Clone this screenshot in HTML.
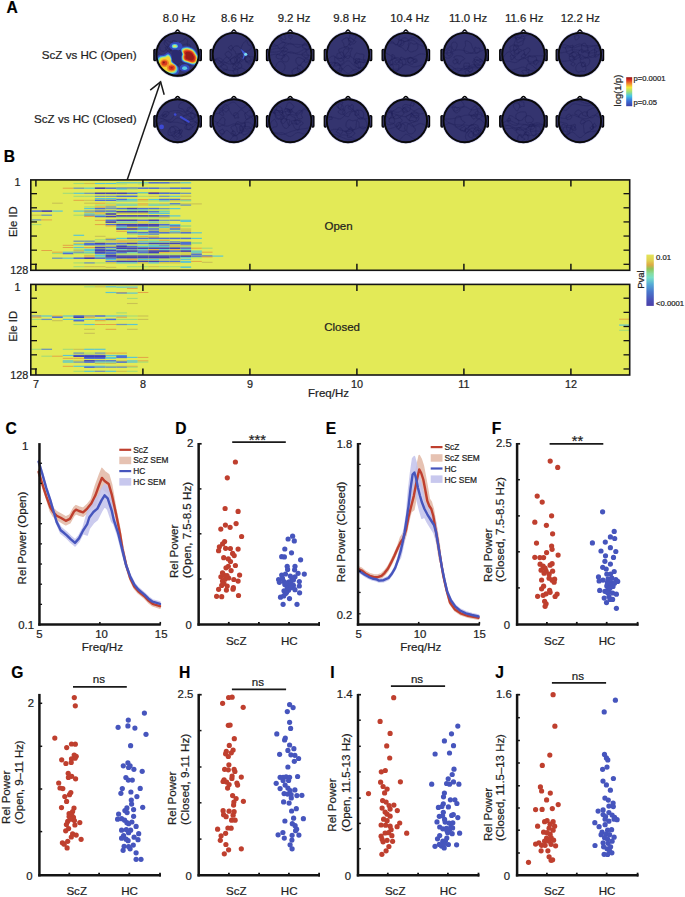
<!DOCTYPE html>
<html><head><meta charset="utf-8"><style>
html,body{margin:0;padding:0;background:#fff;}
svg{display:block;}
text{font-family:"Liberation Sans", sans-serif; stroke:#1e1e1e; stroke-width:0.22px; paint-order:stroke;}
</style></head><body>
<svg width="685" height="897" viewBox="0 0 685 897">
<rect width="685" height="897" fill="#fff"/>
<text x="6.40" y="12.70" font-size="15.6" text-anchor="start" font-weight="bold" fill="#000">A</text>
<text x="3.70" y="161.70" font-size="15.6" text-anchor="start" font-weight="bold" fill="#000">B</text>
<text x="5.60" y="434.20" font-size="15.6" text-anchor="start" font-weight="bold" fill="#000">C</text>
<text x="175.20" y="434.20" font-size="15.6" text-anchor="start" font-weight="bold" fill="#000">D</text>
<text x="325.80" y="434.10" font-size="15.6" text-anchor="start" font-weight="bold" fill="#000">E</text>
<text x="491.80" y="434.10" font-size="15.6" text-anchor="start" font-weight="bold" fill="#000">F</text>
<text x="11.30" y="677.70" font-size="15.6" text-anchor="start" font-weight="bold" fill="#000">G</text>
<text x="179.00" y="677.70" font-size="15.6" text-anchor="start" font-weight="bold" fill="#000">H</text>
<text x="330.30" y="678.00" font-size="15.6" text-anchor="start" font-weight="bold" fill="#000">I</text>
<text x="495.20" y="677.80" font-size="15.6" text-anchor="start" font-weight="bold" fill="#000">J</text>
<text x="179.10" y="22.10" font-size="11.4" text-anchor="middle" fill="#1e1e1e">8.0 Hz</text>
<text x="237.40" y="22.10" font-size="11.4" text-anchor="middle" fill="#1e1e1e">8.6 Hz</text>
<text x="294.10" y="22.10" font-size="11.4" text-anchor="middle" fill="#1e1e1e">9.2 Hz</text>
<text x="349.70" y="22.10" font-size="11.4" text-anchor="middle" fill="#1e1e1e">9.8 Hz</text>
<text x="409.90" y="22.10" font-size="11.4" text-anchor="middle" fill="#1e1e1e">10.4 Hz</text>
<text x="468.10" y="22.10" font-size="11.4" text-anchor="middle" fill="#1e1e1e">11.0 Hz</text>
<text x="524.20" y="22.10" font-size="11.4" text-anchor="middle" fill="#1e1e1e">11.6 Hz</text>
<text x="580.30" y="22.10" font-size="11.4" text-anchor="middle" fill="#1e1e1e">12.2 Hz</text>
<text x="136.50" y="58.60" font-size="11.6" text-anchor="end" fill="#1e1e1e">ScZ vs HC (Open)</text>
<text x="136.50" y="123.00" font-size="11.6" text-anchor="end" fill="#1e1e1e">ScZ vs HC (Closed)</text>
<defs><linearGradient id="jet" x1="0" y1="1" x2="0" y2="0"><stop offset="0" stop-color="#3a3fa8"/><stop offset="0.18" stop-color="#3b6fd8"/><stop offset="0.35" stop-color="#46c6e6"/><stop offset="0.5" stop-color="#9ee07a"/><stop offset="0.65" stop-color="#f3e83a"/><stop offset="0.8" stop-color="#f0782a"/><stop offset="0.92" stop-color="#d2241e"/><stop offset="1" stop-color="#8e1a16"/></linearGradient><linearGradient id="parula" x1="0" y1="1" x2="0" y2="0"><stop offset="0" stop-color="#4a3ea8"/><stop offset="0.12" stop-color="#4a52b8"/><stop offset="0.28" stop-color="#4a78cc"/><stop offset="0.42" stop-color="#56aad6"/><stop offset="0.55" stop-color="#78e0c8"/><stop offset="0.63" stop-color="#86dca0"/><stop offset="0.72" stop-color="#8cc65a"/><stop offset="0.80" stop-color="#dcaa44"/><stop offset="0.88" stop-color="#e0d050"/><stop offset="1" stop-color="#e3e45a"/></linearGradient></defs>
<rect x="626.2" y="77.2" width="6" height="29" fill="url(#jet)"/>
<text x="633.50" y="81.40" font-size="7.6" text-anchor="start" fill="#1e1e1e">p=0.0001</text>
<text x="633.50" y="105.10" font-size="7.6" text-anchor="start" fill="#1e1e1e">p=0.05</text>
<text x="620.80" y="90.50" font-size="9.4" text-anchor="middle" fill="#1e1e1e" transform="rotate(-90 620.8 90.5)">log(1/p)</text>
<line x1="126.30" y1="182.40" x2="160.60" y2="81.80" stroke="#1a1a1a" stroke-width="1.5"/>
<path d="M150.2,90.1 L160.6,81.8 L164.2,94.8" fill="none" stroke="#1a1a1a" stroke-width="1.5"/>
<defs><filter id="tblur" x="-20%" y="-20%" width="140%" height="140%"><feGaussianBlur stdDeviation="0.45"/></filter></defs>
<defs><clipPath id="tc00"><circle cx="177.60" cy="54.35" r="21.35"/></clipPath></defs>
<defs><clipPath id="tc01"><circle cx="233.90" cy="54.35" r="21.35"/></clipPath></defs>
<defs><clipPath id="tc02"><circle cx="290.20" cy="54.35" r="21.35"/></clipPath></defs>
<defs><clipPath id="tc03"><circle cx="348.00" cy="54.35" r="21.35"/></clipPath></defs>
<defs><clipPath id="tc04"><circle cx="405.85" cy="54.35" r="21.35"/></clipPath></defs>
<defs><clipPath id="tc05"><circle cx="464.70" cy="54.35" r="21.35"/></clipPath></defs>
<defs><clipPath id="tc06"><circle cx="523.45" cy="54.35" r="21.35"/></clipPath></defs>
<defs><clipPath id="tc07"><circle cx="579.90" cy="54.35" r="21.35"/></clipPath></defs>
<defs><clipPath id="tc10"><circle cx="177.60" cy="120.75" r="21.35"/></clipPath></defs>
<defs><clipPath id="tc11"><circle cx="233.90" cy="120.75" r="21.35"/></clipPath></defs>
<defs><clipPath id="tc12"><circle cx="290.20" cy="120.75" r="21.35"/></clipPath></defs>
<defs><clipPath id="tc13"><circle cx="348.00" cy="120.75" r="21.35"/></clipPath></defs>
<defs><clipPath id="tc14"><circle cx="405.85" cy="120.75" r="21.35"/></clipPath></defs>
<defs><clipPath id="tc15"><circle cx="464.70" cy="120.75" r="21.35"/></clipPath></defs>
<defs><clipPath id="tc16"><circle cx="523.45" cy="120.75" r="21.35"/></clipPath></defs>
<defs><clipPath id="tc17"><circle cx="579.90" cy="120.75" r="21.35"/></clipPath></defs>
<g transform="translate(177.60 54.35) scale(1 1.013) translate(-177.60 -54.35)">
<rect x="153.85" y="49.35" width="2.3" height="11.2" rx="0.9" fill="#1e1e44" stroke="#000" stroke-width="1.2"/>
<rect x="199.05" y="49.35" width="2.3" height="11.2" rx="0.9" fill="#1e1e44" stroke="#000" stroke-width="1.2"/>
<path d="M174.20,33.90 Q175.20,32.50 176.50,31.00 Q177.60,29.80 178.70,31.00 Q180.00,32.50 181.00,33.90" fill="#fff" stroke="#000" stroke-width="1.5" stroke-linejoin="round"/>
<circle cx="177.60" cy="54.35" r="22.75" fill="#8080c8" opacity="0.45"/>
<circle cx="177.60" cy="54.35" r="21.85" fill="#34346f"/>
<g clip-path="url(#tc00)"><path d="M182.06,67.89 C182.11,68.59 181.81,69.79 181.30,70.13 C180.79,70.47 179.59,70.02 178.98,69.92 C178.38,69.83 178.35,69.67 177.66,69.56 C176.97,69.45 175.08,69.69 174.84,69.26 C174.60,68.84 175.80,67.60 176.22,67.01 C176.64,66.42 176.85,66.31 177.38,65.73 C177.91,65.15 178.79,63.50 179.39,63.53 C180.00,63.56 180.55,65.17 181.00,65.90 C181.44,66.62 182.01,67.18 182.06,67.89Z" fill="none" stroke="#1f1f55" stroke-width="0.55" opacity="0.6"/><path d="M187.17,43.48 C187.18,44.45 188.04,45.56 187.70,46.44 C187.36,47.33 186.04,48.67 185.10,48.79 C184.16,48.90 182.98,47.75 182.04,47.15 C181.11,46.55 179.89,46.06 179.50,45.18 C179.11,44.29 179.16,42.53 179.72,41.86 C180.27,41.18 181.92,41.68 182.81,41.13 C183.70,40.57 184.24,38.62 185.04,38.53 C185.83,38.44 187.23,39.78 187.59,40.61 C187.94,41.43 187.15,42.50 187.17,43.48Z" fill="none" stroke="#1f1f55" stroke-width="0.55" opacity="0.6"/><path d="M181.47,57.42 C181.36,58.78 181.70,60.13 181.08,61.20 C180.45,62.27 178.94,63.63 177.71,63.84 C176.47,64.06 174.88,63.19 173.64,62.50 C172.41,61.81 170.52,60.82 170.29,59.71 C170.06,58.60 171.74,57.13 172.27,55.86 C172.80,54.58 172.61,52.57 173.47,52.05 C174.33,51.53 176.03,52.54 177.40,52.72 C178.78,52.89 181.06,52.30 181.74,53.09 C182.42,53.87 181.58,56.07 181.47,57.42Z" fill="none" stroke="#1f1f55" stroke-width="0.55" opacity="0.6"/><path d="M183.54,50.39 C183.63,50.99 184.41,52.06 184.18,52.42 C183.95,52.78 182.75,52.51 182.14,52.54 C181.52,52.57 180.86,52.83 180.49,52.58 C180.12,52.34 180.09,51.55 179.94,51.05 C179.79,50.55 179.45,50.01 179.58,49.60 C179.71,49.18 180.29,48.78 180.71,48.58 C181.13,48.37 181.62,48.35 182.11,48.39 C182.60,48.43 183.41,48.47 183.64,48.81 C183.88,49.14 183.45,49.79 183.54,50.39Z" fill="none" stroke="#1f1f55" stroke-width="0.55" opacity="0.6"/><path d="M168.30,45.51 C168.43,46.60 167.55,48.10 166.75,49.08 C165.96,50.07 164.66,51.33 163.54,51.44 C162.42,51.56 160.71,50.58 160.04,49.77 C159.37,48.96 159.99,47.62 159.53,46.59 C159.07,45.57 157.26,44.64 157.26,43.61 C157.26,42.57 158.49,41.00 159.53,40.38 C160.57,39.76 162.41,39.51 163.49,39.88 C164.57,40.24 165.19,41.64 165.99,42.58 C166.79,43.52 168.18,44.43 168.30,45.51Z" fill="none" stroke="#1f1f55" stroke-width="0.55" opacity="0.6"/><path d="M180.86,46.11 C180.92,46.92 179.56,48.19 178.79,48.71 C178.02,49.23 177.28,48.77 176.25,49.24 C175.21,49.71 173.72,51.67 172.57,51.53 C171.41,51.40 169.31,49.52 169.32,48.43 C169.32,47.34 172.06,46.25 172.62,44.99 C173.18,43.73 172.03,41.43 172.67,40.87 C173.31,40.32 175.53,41.16 176.48,41.65 C177.43,42.15 177.66,43.11 178.39,43.85 C179.12,44.60 180.79,45.30 180.86,46.11Z" fill="none" stroke="#1f1f55" stroke-width="0.55" opacity="0.6"/><path d="M176.40,69.88 C176.20,71.22 177.85,72.88 177.41,73.40 C176.97,73.93 174.96,72.76 173.76,73.03 C172.57,73.29 171.03,75.27 170.25,74.99 C169.48,74.72 169.65,72.59 169.12,71.36 C168.58,70.14 166.94,68.88 167.04,67.63 C167.14,66.38 168.55,64.30 169.72,63.85 C170.90,63.39 172.61,64.65 174.08,64.90 C175.56,65.15 178.21,64.52 178.60,65.35 C178.98,66.18 176.60,68.53 176.40,69.88Z" fill="none" stroke="#1f1f55" stroke-width="0.55" opacity="0.6"/><path d="M178.24,59.10 C177.93,60.02 178.37,60.45 178.06,61.06 C177.75,61.67 177.13,62.46 176.38,62.77 C175.62,63.07 174.11,63.33 173.54,62.89 C172.98,62.44 173.03,60.87 172.99,60.10 C172.96,59.32 173.31,59.15 173.34,58.23 C173.36,57.31 172.63,55.01 173.13,54.60 C173.63,54.18 175.19,55.57 176.32,55.73 C177.46,55.89 179.62,55.01 179.94,55.57 C180.26,56.13 178.56,58.19 178.24,59.10Z" fill="none" stroke="#1f1f55" stroke-width="0.55" opacity="0.6"/><path d="M190.17,47.51 C190.14,48.37 190.09,49.40 189.60,50.02 C189.12,50.64 188.07,51.11 187.26,51.23 C186.46,51.34 185.49,51.09 184.77,50.69 C184.06,50.29 183.44,49.62 183.00,48.82 C182.56,48.02 181.85,46.62 182.16,45.89 C182.46,45.16 184.01,44.73 184.85,44.46 C185.69,44.19 186.36,44.18 187.18,44.25 C188.00,44.32 189.27,44.32 189.77,44.86 C190.26,45.41 190.20,46.65 190.17,47.51Z" fill="none" stroke="#1f1f55" stroke-width="0.55" opacity="0.6"/><path d="M183.89,64.42 C184.16,65.40 183.52,67.49 182.69,68.03 C181.87,68.58 180.10,67.54 178.96,67.67 C177.82,67.79 176.86,69.00 175.86,68.79 C174.86,68.58 173.07,67.31 172.97,66.39 C172.87,65.47 174.84,64.46 175.25,63.28 C175.66,62.09 174.73,60.08 175.42,59.29 C176.12,58.50 178.48,58.04 179.42,58.52 C180.37,59.00 180.33,61.18 181.07,62.16 C181.82,63.14 183.62,63.44 183.89,64.42Z" fill="none" stroke="#1f1f55" stroke-width="0.55" opacity="0.6"/><path d="M172.65,45.33 C172.76,46.32 173.18,47.72 172.70,48.57 C172.21,49.41 170.60,50.55 169.74,50.39 C168.87,50.24 168.10,48.33 167.51,47.64 C166.93,46.96 166.77,46.96 166.22,46.29 C165.67,45.63 164.28,44.66 164.22,43.65 C164.17,42.64 165.02,40.50 165.89,40.21 C166.76,39.93 168.42,41.53 169.45,41.93 C170.47,42.34 171.50,42.09 172.04,42.66 C172.57,43.23 172.54,44.35 172.65,45.33Z" fill="none" stroke="#1f1f55" stroke-width="0.55" opacity="0.6"/><path d="M171.58,48.63 C171.46,49.33 171.41,49.88 171.06,50.44 C170.72,50.99 170.07,51.88 169.49,51.96 C168.91,52.04 168.13,51.31 167.58,50.91 C167.04,50.52 166.62,50.20 166.24,49.60 C165.86,49.00 165.02,47.76 165.30,47.31 C165.59,46.87 167.23,47.26 167.93,46.93 C168.62,46.60 168.84,45.47 169.48,45.35 C170.12,45.24 171.42,45.68 171.77,46.22 C172.12,46.77 171.70,47.92 171.58,48.63Z" fill="none" stroke="#1f1f55" stroke-width="0.55" opacity="0.6"/><path d="M178.18,62.42 C178.06,63.29 177.64,63.98 177.15,64.72 C176.65,65.47 176.11,66.46 175.19,66.88 C174.27,67.29 172.28,67.77 171.64,67.21 C171.00,66.65 171.53,64.57 171.35,63.53 C171.17,62.50 170.39,61.80 170.56,61.02 C170.72,60.24 171.52,59.60 172.33,58.84 C173.15,58.08 174.53,56.35 175.45,56.47 C176.38,56.58 177.43,58.51 177.88,59.50 C178.33,60.50 178.30,61.55 178.18,62.42Z" fill="none" stroke="#1f1f55" stroke-width="0.55" opacity="0.6"/><path d="M155.95,64.02 C157.15,64.24 160.76,64.72 163.17,65.36 C165.57,66.00 167.98,67.14 170.38,67.87 C172.79,68.60 175.19,70.01 177.60,69.74 C180.01,69.48 182.41,67.15 184.82,66.27 C187.22,65.39 189.63,64.91 192.03,64.47 C194.44,64.03 198.05,63.77 199.25,63.63" fill="none" stroke="#1f1f55" stroke-width="0.55" opacity="0.55"/><path d="M155.95,52.90 C157.15,53.72 160.76,56.97 163.17,57.83 C165.57,58.69 167.98,58.92 170.38,58.08 C172.79,57.25 175.19,53.59 177.60,52.84 C180.01,52.10 182.41,52.77 184.82,53.61 C187.22,54.44 189.63,57.35 192.03,57.83 C194.44,58.32 198.05,56.73 199.25,56.51" fill="none" stroke="#1f1f55" stroke-width="0.55" opacity="0.55"/><path d="M155.95,63.72 C157.15,63.43 160.76,62.07 163.17,62.00 C165.57,61.93 167.98,62.41 170.38,63.29 C172.79,64.18 175.19,67.34 177.60,67.31 C180.01,67.28 182.41,63.72 184.82,63.13 C187.22,62.53 189.63,63.54 192.03,63.73 C194.44,63.92 198.05,64.20 199.25,64.29" fill="none" stroke="#1f1f55" stroke-width="0.55" opacity="0.55"/><path d="M155.95,50.85 C157.15,51.53 160.76,55.27 163.17,54.94 C165.57,54.60 167.98,50.04 170.38,48.82 C172.79,47.60 175.19,46.56 177.60,47.61 C180.01,48.66 182.41,53.95 184.82,55.12 C187.22,56.28 189.63,54.55 192.03,54.61 C194.44,54.67 198.05,55.32 199.25,55.47" fill="none" stroke="#1f1f55" stroke-width="0.55" opacity="0.55"/><g filter="url(#tblur)"><path d="M155.93,58.33 C156.42,57.05 156.99,56.15 158.36,55.51 C159.72,54.87 162.58,54.98 164.12,54.49 C165.65,54.00 166.53,52.66 167.57,52.57 C168.62,52.48 169.66,53.17 170.39,53.98 C171.12,54.79 171.58,56.22 171.93,57.43 C172.27,58.65 171.80,60.14 172.44,61.27 C173.08,62.40 174.72,63.24 175.77,64.22 C176.81,65.20 178.13,66.03 178.71,67.16 C179.29,68.29 179.54,69.79 179.22,71.00 C178.90,72.22 178.01,73.73 176.79,74.46 C175.57,75.18 173.72,75.44 171.93,75.35 C170.13,75.27 167.83,74.59 166.04,73.95 C164.25,73.31 162.62,72.50 161.17,71.51 C159.72,70.53 158.29,69.44 157.33,68.06 C156.37,66.67 155.65,64.82 155.41,63.19 C155.18,61.57 155.44,59.61 155.93,58.33Z" fill="#3448bc"/><path d="M180.39,49.14 C180.55,47.98 181.55,47.29 182.71,46.82 C183.87,46.35 185.80,46.17 187.35,46.33 C188.89,46.49 190.68,47.16 191.98,47.79 C193.28,48.43 194.24,49.12 195.15,50.11 C196.07,51.11 196.76,52.53 197.47,53.77 C198.18,55.01 199.14,56.31 199.42,57.55 C199.71,58.80 199.50,60.08 199.18,61.21 C198.85,62.35 198.37,63.70 197.47,64.39 C196.58,65.08 195.03,65.36 193.81,65.36 C192.59,65.36 191.39,64.77 190.15,64.39 C188.91,64.00 187.47,63.41 186.37,63.04 C185.27,62.68 184.40,62.66 183.56,62.19 C182.73,61.72 181.81,61.17 181.37,60.24 C180.92,59.30 180.82,57.66 180.88,56.58 C180.94,55.50 181.81,55.01 181.73,53.77 C181.65,52.53 180.23,50.30 180.39,49.14Z" fill="#3448bc"/><ellipse cx="176.00" cy="46.45" rx="6.5" ry="4.2" fill="#3448bc"/><ellipse cx="184.60" cy="67.75" rx="5" ry="3.6" fill="#3448bc"/><path d="M172.00,50.95 C172.75,49.70 175.50,49.62 177.00,49.95 C178.50,50.28 180.25,51.53 181.00,52.95 C181.75,54.37 181.83,56.70 181.50,58.45 C181.17,60.20 180.17,62.78 179.00,63.45 C177.83,64.12 175.58,63.45 174.50,62.45 C173.42,61.45 172.92,59.37 172.50,57.45 C172.08,55.53 171.25,52.20 172.00,50.95Z" fill="#2c2c70"/><path d="M157.58,59.11 C158.00,58.01 158.50,57.24 159.67,56.69 C160.84,56.14 163.30,56.24 164.62,55.81 C165.94,55.39 166.69,54.24 167.59,54.16 C168.49,54.09 169.39,54.68 170.01,55.37 C170.63,56.07 171.04,57.30 171.33,58.34 C171.62,59.39 171.22,60.67 171.77,61.64 C172.32,62.62 173.73,63.33 174.63,64.17 C175.53,65.02 176.67,65.73 177.16,66.70 C177.66,67.68 177.88,68.96 177.60,70.00 C177.33,71.05 176.56,72.35 175.51,72.97 C174.47,73.60 172.87,73.82 171.33,73.74 C169.79,73.67 167.81,73.08 166.27,72.53 C164.73,71.98 163.34,71.29 162.09,70.44 C160.84,69.60 159.62,68.67 158.79,67.47 C157.97,66.28 157.34,64.69 157.14,63.29 C156.94,61.90 157.16,60.21 157.58,59.11Z" fill="#46b4e4"/><path d="M158.50,59.55 C158.88,58.55 159.33,57.85 160.40,57.35 C161.47,56.85 163.70,56.93 164.90,56.55 C166.10,56.17 166.78,55.12 167.60,55.05 C168.42,54.98 169.23,55.52 169.80,56.15 C170.37,56.78 170.73,57.90 171.00,58.85 C171.27,59.80 170.90,60.97 171.40,61.85 C171.90,62.73 173.18,63.38 174.00,64.15 C174.82,64.92 175.85,65.57 176.30,66.45 C176.75,67.33 176.95,68.50 176.70,69.45 C176.45,70.40 175.75,71.58 174.80,72.15 C173.85,72.72 172.40,72.92 171.00,72.85 C169.60,72.78 167.80,72.25 166.40,71.75 C165.00,71.25 163.73,70.62 162.60,69.85 C161.47,69.08 160.35,68.23 159.60,67.15 C158.85,66.07 158.28,64.62 158.10,63.35 C157.92,62.08 158.12,60.55 158.50,59.55Z" fill="#8ee0a0"/><path d="M159.42,59.99 C159.76,59.09 160.17,58.46 161.13,58.01 C162.09,57.56 164.10,57.63 165.18,57.29 C166.26,56.94 166.87,56.00 167.61,55.94 C168.34,55.88 169.08,56.36 169.59,56.93 C170.10,57.50 170.43,58.50 170.67,59.36 C170.91,60.21 170.58,61.26 171.03,62.06 C171.48,62.85 172.63,63.44 173.37,64.13 C174.10,64.82 175.03,65.40 175.44,66.20 C175.84,66.99 176.02,68.04 175.80,68.90 C175.57,69.75 174.94,70.82 174.09,71.33 C173.23,71.84 171.93,72.02 170.67,71.96 C169.41,71.90 167.79,71.42 166.53,70.97 C165.27,70.52 164.13,69.95 163.11,69.26 C162.09,68.57 161.08,67.80 160.41,66.83 C159.73,65.85 159.22,64.55 159.06,63.41 C158.89,62.27 159.07,60.89 159.42,59.99Z" fill="#e6e43a"/><path d="M160.34,60.42 C160.65,59.62 161.01,59.06 161.86,58.66 C162.71,58.26 164.50,58.33 165.46,58.02 C166.42,57.71 166.97,56.87 167.62,56.82 C168.27,56.77 168.93,57.19 169.38,57.70 C169.83,58.21 170.13,59.10 170.34,59.86 C170.55,60.62 170.26,61.55 170.66,62.26 C171.06,62.97 172.09,63.49 172.74,64.10 C173.39,64.71 174.22,65.23 174.58,65.94 C174.94,66.65 175.10,67.58 174.90,68.34 C174.70,69.10 174.14,70.05 173.38,70.50 C172.62,70.95 171.46,71.11 170.34,71.06 C169.22,71.01 167.78,70.58 166.66,70.18 C165.54,69.78 164.53,69.27 163.62,68.66 C162.71,68.05 161.82,67.37 161.22,66.50 C160.62,65.63 160.17,64.47 160.02,63.46 C159.87,62.45 160.03,61.22 160.34,60.42Z" fill="#f4d030"/><path d="M181.27,49.85 C181.42,48.81 182.31,48.18 183.36,47.76 C184.40,47.34 186.15,47.18 187.54,47.32 C188.93,47.47 190.55,48.07 191.72,48.64 C192.89,49.21 193.75,49.83 194.58,50.73 C195.40,51.63 196.03,52.91 196.67,54.03 C197.31,55.15 198.17,56.32 198.43,57.44 C198.69,58.56 198.50,59.72 198.21,60.74 C197.92,61.77 197.48,62.98 196.67,63.60 C195.86,64.23 194.47,64.48 193.37,64.48 C192.27,64.48 191.19,63.95 190.07,63.60 C188.95,63.25 187.65,62.72 186.66,62.39 C185.67,62.06 184.88,62.04 184.13,61.62 C183.38,61.20 182.55,60.71 182.15,59.86 C181.75,59.02 181.65,57.53 181.71,56.56 C181.76,55.59 182.55,55.15 182.48,54.03 C182.41,52.91 181.12,50.90 181.27,49.85Z" fill="#46b4e4"/><path d="M182.00,50.45 C182.13,49.50 182.95,48.93 183.90,48.55 C184.85,48.17 186.43,48.02 187.70,48.15 C188.97,48.28 190.43,48.83 191.50,49.35 C192.57,49.87 193.35,50.43 194.10,51.25 C194.85,52.07 195.42,53.23 196.00,54.25 C196.58,55.27 197.37,56.33 197.60,57.35 C197.83,58.37 197.67,59.42 197.40,60.35 C197.13,61.28 196.73,62.38 196.00,62.95 C195.27,63.52 194.00,63.75 193.00,63.75 C192.00,63.75 191.02,63.27 190.00,62.95 C188.98,62.63 187.80,62.15 186.90,61.85 C186.00,61.55 185.28,61.53 184.60,61.15 C183.92,60.77 183.17,60.32 182.80,59.55 C182.43,58.78 182.35,57.43 182.40,56.55 C182.45,55.67 183.17,55.27 183.10,54.25 C183.03,53.23 181.87,51.40 182.00,50.45Z" fill="#9ee090"/><path d="M182.59,50.93 C182.71,50.05 183.46,49.53 184.33,49.18 C185.21,48.83 186.66,48.69 187.83,48.81 C188.99,48.93 190.34,49.44 191.32,49.92 C192.31,50.39 193.03,50.91 193.72,51.66 C194.41,52.41 194.93,53.49 195.47,54.42 C196.00,55.36 196.72,56.34 196.94,57.28 C197.15,58.21 197.00,59.18 196.75,60.04 C196.51,60.89 196.14,61.91 195.47,62.43 C194.79,62.95 193.62,63.16 192.71,63.16 C191.79,63.16 190.88,62.72 189.94,62.43 C189.01,62.14 187.92,61.69 187.09,61.42 C186.27,61.14 185.61,61.12 184.98,60.77 C184.35,60.42 183.66,60.00 183.32,59.30 C182.98,58.59 182.91,57.35 182.95,56.54 C183.00,55.73 183.66,55.36 183.60,54.42 C183.54,53.49 182.46,51.80 182.59,50.93Z" fill="#f0d838"/><path d="M183.17,51.41 C183.28,50.61 183.97,50.13 184.77,49.81 C185.56,49.49 186.89,49.36 187.96,49.47 C189.02,49.59 190.25,50.05 191.15,50.48 C192.05,50.91 192.70,51.39 193.33,52.08 C193.96,52.76 194.44,53.74 194.93,54.60 C195.42,55.45 196.08,56.35 196.27,57.20 C196.47,58.05 196.33,58.94 196.11,59.72 C195.88,60.51 195.55,61.43 194.93,61.91 C194.31,62.38 193.25,62.58 192.41,62.58 C191.57,62.58 190.74,62.17 189.89,61.91 C189.04,61.64 188.04,61.23 187.29,60.98 C186.53,60.73 185.93,60.72 185.35,60.39 C184.78,60.07 184.15,59.69 183.84,59.05 C183.53,58.41 183.46,57.27 183.51,56.53 C183.55,55.79 184.15,55.45 184.09,54.60 C184.04,53.74 183.06,52.20 183.17,51.41Z" fill="#ee7a24"/><path d="M184.05,52.12 C184.14,51.44 184.73,51.03 185.42,50.75 C186.10,50.48 187.24,50.37 188.15,50.47 C189.06,50.56 190.12,50.96 190.89,51.33 C191.66,51.70 192.22,52.11 192.76,52.70 C193.30,53.29 193.71,54.13 194.13,54.86 C194.55,55.59 195.11,56.36 195.28,57.09 C195.45,57.82 195.33,58.58 195.14,59.25 C194.94,59.92 194.66,60.71 194.13,61.12 C193.60,61.53 192.69,61.70 191.97,61.70 C191.25,61.70 190.54,61.35 189.81,61.12 C189.08,60.89 188.22,60.55 187.58,60.33 C186.93,60.11 186.41,60.10 185.92,59.83 C185.43,59.55 184.89,59.23 184.62,58.67 C184.36,58.12 184.30,57.15 184.34,56.51 C184.37,55.88 184.89,55.59 184.84,54.86 C184.79,54.13 183.95,52.81 184.05,52.12Z" fill="#d22a1e"/><path d="M185.29,53.14 C185.36,52.61 185.81,52.30 186.34,52.09 C186.86,51.88 187.73,51.80 188.43,51.87 C189.12,51.94 189.93,52.25 190.52,52.53 C191.10,52.82 191.53,53.13 191.95,53.58 C192.36,54.03 192.67,54.67 192.99,55.23 C193.31,55.79 193.74,56.37 193.87,56.93 C194.00,57.49 193.91,58.07 193.76,58.58 C193.61,59.09 193.39,59.70 192.99,60.01 C192.59,60.32 191.89,60.45 191.34,60.45 C190.79,60.45 190.25,60.19 189.69,60.01 C189.13,59.84 188.48,59.57 187.99,59.41 C187.49,59.24 187.10,59.23 186.72,59.02 C186.34,58.81 185.93,58.56 185.73,58.14 C185.53,57.72 185.48,56.98 185.51,56.49 C185.54,56.01 185.93,55.79 185.90,55.23 C185.86,54.67 185.22,53.66 185.29,53.14Z" fill="#9a1a14"/><ellipse cx="164.60" cy="63.05" rx="4.4" ry="3.8" fill="#f08a28"/><ellipse cx="171.40" cy="67.65" rx="4.4" ry="3.6" fill="#f08a28"/><ellipse cx="164.40" cy="62.85" rx="2.9" ry="2.5" fill="#d83a1e"/><ellipse cx="171.60" cy="67.65" rx="3.0" ry="2.4" fill="#d83a1e"/><ellipse cx="163.80" cy="62.45" rx="1.1" ry="1.0" fill="#8a1a14"/><ellipse cx="171.60" cy="67.65" rx="2.6" ry="2.0" fill="#de3a1e"/><ellipse cx="171.60" cy="67.65" rx="1.3" ry="1.0" fill="#b01e16"/><ellipse cx="174.80" cy="46.25" rx="3.0" ry="2.0" fill="#58d0e0"/><ellipse cx="174.80" cy="46.25" rx="1.8" ry="1.2" fill="#d8e860"/><ellipse cx="184.60" cy="67.95" rx="2.6" ry="1.8" fill="#5cc8e0"/><ellipse cx="198.20" cy="57.95" rx="1.2" ry="3.0" fill="#58c8e0"/></g></g>
<circle cx="177.60" cy="54.35" r="21.20" fill="none" stroke="#0a0a0a" stroke-width="1.9"/>
</g>
<g transform="translate(233.90 54.35) scale(1 1.013) translate(-233.90 -54.35)">
<rect x="210.15" y="49.35" width="2.3" height="11.2" rx="0.9" fill="#1e1e44" stroke="#000" stroke-width="1.2"/>
<rect x="255.35" y="49.35" width="2.3" height="11.2" rx="0.9" fill="#1e1e44" stroke="#000" stroke-width="1.2"/>
<path d="M230.50,33.90 Q231.50,32.50 232.80,31.00 Q233.90,29.80 235.00,31.00 Q236.30,32.50 237.30,33.90" fill="#fff" stroke="#000" stroke-width="1.5" stroke-linejoin="round"/>
<circle cx="233.90" cy="54.35" r="22.75" fill="#8080c8" opacity="0.45"/>
<circle cx="233.90" cy="54.35" r="21.85" fill="#34346f"/>
<g clip-path="url(#tc01)"><path d="M236.78,60.24 C236.71,60.75 236.36,61.12 236.05,61.61 C235.74,62.10 235.58,62.80 234.94,63.20 C234.30,63.60 232.96,64.27 232.24,64.01 C231.52,63.75 230.87,62.48 230.61,61.62 C230.35,60.77 230.28,59.48 230.70,58.88 C231.12,58.29 232.43,58.37 233.15,58.04 C233.87,57.71 234.45,56.85 235.00,56.93 C235.56,57.01 236.18,57.96 236.47,58.51 C236.77,59.07 236.85,59.72 236.78,60.24Z" fill="none" stroke="#1f1f55" stroke-width="0.55" opacity="0.6"/><path d="M240.18,59.65 C240.17,60.36 239.70,61.23 239.21,61.76 C238.72,62.29 237.95,62.72 237.26,62.83 C236.58,62.95 235.49,62.86 235.09,62.44 C234.69,62.02 234.94,60.91 234.86,60.32 C234.78,59.73 234.57,59.42 234.63,58.90 C234.70,58.38 234.84,57.56 235.27,57.18 C235.71,56.80 236.57,56.57 237.23,56.62 C237.90,56.68 238.76,57.01 239.25,57.51 C239.74,58.02 240.19,58.94 240.18,59.65Z" fill="none" stroke="#1f1f55" stroke-width="0.55" opacity="0.6"/><path d="M242.45,50.64 C242.53,51.44 241.64,52.76 240.96,53.25 C240.28,53.74 239.22,53.46 238.37,53.60 C237.52,53.73 236.39,54.41 235.87,54.07 C235.36,53.73 235.82,52.45 235.30,51.57 C234.78,50.69 232.74,49.69 232.73,48.78 C232.72,47.87 234.27,46.50 235.24,46.12 C236.21,45.74 237.71,46.12 238.58,46.51 C239.45,46.90 239.81,47.77 240.45,48.46 C241.10,49.15 242.36,49.84 242.45,50.64Z" fill="none" stroke="#1f1f55" stroke-width="0.55" opacity="0.6"/><path d="M252.08,46.81 C252.32,47.70 250.45,49.31 249.51,50.08 C248.56,50.86 247.53,51.21 246.42,51.45 C245.31,51.69 243.76,52.04 242.87,51.54 C241.98,51.04 241.23,49.44 241.11,48.44 C240.98,47.44 241.74,46.43 242.13,45.54 C242.53,44.65 242.70,43.93 243.46,43.10 C244.23,42.28 245.93,40.30 246.70,40.57 C247.47,40.84 247.17,43.70 248.06,44.74 C248.96,45.78 251.84,45.92 252.08,46.81Z" fill="none" stroke="#1f1f55" stroke-width="0.55" opacity="0.6"/><path d="M250.77,58.53 C250.82,59.08 250.39,59.90 249.98,60.31 C249.56,60.72 248.97,60.70 248.28,60.97 C247.60,61.25 246.28,62.25 245.87,61.96 C245.46,61.68 245.92,59.99 245.83,59.26 C245.75,58.54 245.22,58.06 245.37,57.63 C245.53,57.19 246.27,57.02 246.77,56.66 C247.27,56.29 247.92,55.38 248.40,55.44 C248.87,55.50 249.24,56.52 249.64,57.03 C250.03,57.55 250.71,57.98 250.77,58.53Z" fill="none" stroke="#1f1f55" stroke-width="0.55" opacity="0.6"/><path d="M227.21,66.87 C227.39,67.57 227.58,69.07 227.11,69.41 C226.65,69.74 225.11,69.01 224.44,68.87 C223.77,68.72 223.54,68.75 223.12,68.55 C222.69,68.34 222.29,68.15 221.89,67.67 C221.48,67.18 220.59,66.23 220.68,65.63 C220.78,65.02 221.82,64.22 222.46,64.04 C223.09,63.86 223.89,64.35 224.50,64.54 C225.10,64.74 225.61,64.82 226.07,65.21 C226.52,65.59 227.04,66.17 227.21,66.87Z" fill="none" stroke="#1f1f55" stroke-width="0.55" opacity="0.6"/><path d="M241.65,65.55 C241.67,66.08 241.66,66.77 241.36,67.21 C241.06,67.64 240.37,68.12 239.85,68.18 C239.32,68.24 238.72,67.85 238.22,67.56 C237.72,67.28 236.86,66.87 236.86,66.46 C236.87,66.06 237.97,65.52 238.25,65.14 C238.54,64.75 238.30,64.51 238.57,64.14 C238.83,63.77 239.41,62.92 239.85,62.90 C240.29,62.88 240.91,63.57 241.21,64.01 C241.51,64.45 241.63,65.02 241.65,65.55Z" fill="none" stroke="#1f1f55" stroke-width="0.55" opacity="0.6"/><path d="M223.92,63.89 C224.04,64.52 222.17,65.58 221.40,66.08 C220.64,66.59 220.08,66.73 219.32,66.92 C218.56,67.12 217.37,67.62 216.83,67.28 C216.28,66.93 216.31,65.66 216.05,64.88 C215.80,64.10 215.31,63.59 215.30,62.62 C215.29,61.64 215.30,59.40 215.98,59.03 C216.66,58.66 218.61,59.85 219.40,60.40 C220.18,60.94 219.94,61.71 220.69,62.29 C221.44,62.87 223.80,63.25 223.92,63.89Z" fill="none" stroke="#1f1f55" stroke-width="0.55" opacity="0.6"/><path d="M245.36,56.45 C245.42,57.24 244.78,58.45 244.18,58.97 C243.57,59.49 242.77,59.07 241.73,59.59 C240.69,60.11 238.71,62.36 237.92,62.09 C237.14,61.82 237.05,59.11 237.03,57.96 C237.01,56.82 237.36,55.91 237.80,55.22 C238.23,54.53 239.01,54.11 239.66,53.82 C240.31,53.53 241.01,53.40 241.71,53.47 C242.40,53.54 243.22,53.74 243.83,54.23 C244.44,54.73 245.30,55.67 245.36,56.45Z" fill="none" stroke="#1f1f55" stroke-width="0.55" opacity="0.6"/><path d="M232.68,47.97 C232.63,48.34 232.18,48.53 231.94,48.97 C231.69,49.42 231.53,50.63 231.21,50.66 C230.90,50.69 230.45,49.48 230.06,49.15 C229.67,48.82 229.12,48.99 228.86,48.65 C228.61,48.32 228.34,47.53 228.51,47.16 C228.67,46.78 229.39,46.71 229.84,46.40 C230.29,46.09 230.82,45.24 231.21,45.30 C231.61,45.36 231.97,46.29 232.21,46.74 C232.45,47.18 232.72,47.60 232.68,47.97Z" fill="none" stroke="#1f1f55" stroke-width="0.55" opacity="0.6"/><path d="M236.32,66.13 C236.33,66.45 235.92,66.70 235.69,67.12 C235.46,67.54 235.35,68.44 234.94,68.63 C234.54,68.82 233.65,68.55 233.28,68.25 C232.90,67.94 232.67,67.21 232.69,66.79 C232.70,66.37 233.19,66.05 233.36,65.71 C233.54,65.38 233.49,64.96 233.72,64.78 C233.96,64.60 234.45,64.55 234.77,64.61 C235.09,64.68 235.38,64.92 235.64,65.17 C235.90,65.43 236.31,65.80 236.32,66.13Z" fill="none" stroke="#1f1f55" stroke-width="0.55" opacity="0.6"/><path d="M237.38,71.40 C237.43,72.03 238.46,73.00 238.28,73.40 C238.11,73.80 236.99,73.67 236.32,73.80 C235.65,73.94 234.68,74.48 234.28,74.20 C233.87,73.92 234.09,72.77 233.88,72.13 C233.67,71.49 232.89,70.84 233.01,70.35 C233.13,69.85 234.02,69.43 234.59,69.13 C235.15,68.84 235.82,68.49 236.39,68.57 C236.96,68.65 237.86,69.14 238.02,69.61 C238.19,70.08 237.34,70.76 237.38,71.40Z" fill="none" stroke="#1f1f55" stroke-width="0.55" opacity="0.6"/><path d="M231.65,54.55 C231.74,55.20 231.36,56.17 230.90,56.74 C230.44,57.31 229.52,58.00 228.89,57.96 C228.27,57.91 227.73,56.90 227.17,56.49 C226.62,56.09 225.88,56.05 225.57,55.54 C225.25,55.04 225.07,54.04 225.29,53.46 C225.50,52.88 226.26,52.41 226.86,52.06 C227.45,51.71 228.28,51.24 228.86,51.37 C229.43,51.50 229.85,52.33 230.32,52.86 C230.78,53.39 231.55,53.90 231.65,54.55Z" fill="none" stroke="#1f1f55" stroke-width="0.55" opacity="0.6"/><path d="M212.25,61.20 C213.45,60.64 217.06,57.54 219.47,57.86 C221.87,58.17 224.28,62.18 226.68,63.09 C229.09,64.01 231.49,64.49 233.90,63.36 C236.31,62.23 238.71,56.29 241.12,56.30 C243.52,56.32 245.93,62.30 248.33,63.48 C250.74,64.66 254.35,63.42 255.55,63.40" fill="none" stroke="#1f1f55" stroke-width="0.55" opacity="0.55"/><path d="M212.25,56.54 C213.45,57.68 217.06,63.26 219.47,63.37 C221.87,63.48 224.28,57.11 226.68,57.20 C229.09,57.30 231.49,63.21 233.90,63.93 C236.31,64.65 238.71,62.73 241.12,61.52 C243.52,60.31 245.93,57.33 248.33,56.67 C250.74,56.00 254.35,57.38 255.55,57.52" fill="none" stroke="#1f1f55" stroke-width="0.55" opacity="0.55"/><path d="M212.25,59.59 C213.45,59.82 217.06,60.53 219.47,61.00 C221.87,61.48 224.28,63.16 226.68,62.45 C229.09,61.75 231.49,58.01 233.90,56.78 C236.31,55.55 238.71,54.12 241.12,55.06 C243.52,56.00 245.93,62.40 248.33,62.41 C250.74,62.42 254.35,56.35 255.55,55.14" fill="none" stroke="#1f1f55" stroke-width="0.55" opacity="0.55"/><path d="M212.25,64.32 C213.45,65.24 217.06,68.98 219.47,69.87 C221.87,70.76 224.28,69.56 226.68,69.65 C229.09,69.74 231.49,70.72 233.90,70.41 C236.31,70.10 238.71,67.79 241.12,67.79 C243.52,67.80 245.93,70.88 248.33,70.42 C250.74,69.95 254.35,65.91 255.55,65.00" fill="none" stroke="#1f1f55" stroke-width="0.55" opacity="0.55"/><g filter="url(#tblur)"><path d="M240.30,48.65 L248.20,54.75 L244.40,56.35 L243.20,59.35 L242.50,58.95 L243.70,54.85 Z" fill="#3e5ad8"/><circle cx="245.60" cy="54.35" r="1.5" fill="#7fe0f0"/></g></g>
<circle cx="233.90" cy="54.35" r="21.20" fill="none" stroke="#0a0a0a" stroke-width="1.9"/>
</g>
<g transform="translate(290.20 54.35) scale(1 1.013) translate(-290.20 -54.35)">
<rect x="266.45" y="49.35" width="2.3" height="11.2" rx="0.9" fill="#1e1e44" stroke="#000" stroke-width="1.2"/>
<rect x="311.65" y="49.35" width="2.3" height="11.2" rx="0.9" fill="#1e1e44" stroke="#000" stroke-width="1.2"/>
<path d="M286.80,33.90 Q287.80,32.50 289.10,31.00 Q290.20,29.80 291.30,31.00 Q292.60,32.50 293.60,33.90" fill="#fff" stroke="#000" stroke-width="1.5" stroke-linejoin="round"/>
<circle cx="290.20" cy="54.35" r="22.75" fill="#8080c8" opacity="0.45"/>
<circle cx="290.20" cy="54.35" r="21.85" fill="#34346f"/>
<g clip-path="url(#tc02)"><path d="M285.27,43.29 C285.57,44.25 284.06,45.88 283.18,46.92 C282.29,47.97 280.92,49.72 279.95,49.54 C278.98,49.36 278.27,46.63 277.37,45.85 C276.46,45.07 275.27,45.66 274.51,44.87 C273.75,44.08 272.53,42.12 272.81,41.09 C273.09,40.07 275.00,39.36 276.19,38.70 C277.38,38.03 279.07,36.71 279.93,37.12 C280.79,37.54 280.47,40.16 281.35,41.19 C282.24,42.21 284.96,42.34 285.27,43.29Z" fill="none" stroke="#1f1f55" stroke-width="0.55" opacity="0.6"/><path d="M285.27,56.11 C285.22,56.65 283.60,57.13 283.02,57.61 C282.43,58.09 282.30,58.81 281.75,59.02 C281.19,59.22 280.55,59.03 279.66,58.83 C278.78,58.64 276.92,58.57 276.46,57.85 C276.00,57.14 276.33,55.22 276.89,54.53 C277.46,53.84 278.99,54.22 279.85,53.71 C280.71,53.20 281.48,51.36 282.05,51.47 C282.63,51.58 282.77,53.60 283.31,54.37 C283.85,55.15 285.32,55.58 285.27,56.11Z" fill="none" stroke="#1f1f55" stroke-width="0.55" opacity="0.6"/><path d="M287.70,49.94 C287.61,50.31 286.77,50.61 286.42,50.83 C286.07,51.06 285.98,51.10 285.60,51.32 C285.21,51.53 284.51,52.21 284.10,52.11 C283.69,52.02 283.18,51.19 283.15,50.74 C283.12,50.30 283.78,49.92 283.94,49.43 C284.10,48.94 283.83,48.02 284.12,47.80 C284.41,47.58 285.21,47.97 285.68,48.11 C286.15,48.24 286.60,48.31 286.93,48.62 C287.27,48.92 287.78,49.57 287.70,49.94Z" fill="none" stroke="#1f1f55" stroke-width="0.55" opacity="0.6"/><path d="M301.19,71.49 C301.31,72.60 300.48,74.57 299.59,75.17 C298.70,75.77 296.89,75.14 295.84,75.08 C294.78,75.03 293.87,75.26 293.27,74.84 C292.66,74.42 292.37,73.31 292.21,72.58 C292.04,71.84 292.01,71.01 292.27,70.42 C292.53,69.83 293.19,69.45 293.78,69.03 C294.38,68.60 295.00,67.97 295.84,67.88 C296.68,67.78 297.92,67.85 298.82,68.45 C299.71,69.06 301.06,70.37 301.19,71.49Z" fill="none" stroke="#1f1f55" stroke-width="0.55" opacity="0.6"/><path d="M307.94,54.67 C308.18,55.28 308.62,56.64 308.28,57.13 C307.94,57.63 306.58,57.66 305.87,57.63 C305.16,57.60 304.61,57.25 304.05,56.92 C303.49,56.60 302.86,56.28 302.53,55.70 C302.19,55.12 301.71,53.91 302.01,53.46 C302.32,53.00 303.69,53.46 304.36,52.97 C305.04,52.48 305.67,50.44 306.08,50.53 C306.48,50.61 306.48,52.77 306.79,53.46 C307.10,54.15 307.69,54.06 307.94,54.67Z" fill="none" stroke="#1f1f55" stroke-width="0.55" opacity="0.6"/><path d="M292.47,37.43 C292.40,37.85 291.78,38.18 291.46,38.51 C291.13,38.83 290.83,39.40 290.52,39.39 C290.22,39.37 289.86,38.67 289.61,38.42 C289.37,38.16 289.18,38.08 289.06,37.84 C288.94,37.60 288.90,37.39 288.87,36.96 C288.85,36.52 288.65,35.38 288.90,35.23 C289.16,35.08 289.92,35.92 290.42,36.04 C290.92,36.17 291.56,35.76 291.90,35.99 C292.24,36.22 292.55,37.02 292.47,37.43Z" fill="none" stroke="#1f1f55" stroke-width="0.55" opacity="0.6"/><path d="M309.06,46.71 C308.93,47.49 309.09,48.11 308.75,48.73 C308.40,49.34 307.57,50.44 307.00,50.41 C306.42,50.37 305.98,48.94 305.29,48.54 C304.60,48.13 303.30,48.49 302.88,47.97 C302.46,47.45 302.52,46.19 302.77,45.41 C303.02,44.63 303.71,43.38 304.37,43.28 C305.02,43.18 305.82,44.68 306.68,44.80 C307.54,44.93 309.14,43.71 309.54,44.03 C309.94,44.35 309.19,45.93 309.06,46.71Z" fill="none" stroke="#1f1f55" stroke-width="0.55" opacity="0.6"/><path d="M304.64,60.17 C304.72,60.87 302.68,61.56 301.94,62.45 C301.19,63.34 300.97,65.30 300.17,65.53 C299.37,65.76 297.82,64.51 297.12,63.82 C296.43,63.12 296.18,62.16 295.98,61.35 C295.79,60.55 295.68,59.62 295.97,58.99 C296.26,58.36 297.10,57.81 297.72,57.56 C298.34,57.32 299.07,57.40 299.69,57.52 C300.32,57.65 300.64,57.85 301.46,58.30 C302.29,58.74 304.57,59.48 304.64,60.17Z" fill="none" stroke="#1f1f55" stroke-width="0.55" opacity="0.6"/><path d="M284.88,37.30 C285.02,37.90 286.08,39.04 285.90,39.44 C285.72,39.85 284.39,39.76 283.78,39.73 C283.17,39.69 282.61,39.52 282.24,39.22 C281.87,38.93 281.79,38.42 281.57,37.95 C281.35,37.48 280.88,36.97 280.93,36.42 C280.97,35.88 281.37,34.92 281.84,34.68 C282.31,34.45 283.21,34.83 283.75,35.03 C284.29,35.22 284.88,35.48 285.07,35.86 C285.26,36.24 284.74,36.71 284.88,37.30Z" fill="none" stroke="#1f1f55" stroke-width="0.55" opacity="0.6"/><path d="M308.66,60.39 C308.74,60.85 308.89,61.74 308.62,61.96 C308.34,62.18 307.48,61.66 306.98,61.72 C306.48,61.79 306.06,62.44 305.61,62.36 C305.16,62.29 304.43,61.73 304.29,61.28 C304.15,60.83 304.54,60.15 304.75,59.66 C304.96,59.17 305.19,58.44 305.56,58.34 C305.93,58.25 306.54,58.95 306.97,59.09 C307.40,59.24 307.86,59.00 308.14,59.22 C308.42,59.44 308.58,59.93 308.66,60.39Z" fill="none" stroke="#1f1f55" stroke-width="0.55" opacity="0.6"/><path d="M302.99,67.99 C303.20,68.68 303.66,69.98 303.31,70.59 C302.95,71.19 301.70,71.49 300.85,71.64 C300.00,71.78 298.75,71.89 298.21,71.44 C297.67,70.99 297.71,69.68 297.59,68.94 C297.48,68.20 297.36,67.66 297.52,67.01 C297.67,66.35 297.96,65.33 298.50,65.02 C299.03,64.72 300.11,64.95 300.70,65.19 C301.29,65.42 301.67,65.97 302.05,66.44 C302.43,66.91 302.78,67.29 302.99,67.99Z" fill="none" stroke="#1f1f55" stroke-width="0.55" opacity="0.6"/><path d="M288.85,58.35 C288.88,59.26 288.39,60.58 287.75,61.16 C287.11,61.74 285.84,61.83 285.02,61.82 C284.19,61.81 283.35,61.54 282.81,61.12 C282.27,60.70 281.86,59.89 281.79,59.30 C281.72,58.72 282.17,58.16 282.39,57.62 C282.61,57.08 282.65,56.61 283.10,56.09 C283.55,55.57 284.34,54.56 285.08,54.50 C285.83,54.43 286.94,55.05 287.57,55.70 C288.20,56.34 288.82,57.44 288.85,58.35Z" fill="none" stroke="#1f1f55" stroke-width="0.55" opacity="0.6"/><path d="M285.09,66.83 C285.08,67.98 284.48,69.30 283.74,70.23 C283.00,71.15 281.70,72.35 280.67,72.38 C279.65,72.42 278.63,71.05 277.62,70.43 C276.60,69.82 274.85,69.51 274.59,68.69 C274.34,67.87 275.61,66.49 276.08,65.52 C276.55,64.54 276.62,63.55 277.39,62.84 C278.16,62.13 279.61,61.16 280.68,61.25 C281.75,61.34 283.08,62.44 283.82,63.38 C284.55,64.31 285.10,65.69 285.09,66.83Z" fill="none" stroke="#1f1f55" stroke-width="0.55" opacity="0.6"/><path d="M268.55,50.77 C269.75,50.38 273.36,48.89 275.77,48.41 C278.17,47.92 280.58,48.71 282.98,47.85 C285.39,47.00 287.79,43.35 290.20,43.30 C292.61,43.26 295.01,47.27 297.42,47.58 C299.82,47.90 302.23,45.05 304.63,45.21 C307.04,45.38 310.65,48.02 311.85,48.58" fill="none" stroke="#1f1f55" stroke-width="0.55" opacity="0.55"/><path d="M268.55,55.60 C269.75,55.37 273.36,54.27 275.77,54.25 C278.17,54.22 280.58,55.85 282.98,55.45 C285.39,55.05 287.79,52.05 290.20,51.85 C292.61,51.64 295.01,53.70 297.42,54.22 C299.82,54.74 302.23,54.72 304.63,54.97 C307.04,55.21 310.65,55.57 311.85,55.69" fill="none" stroke="#1f1f55" stroke-width="0.55" opacity="0.55"/><path d="M268.55,51.90 C269.75,51.93 273.36,52.32 275.77,52.11 C278.17,51.91 280.58,50.52 282.98,50.66 C285.39,50.80 287.79,52.61 290.20,52.96 C292.61,53.32 295.01,53.42 297.42,52.81 C299.82,52.20 302.23,49.87 304.63,49.30 C307.04,48.73 310.65,49.38 311.85,49.39" fill="none" stroke="#1f1f55" stroke-width="0.55" opacity="0.55"/><path d="M268.55,45.48 C269.75,45.61 273.36,46.76 275.77,46.29 C278.17,45.81 280.58,42.93 282.98,42.60 C285.39,42.28 287.79,43.99 290.20,44.32 C292.61,44.64 295.01,44.49 297.42,44.54 C299.82,44.60 302.23,45.36 304.63,44.63 C307.04,43.90 310.65,40.91 311.85,40.16" fill="none" stroke="#1f1f55" stroke-width="0.55" opacity="0.55"/></g>
<circle cx="290.20" cy="54.35" r="21.20" fill="none" stroke="#0a0a0a" stroke-width="1.9"/>
</g>
<g transform="translate(348.00 54.35) scale(1 1.013) translate(-348.00 -54.35)">
<rect x="324.25" y="49.35" width="2.3" height="11.2" rx="0.9" fill="#1e1e44" stroke="#000" stroke-width="1.2"/>
<rect x="369.45" y="49.35" width="2.3" height="11.2" rx="0.9" fill="#1e1e44" stroke="#000" stroke-width="1.2"/>
<path d="M344.60,33.90 Q345.60,32.50 346.90,31.00 Q348.00,29.80 349.10,31.00 Q350.40,32.50 351.40,33.90" fill="#fff" stroke="#000" stroke-width="1.5" stroke-linejoin="round"/>
<circle cx="348.00" cy="54.35" r="22.75" fill="#8080c8" opacity="0.45"/>
<circle cx="348.00" cy="54.35" r="21.85" fill="#34346f"/>
<g clip-path="url(#tc03)"><path d="M355.40,38.28 C355.10,38.99 354.51,39.00 354.14,39.67 C353.77,40.33 353.76,42.01 353.19,42.28 C352.62,42.56 351.53,41.74 350.73,41.32 C349.94,40.90 348.62,40.46 348.41,39.77 C348.19,39.08 349.14,38.05 349.45,37.18 C349.77,36.30 349.71,34.79 350.30,34.49 C350.89,34.20 352.06,35.23 353.00,35.38 C353.93,35.54 355.51,34.93 355.91,35.41 C356.31,35.89 355.69,37.57 355.40,38.28Z" fill="none" stroke="#1f1f55" stroke-width="0.55" opacity="0.6"/><path d="M350.85,42.60 C350.79,43.26 349.30,43.79 348.69,44.44 C348.08,45.09 347.95,46.12 347.19,46.50 C346.43,46.87 344.74,47.16 344.14,46.69 C343.55,46.22 343.95,44.61 343.61,43.66 C343.26,42.71 341.96,41.80 342.08,40.99 C342.19,40.19 343.45,39.36 344.33,38.83 C345.20,38.31 346.56,37.57 347.34,37.84 C348.13,38.12 348.44,39.69 349.03,40.49 C349.61,41.28 350.90,41.95 350.85,42.60Z" fill="none" stroke="#1f1f55" stroke-width="0.55" opacity="0.6"/><path d="M366.29,63.44 C366.02,64.36 364.85,64.92 364.19,65.52 C363.54,66.11 363.20,66.59 362.35,67.01 C361.50,67.43 359.80,68.39 359.08,68.03 C358.35,67.66 358.56,65.94 357.98,64.80 C357.41,63.67 355.42,62.18 355.61,61.22 C355.81,60.25 358.04,59.24 359.17,59.01 C360.29,58.79 361.24,59.70 362.35,59.86 C363.47,60.03 365.18,59.39 365.84,59.99 C366.49,60.59 366.57,62.52 366.29,63.44Z" fill="none" stroke="#1f1f55" stroke-width="0.55" opacity="0.6"/><path d="M341.86,68.02 C342.04,69.10 341.75,70.74 341.05,71.72 C340.36,72.70 338.95,73.60 337.68,73.91 C336.41,74.22 334.72,74.16 333.42,73.58 C332.13,73.01 329.90,71.57 329.94,70.46 C329.97,69.35 332.88,67.99 333.62,66.92 C334.35,65.85 333.68,64.77 334.34,64.04 C335.01,63.31 336.67,62.32 337.61,62.52 C338.55,62.71 339.27,64.30 339.98,65.22 C340.69,66.13 341.68,66.93 341.86,68.02Z" fill="none" stroke="#1f1f55" stroke-width="0.55" opacity="0.6"/><path d="M348.49,51.42 C348.10,52.50 346.71,52.74 346.02,53.68 C345.32,54.61 345.13,56.80 344.32,57.05 C343.52,57.29 341.95,55.86 341.18,55.14 C340.42,54.42 340.16,53.64 339.73,52.73 C339.31,51.83 338.34,50.45 338.64,49.71 C338.94,48.98 340.64,48.66 341.53,48.31 C342.43,47.96 342.87,47.78 344.01,47.60 C345.14,47.42 347.59,46.58 348.34,47.22 C349.08,47.86 348.88,50.35 348.49,51.42Z" fill="none" stroke="#1f1f55" stroke-width="0.55" opacity="0.6"/><path d="M350.21,52.40 C349.89,53.53 350.75,53.99 350.45,55.00 C350.15,56.02 349.36,58.19 348.42,58.50 C347.47,58.80 345.58,57.63 344.78,56.84 C343.98,56.05 343.86,54.73 343.63,53.75 C343.39,52.77 343.11,51.80 343.38,50.96 C343.64,50.11 344.45,49.00 345.21,48.71 C345.97,48.41 346.72,49.25 347.91,49.17 C349.10,49.08 351.98,47.65 352.36,48.19 C352.74,48.73 350.53,51.26 350.21,52.40Z" fill="none" stroke="#1f1f55" stroke-width="0.55" opacity="0.6"/><path d="M363.48,58.32 C363.55,59.62 364.72,61.78 364.13,62.38 C363.54,62.98 361.25,61.66 359.92,61.90 C358.59,62.13 357.18,64.04 356.13,63.79 C355.09,63.53 353.94,61.58 353.66,60.37 C353.37,59.16 353.98,57.75 354.42,56.55 C354.86,55.34 355.36,53.56 356.30,53.14 C357.24,52.72 358.81,53.77 360.05,54.02 C361.28,54.26 363.14,53.89 363.71,54.61 C364.28,55.33 363.41,57.03 363.48,58.32Z" fill="none" stroke="#1f1f55" stroke-width="0.55" opacity="0.6"/><path d="M355.90,41.67 C356.04,42.26 354.91,43.40 354.29,43.78 C353.68,44.17 352.96,43.75 352.19,44.01 C351.42,44.27 350.18,45.57 349.66,45.35 C349.14,45.12 349.27,43.47 349.07,42.66 C348.88,41.85 348.39,41.27 348.48,40.47 C348.57,39.68 348.98,38.14 349.60,37.91 C350.23,37.68 351.59,38.71 352.23,39.10 C352.87,39.49 352.84,39.84 353.45,40.27 C354.07,40.70 355.76,41.09 355.90,41.67Z" fill="none" stroke="#1f1f55" stroke-width="0.55" opacity="0.6"/><path d="M360.61,64.25 C360.60,64.90 360.69,65.49 360.39,66.18 C360.09,66.87 359.41,68.35 358.81,68.39 C358.22,68.43 357.40,66.95 356.82,66.43 C356.25,65.90 355.78,65.84 355.35,65.24 C354.92,64.64 354.07,63.51 354.24,62.85 C354.41,62.19 355.66,61.47 356.38,61.29 C357.09,61.10 357.85,61.57 358.53,61.73 C359.20,61.89 360.09,61.85 360.44,62.27 C360.78,62.69 360.62,63.59 360.61,64.25Z" fill="none" stroke="#1f1f55" stroke-width="0.55" opacity="0.6"/><path d="M343.82,55.28 C343.98,56.00 344.54,57.39 344.17,57.84 C343.80,58.29 342.41,57.89 341.60,57.99 C340.79,58.08 340.09,58.60 339.32,58.40 C338.55,58.20 337.36,57.55 336.99,56.79 C336.62,56.02 336.65,54.49 337.10,53.82 C337.55,53.15 338.91,53.11 339.68,52.79 C340.45,52.46 341.14,51.75 341.72,51.88 C342.31,52.00 342.87,52.96 343.22,53.52 C343.57,54.09 343.67,54.56 343.82,55.28Z" fill="none" stroke="#1f1f55" stroke-width="0.55" opacity="0.6"/><path d="M344.07,62.02 C343.86,63.04 341.68,64.08 340.70,64.55 C339.72,65.02 339.06,64.61 338.18,64.84 C337.30,65.07 335.97,66.25 335.41,65.95 C334.85,65.66 334.89,63.89 334.81,63.06 C334.72,62.24 334.91,62.01 334.90,61.01 C334.90,60.00 334.24,57.39 334.80,57.02 C335.35,56.65 337.06,58.56 338.25,58.80 C339.44,59.04 340.97,57.91 341.94,58.44 C342.91,58.98 344.28,61.00 344.07,62.02Z" fill="none" stroke="#1f1f55" stroke-width="0.55" opacity="0.6"/><path d="M339.69,67.94 C339.55,68.86 339.67,69.24 339.33,70.34 C338.99,71.45 338.56,74.19 337.63,74.57 C336.70,74.95 334.68,73.46 333.76,72.62 C332.84,71.78 332.60,70.66 332.10,69.53 C331.59,68.40 330.54,67.02 330.75,65.86 C330.96,64.70 332.27,63.03 333.36,62.57 C334.46,62.11 336.19,62.71 337.32,63.09 C338.45,63.47 339.77,64.03 340.17,64.83 C340.56,65.64 339.83,67.02 339.69,67.94Z" fill="none" stroke="#1f1f55" stroke-width="0.55" opacity="0.6"/><path d="M359.52,60.87 C359.45,61.47 359.27,62.22 358.89,62.50 C358.51,62.77 357.78,62.41 357.24,62.51 C356.70,62.61 355.96,63.28 355.66,63.10 C355.37,62.91 355.50,61.87 355.46,61.41 C355.43,60.95 355.42,60.79 355.45,60.32 C355.48,59.85 355.33,58.89 355.65,58.61 C355.96,58.33 356.73,58.59 357.34,58.63 C357.96,58.68 358.95,58.51 359.31,58.88 C359.68,59.26 359.59,60.26 359.52,60.87Z" fill="none" stroke="#1f1f55" stroke-width="0.55" opacity="0.6"/><path d="M326.35,60.44 C327.55,59.67 331.16,55.67 333.57,55.84 C335.97,56.02 338.38,61.54 340.78,61.49 C343.19,61.43 345.59,55.78 348.00,55.49 C350.41,55.21 352.81,58.67 355.22,59.77 C357.62,60.87 360.03,61.73 362.43,62.12 C364.84,62.50 368.45,62.09 369.65,62.09" fill="none" stroke="#1f1f55" stroke-width="0.55" opacity="0.55"/><path d="M326.35,67.59 C327.55,67.91 331.16,69.07 333.57,69.52 C335.97,69.98 338.38,71.05 340.78,70.30 C343.19,69.56 345.59,64.87 348.00,65.07 C350.41,65.27 352.81,70.49 355.22,71.52 C357.62,72.55 360.03,71.91 362.43,71.24 C364.84,70.57 368.45,68.12 369.65,67.50" fill="none" stroke="#1f1f55" stroke-width="0.55" opacity="0.55"/><path d="M326.35,63.57 C327.55,63.35 331.16,61.85 333.57,62.21 C335.97,62.56 338.38,65.98 340.78,65.70 C343.19,65.41 345.59,60.39 348.00,60.51 C350.41,60.62 352.81,65.18 355.22,66.40 C357.62,67.62 360.03,68.51 362.43,67.82 C364.84,67.14 368.45,63.21 369.65,62.29" fill="none" stroke="#1f1f55" stroke-width="0.55" opacity="0.55"/><path d="M326.35,66.25 C327.55,67.28 331.16,72.18 333.57,72.44 C335.97,72.71 338.38,67.67 340.78,67.82 C343.19,67.96 345.59,73.11 348.00,73.31 C350.41,73.51 352.81,69.08 355.22,69.03 C357.62,68.97 360.03,73.49 362.43,72.96 C364.84,72.43 368.45,67.02 369.65,65.84" fill="none" stroke="#1f1f55" stroke-width="0.55" opacity="0.55"/></g>
<circle cx="348.00" cy="54.35" r="21.20" fill="none" stroke="#0a0a0a" stroke-width="1.9"/>
</g>
<g transform="translate(405.85 54.35) scale(1 1.013) translate(-405.85 -54.35)">
<rect x="382.10" y="49.35" width="2.3" height="11.2" rx="0.9" fill="#1e1e44" stroke="#000" stroke-width="1.2"/>
<rect x="427.30" y="49.35" width="2.3" height="11.2" rx="0.9" fill="#1e1e44" stroke="#000" stroke-width="1.2"/>
<path d="M402.45,33.90 Q403.45,32.50 404.75,31.00 Q405.85,29.80 406.95,31.00 Q408.25,32.50 409.25,33.90" fill="#fff" stroke="#000" stroke-width="1.5" stroke-linejoin="round"/>
<circle cx="405.85" cy="54.35" r="22.75" fill="#8080c8" opacity="0.45"/>
<circle cx="405.85" cy="54.35" r="21.85" fill="#34346f"/>
<g clip-path="url(#tc04)"><path d="M405.42,60.74 C405.61,61.51 406.32,62.91 405.97,63.52 C405.62,64.14 404.08,64.51 403.30,64.44 C402.52,64.37 402.06,63.47 401.29,63.10 C400.52,62.72 398.86,62.73 398.67,62.19 C398.49,61.65 399.83,60.65 400.16,59.84 C400.49,59.02 400.16,57.59 400.66,57.29 C401.15,56.99 402.44,57.75 403.13,58.02 C403.82,58.30 404.44,58.47 404.82,58.92 C405.20,59.38 405.23,59.97 405.42,60.74Z" fill="none" stroke="#1f1f55" stroke-width="0.55" opacity="0.6"/><path d="M392.72,61.99 C392.80,62.46 393.07,63.09 392.87,63.59 C392.67,64.09 392.01,64.93 391.50,65.01 C390.98,65.09 390.18,64.45 389.76,64.07 C389.35,63.68 389.31,63.22 389.02,62.70 C388.73,62.18 387.83,61.25 388.03,60.93 C388.24,60.60 389.67,61.04 390.24,60.75 C390.82,60.45 391.11,59.12 391.47,59.13 C391.83,59.14 392.19,60.31 392.40,60.78 C392.61,61.26 392.64,61.52 392.72,61.99Z" fill="none" stroke="#1f1f55" stroke-width="0.55" opacity="0.6"/><path d="M413.43,59.32 C413.42,59.80 411.95,60.22 411.42,60.73 C410.90,61.24 410.84,62.17 410.29,62.41 C409.74,62.65 408.61,62.52 408.11,62.15 C407.61,61.79 407.47,60.87 407.26,60.23 C407.06,59.58 406.62,58.70 406.87,58.28 C407.13,57.85 408.25,57.80 408.79,57.67 C409.32,57.53 409.63,57.41 410.08,57.45 C410.52,57.48 410.91,57.56 411.47,57.88 C412.03,58.19 413.44,58.85 413.43,59.32Z" fill="none" stroke="#1f1f55" stroke-width="0.55" opacity="0.6"/><path d="M403.92,43.45 C403.79,44.17 403.39,44.87 402.94,45.28 C402.48,45.69 401.85,45.68 401.19,45.90 C400.52,46.12 399.53,46.83 398.92,46.62 C398.31,46.41 397.59,45.29 397.53,44.62 C397.46,43.96 398.26,43.29 398.54,42.64 C398.82,41.99 398.73,41.09 399.18,40.73 C399.64,40.37 400.53,40.43 401.28,40.47 C402.03,40.51 403.26,40.48 403.70,40.97 C404.14,41.47 404.05,42.73 403.92,43.45Z" fill="none" stroke="#1f1f55" stroke-width="0.55" opacity="0.6"/><path d="M408.35,44.56 C408.26,45.72 408.90,46.74 408.46,47.82 C408.02,48.89 406.69,50.98 405.71,51.00 C404.74,51.02 403.65,48.72 402.62,47.95 C401.59,47.18 399.73,47.16 399.52,46.40 C399.31,45.64 401.03,44.58 401.36,43.39 C401.69,42.19 400.77,40.11 401.50,39.23 C402.23,38.34 404.47,37.81 405.72,38.08 C406.97,38.36 408.54,39.79 408.98,40.87 C409.42,41.94 408.43,43.40 408.35,44.56Z" fill="none" stroke="#1f1f55" stroke-width="0.55" opacity="0.6"/><path d="M417.86,47.08 C417.81,48.13 417.39,49.38 416.72,50.07 C416.06,50.77 414.95,50.93 413.89,51.24 C412.84,51.54 411.43,52.25 410.38,51.90 C409.33,51.55 407.80,50.16 407.59,49.11 C407.38,48.06 408.62,46.67 409.14,45.62 C409.65,44.57 409.93,43.02 410.69,42.80 C411.44,42.58 412.59,44.12 413.65,44.29 C414.71,44.46 416.35,43.35 417.05,43.82 C417.75,44.28 417.92,46.04 417.86,47.08Z" fill="none" stroke="#1f1f55" stroke-width="0.55" opacity="0.6"/><path d="M398.81,39.71 C398.62,40.81 398.68,41.64 398.17,42.54 C397.67,43.44 396.57,45.16 395.76,45.12 C394.95,45.08 394.20,42.94 393.31,42.30 C392.41,41.67 390.70,41.95 390.40,41.32 C390.09,40.68 391.01,39.25 391.46,38.49 C391.92,37.74 392.48,37.11 393.13,36.80 C393.77,36.49 394.32,36.77 395.35,36.63 C396.38,36.48 398.73,35.42 399.31,35.93 C399.89,36.45 399.00,38.61 398.81,39.71Z" fill="none" stroke="#1f1f55" stroke-width="0.55" opacity="0.6"/><path d="M416.36,61.00 C416.25,61.55 414.41,61.87 413.80,62.39 C413.19,62.90 413.24,63.81 412.69,64.07 C412.13,64.32 411.21,64.19 410.46,63.92 C409.70,63.65 408.52,63.17 408.16,62.45 C407.80,61.73 408.00,60.45 408.32,59.61 C408.63,58.76 409.33,57.58 410.05,57.37 C410.77,57.16 411.87,58.09 412.61,58.37 C413.35,58.65 413.84,58.62 414.46,59.05 C415.09,59.49 416.47,60.44 416.36,61.00Z" fill="none" stroke="#1f1f55" stroke-width="0.55" opacity="0.6"/><path d="M398.77,67.77 C398.64,68.73 398.48,69.62 397.96,70.31 C397.44,71.00 396.51,71.72 395.65,71.90 C394.80,72.08 393.77,71.80 392.82,71.41 C391.87,71.02 390.51,70.51 389.96,69.57 C389.42,68.64 389.08,66.74 389.54,65.81 C390.01,64.88 391.77,64.22 392.76,64.02 C393.75,63.82 394.48,64.50 395.48,64.59 C396.48,64.68 398.20,64.03 398.75,64.56 C399.30,65.08 398.91,66.81 398.77,67.77Z" fill="none" stroke="#1f1f55" stroke-width="0.55" opacity="0.6"/><path d="M402.56,64.49 C402.40,65.77 401.40,67.00 400.55,67.96 C399.69,68.91 398.62,69.93 397.43,70.23 C396.23,70.53 394.08,70.51 393.38,69.75 C392.67,68.99 393.79,66.94 393.20,65.66 C392.60,64.38 389.82,63.22 389.81,62.09 C389.81,60.95 391.86,59.58 393.16,58.84 C394.46,58.11 396.23,57.44 397.62,57.67 C399.00,57.91 400.65,59.11 401.47,60.25 C402.29,61.39 402.71,63.21 402.56,64.49Z" fill="none" stroke="#1f1f55" stroke-width="0.55" opacity="0.6"/><path d="M399.20,61.62 C399.18,61.95 398.23,62.30 397.87,62.54 C397.51,62.77 397.35,62.94 397.03,63.03 C396.71,63.12 396.24,63.22 395.95,63.07 C395.66,62.93 395.45,62.52 395.29,62.17 C395.13,61.82 394.86,61.27 394.99,60.97 C395.13,60.68 395.75,60.52 396.08,60.41 C396.42,60.30 396.69,60.30 397.01,60.33 C397.33,60.37 397.62,60.40 397.99,60.61 C398.35,60.83 399.22,61.30 399.20,61.62Z" fill="none" stroke="#1f1f55" stroke-width="0.55" opacity="0.6"/><path d="M417.23,60.95 C417.16,61.46 416.72,62.06 416.35,62.28 C415.98,62.51 415.39,62.30 415.00,62.30 C414.61,62.29 414.31,62.40 414.01,62.27 C413.71,62.14 413.34,61.84 413.20,61.52 C413.07,61.21 413.03,60.66 413.18,60.38 C413.33,60.09 413.77,60.11 414.11,59.81 C414.44,59.51 414.74,58.66 415.19,58.57 C415.64,58.48 416.45,58.86 416.79,59.26 C417.13,59.65 417.30,60.45 417.23,60.95Z" fill="none" stroke="#1f1f55" stroke-width="0.55" opacity="0.6"/><path d="M394.78,57.06 C394.83,57.43 394.95,57.97 394.76,58.25 C394.57,58.54 394.10,58.57 393.64,58.76 C393.18,58.95 392.29,59.58 392.00,59.38 C391.71,59.19 391.87,58.05 391.89,57.59 C391.91,57.13 392.11,57.12 392.11,56.62 C392.11,56.11 391.63,54.85 391.90,54.57 C392.17,54.29 393.28,54.68 393.72,54.93 C394.15,55.19 394.33,55.73 394.50,56.09 C394.68,56.44 394.74,56.70 394.78,57.06Z" fill="none" stroke="#1f1f55" stroke-width="0.55" opacity="0.6"/><path d="M384.20,52.06 C385.40,52.73 389.01,54.80 391.42,56.07 C393.82,57.34 396.23,59.23 398.63,59.67 C401.04,60.12 403.44,59.13 405.85,58.75 C408.26,58.38 410.66,58.22 413.07,57.42 C415.47,56.61 417.88,54.37 420.28,53.93 C422.69,53.50 426.30,54.64 427.50,54.78" fill="none" stroke="#1f1f55" stroke-width="0.55" opacity="0.55"/><path d="M384.20,44.99 C385.40,44.67 389.01,43.07 391.42,43.08 C393.82,43.09 396.23,45.32 398.63,45.05 C401.04,44.78 403.44,42.20 405.85,41.45 C408.26,40.71 410.66,39.96 413.07,40.60 C415.47,41.24 417.88,44.29 420.28,45.31 C422.69,46.32 426.30,46.46 427.50,46.70" fill="none" stroke="#1f1f55" stroke-width="0.55" opacity="0.55"/><path d="M384.20,69.01 C385.40,69.03 389.01,69.20 391.42,69.11 C393.82,69.02 396.23,69.27 398.63,68.48 C401.04,67.70 403.44,64.68 405.85,64.38 C408.26,64.08 410.66,66.53 413.07,66.71 C415.47,66.88 417.88,66.06 420.28,65.41 C422.69,64.76 426.30,63.23 427.50,62.80" fill="none" stroke="#1f1f55" stroke-width="0.55" opacity="0.55"/><path d="M384.20,36.23 C385.40,36.21 389.01,35.52 391.42,36.07 C393.82,36.62 396.23,38.61 398.63,39.54 C401.04,40.47 403.44,41.98 405.85,41.65 C408.26,41.32 410.66,37.60 413.07,37.58 C415.47,37.55 417.88,40.77 420.28,41.49 C422.69,42.21 426.30,41.83 427.50,41.90" fill="none" stroke="#1f1f55" stroke-width="0.55" opacity="0.55"/></g>
<circle cx="405.85" cy="54.35" r="21.20" fill="none" stroke="#0a0a0a" stroke-width="1.9"/>
</g>
<g transform="translate(464.70 54.35) scale(1 1.013) translate(-464.70 -54.35)">
<rect x="440.95" y="49.35" width="2.3" height="11.2" rx="0.9" fill="#1e1e44" stroke="#000" stroke-width="1.2"/>
<rect x="486.15" y="49.35" width="2.3" height="11.2" rx="0.9" fill="#1e1e44" stroke="#000" stroke-width="1.2"/>
<path d="M461.30,33.90 Q462.30,32.50 463.60,31.00 Q464.70,29.80 465.80,31.00 Q467.10,32.50 468.10,33.90" fill="#fff" stroke="#000" stroke-width="1.5" stroke-linejoin="round"/>
<circle cx="464.70" cy="54.35" r="22.75" fill="#8080c8" opacity="0.45"/>
<circle cx="464.70" cy="54.35" r="21.85" fill="#34346f"/>
<g clip-path="url(#tc05)"><path d="M469.97,72.21 C469.88,72.61 468.88,72.89 468.49,73.18 C468.11,73.48 468.10,73.70 467.65,73.99 C467.19,74.29 466.07,75.15 465.75,74.96 C465.42,74.76 465.83,73.41 465.70,72.80 C465.57,72.20 464.87,71.76 464.96,71.35 C465.05,70.93 465.78,70.52 466.24,70.31 C466.69,70.10 467.24,69.99 467.71,70.06 C468.18,70.13 468.69,70.40 469.06,70.76 C469.44,71.12 470.07,71.80 469.97,72.21Z" fill="none" stroke="#1f1f55" stroke-width="0.55" opacity="0.6"/><path d="M472.33,70.03 C472.12,70.49 471.89,70.59 471.66,70.87 C471.43,71.16 471.29,71.59 470.96,71.74 C470.62,71.88 470.16,71.86 469.67,71.74 C469.18,71.61 468.14,71.39 468.01,70.99 C467.87,70.60 468.53,69.74 468.85,69.37 C469.16,69.00 469.57,68.93 469.92,68.75 C470.27,68.58 470.45,68.44 470.95,68.33 C471.45,68.23 472.70,67.84 472.93,68.12 C473.16,68.40 472.54,69.57 472.33,70.03Z" fill="none" stroke="#1f1f55" stroke-width="0.55" opacity="0.6"/><path d="M481.68,59.95 C481.76,60.47 480.69,61.13 480.20,61.73 C479.71,62.34 479.33,63.41 478.71,63.57 C478.09,63.74 477.14,63.11 476.47,62.71 C475.81,62.31 475.10,61.87 474.71,61.17 C474.31,60.47 473.82,59.20 474.10,58.50 C474.38,57.81 475.64,57.13 476.37,57.00 C477.09,56.86 477.91,57.43 478.46,57.70 C479.01,57.97 479.13,58.23 479.66,58.61 C480.20,58.98 481.59,59.42 481.68,59.95Z" fill="none" stroke="#1f1f55" stroke-width="0.55" opacity="0.6"/><path d="M480.25,50.07 C480.20,50.69 479.37,51.30 478.88,51.79 C478.40,52.28 477.96,52.82 477.35,53.01 C476.73,53.19 475.60,53.29 475.19,52.92 C474.78,52.55 474.95,51.39 474.87,50.79 C474.80,50.18 474.68,49.90 474.74,49.31 C474.79,48.72 474.79,47.40 475.19,47.23 C475.59,47.07 476.48,48.17 477.14,48.32 C477.80,48.46 478.65,47.82 479.17,48.11 C479.69,48.40 480.30,49.46 480.25,50.07Z" fill="none" stroke="#1f1f55" stroke-width="0.55" opacity="0.6"/><path d="M483.18,63.15 C483.16,64.37 482.37,66.03 481.50,66.75 C480.63,67.48 478.96,67.61 477.97,67.49 C476.97,67.37 476.16,66.58 475.53,66.04 C474.91,65.49 474.65,64.97 474.23,64.23 C473.80,63.50 472.85,62.43 472.97,61.61 C473.10,60.79 474.20,59.53 474.99,59.31 C475.77,59.09 476.59,60.29 477.70,60.30 C478.82,60.32 480.74,58.94 481.66,59.41 C482.57,59.89 483.21,61.93 483.18,63.15Z" fill="none" stroke="#1f1f55" stroke-width="0.55" opacity="0.6"/><path d="M451.38,53.63 C451.34,54.01 450.81,54.28 450.53,54.66 C450.25,55.03 450.08,55.75 449.70,55.88 C449.32,56.02 448.69,55.71 448.24,55.47 C447.79,55.24 447.19,54.91 447.00,54.47 C446.81,54.03 446.98,53.44 447.09,52.83 C447.20,52.21 447.18,51.19 447.65,50.76 C448.12,50.33 449.38,49.98 449.90,50.25 C450.42,50.52 450.54,51.83 450.79,52.39 C451.04,52.95 451.43,53.25 451.38,53.63Z" fill="none" stroke="#1f1f55" stroke-width="0.55" opacity="0.6"/><path d="M464.61,58.90 C464.50,59.68 462.05,60.14 461.22,60.98 C460.39,61.83 460.34,63.81 459.63,63.98 C458.92,64.15 457.51,62.69 456.95,62.00 C456.39,61.30 456.80,60.60 456.30,59.79 C455.79,58.98 453.80,57.82 453.89,57.14 C453.99,56.45 455.98,55.90 456.88,55.68 C457.78,55.46 458.46,55.71 459.28,55.82 C460.10,55.92 460.94,55.79 461.83,56.31 C462.71,56.82 464.71,58.12 464.61,58.90Z" fill="none" stroke="#1f1f55" stroke-width="0.55" opacity="0.6"/><path d="M469.27,66.06 C469.20,66.91 469.34,67.96 468.88,68.43 C468.43,68.90 467.21,68.94 466.55,68.88 C465.88,68.82 465.33,68.42 464.88,68.08 C464.44,67.74 464.06,67.32 463.88,66.85 C463.71,66.37 463.76,65.89 463.83,65.25 C463.90,64.61 463.84,63.39 464.30,63.02 C464.76,62.65 465.74,62.99 466.58,63.04 C467.42,63.09 468.90,62.79 469.34,63.29 C469.79,63.80 469.35,65.20 469.27,66.06Z" fill="none" stroke="#1f1f55" stroke-width="0.55" opacity="0.6"/><path d="M452.75,53.87 C452.76,54.58 452.25,55.38 451.77,56.01 C451.30,56.65 450.73,57.32 449.89,57.68 C449.06,58.03 447.77,58.45 446.75,58.14 C445.74,57.84 444.43,56.92 443.82,55.84 C443.22,54.75 442.63,52.67 443.13,51.65 C443.63,50.64 445.60,50.58 446.83,49.73 C448.06,48.88 449.70,46.20 450.51,46.54 C451.33,46.88 451.35,50.55 451.72,51.77 C452.10,52.99 452.74,53.16 452.75,53.87Z" fill="none" stroke="#1f1f55" stroke-width="0.55" opacity="0.6"/><path d="M472.18,47.11 C472.63,48.21 474.67,50.55 474.32,51.55 C473.97,52.55 471.55,52.83 470.08,53.10 C468.61,53.37 466.53,53.88 465.52,53.18 C464.50,52.49 463.99,50.17 463.99,48.94 C463.99,47.72 465.25,47.14 465.51,45.83 C465.77,44.52 464.83,41.68 465.56,41.10 C466.28,40.53 468.85,41.74 469.86,42.38 C470.86,43.02 471.21,44.16 471.60,44.95 C471.98,45.74 471.73,46.01 472.18,47.11Z" fill="none" stroke="#1f1f55" stroke-width="0.55" opacity="0.6"/><path d="M457.04,46.37 C456.91,47.01 456.68,47.34 456.36,47.96 C456.05,48.58 455.72,49.87 455.12,50.09 C454.52,50.32 453.26,49.81 452.76,49.33 C452.26,48.85 452.37,47.91 452.13,47.22 C451.88,46.54 451.25,45.96 451.29,45.22 C451.33,44.47 451.72,43.23 452.37,42.74 C453.02,42.25 454.40,42.04 455.19,42.27 C455.98,42.50 456.82,43.46 457.12,44.14 C457.43,44.82 457.16,45.73 457.04,46.37Z" fill="none" stroke="#1f1f55" stroke-width="0.55" opacity="0.6"/><path d="M458.02,61.19 C458.02,61.73 458.23,62.52 457.95,62.81 C457.67,63.11 456.91,62.80 456.33,62.97 C455.75,63.15 455.00,64.01 454.46,63.89 C453.93,63.76 453.32,62.86 453.13,62.24 C452.94,61.63 452.98,60.62 453.32,60.21 C453.67,59.80 454.69,60.00 455.20,59.78 C455.72,59.56 455.97,58.91 456.43,58.88 C456.88,58.85 457.66,59.21 457.93,59.59 C458.19,59.98 458.01,60.66 458.02,61.19Z" fill="none" stroke="#1f1f55" stroke-width="0.55" opacity="0.6"/><path d="M484.38,64.37 C484.43,65.48 484.54,67.23 483.88,67.81 C483.21,68.38 481.37,67.86 480.39,67.81 C479.40,67.76 478.81,67.79 477.98,67.49 C477.14,67.18 475.93,66.81 475.37,65.97 C474.81,65.14 474.31,63.50 474.62,62.49 C474.92,61.48 476.27,60.06 477.21,59.92 C478.15,59.78 479.19,61.42 480.26,61.63 C481.33,61.83 482.93,60.69 483.62,61.15 C484.31,61.60 484.34,63.26 484.38,64.37Z" fill="none" stroke="#1f1f55" stroke-width="0.55" opacity="0.6"/><path d="M443.05,70.46 C444.25,70.70 447.86,71.62 450.27,71.93 C452.67,72.25 455.08,73.31 457.48,72.37 C459.89,71.43 462.29,67.22 464.70,66.30 C467.11,65.39 469.51,66.45 471.92,66.88 C474.32,67.32 476.73,67.98 479.13,68.89 C481.54,69.80 485.15,71.75 486.35,72.33" fill="none" stroke="#1f1f55" stroke-width="0.55" opacity="0.55"/><path d="M443.05,53.35 C444.25,53.23 447.86,53.19 450.27,52.62 C452.67,52.06 455.08,50.25 457.48,49.95 C459.89,49.65 462.29,50.23 464.70,50.82 C467.11,51.41 469.51,53.27 471.92,53.48 C474.32,53.69 476.73,52.97 479.13,52.09 C481.54,51.21 485.15,48.84 486.35,48.19" fill="none" stroke="#1f1f55" stroke-width="0.55" opacity="0.55"/><path d="M443.05,63.89 C444.25,64.12 447.86,64.27 450.27,65.29 C452.67,66.30 455.08,69.36 457.48,69.99 C459.89,70.63 462.29,69.96 464.70,69.10 C467.11,68.24 469.51,65.56 471.92,64.82 C474.32,64.08 476.73,64.25 479.13,64.65 C481.54,65.05 485.15,66.80 486.35,67.23" fill="none" stroke="#1f1f55" stroke-width="0.55" opacity="0.55"/><path d="M443.05,67.69 C444.25,68.03 447.86,69.65 450.27,69.71 C452.67,69.77 455.08,68.20 457.48,68.04 C459.89,67.89 462.29,68.95 464.70,68.79 C467.11,68.62 469.51,67.67 471.92,67.06 C474.32,66.45 476.73,65.35 479.13,65.12 C481.54,64.88 485.15,65.55 486.35,65.64" fill="none" stroke="#1f1f55" stroke-width="0.55" opacity="0.55"/></g>
<circle cx="464.70" cy="54.35" r="21.20" fill="none" stroke="#0a0a0a" stroke-width="1.9"/>
</g>
<g transform="translate(523.45 54.35) scale(1 1.013) translate(-523.45 -54.35)">
<rect x="499.70" y="49.35" width="2.3" height="11.2" rx="0.9" fill="#1e1e44" stroke="#000" stroke-width="1.2"/>
<rect x="544.90" y="49.35" width="2.3" height="11.2" rx="0.9" fill="#1e1e44" stroke="#000" stroke-width="1.2"/>
<path d="M520.05,33.90 Q521.05,32.50 522.35,31.00 Q523.45,29.80 524.55,31.00 Q525.85,32.50 526.85,33.90" fill="#fff" stroke="#000" stroke-width="1.5" stroke-linejoin="round"/>
<circle cx="523.45" cy="54.35" r="22.75" fill="#8080c8" opacity="0.45"/>
<circle cx="523.45" cy="54.35" r="21.85" fill="#34346f"/>
<g clip-path="url(#tc06)"><path d="M515.50,56.94 C515.41,57.31 514.01,57.46 513.58,57.84 C513.15,58.22 513.34,58.93 512.91,59.22 C512.48,59.51 511.29,59.87 510.98,59.58 C510.68,59.29 511.19,58.04 511.06,57.47 C510.94,56.89 510.21,56.57 510.24,56.11 C510.27,55.66 510.82,54.85 511.24,54.75 C511.66,54.65 512.29,55.36 512.76,55.50 C513.24,55.64 513.65,55.36 514.11,55.60 C514.56,55.84 515.59,56.57 515.50,56.94Z" fill="none" stroke="#1f1f55" stroke-width="0.55" opacity="0.6"/><path d="M523.14,42.50 C522.91,43.46 523.05,44.27 522.60,44.78 C522.15,45.29 521.25,45.27 520.42,45.54 C519.59,45.81 518.66,46.57 517.63,46.40 C516.60,46.24 514.62,45.48 514.24,44.56 C513.87,43.63 514.88,41.99 515.37,40.86 C515.85,39.73 516.28,38.16 517.15,37.77 C518.02,37.38 519.45,38.28 520.59,38.50 C521.73,38.71 523.57,38.39 523.99,39.05 C524.42,39.72 523.37,41.55 523.14,42.50Z" fill="none" stroke="#1f1f55" stroke-width="0.55" opacity="0.6"/><path d="M536.49,60.27 C536.29,61.30 535.27,62.39 534.51,62.86 C533.74,63.33 532.73,63.03 531.92,63.11 C531.12,63.18 530.28,63.58 529.68,63.30 C529.08,63.01 528.59,62.10 528.32,61.40 C528.06,60.69 528.02,60.02 528.09,59.06 C528.16,58.10 528.09,55.96 528.74,55.63 C529.39,55.30 530.82,56.89 531.99,57.06 C533.15,57.23 534.98,56.12 535.73,56.66 C536.48,57.19 536.70,59.24 536.49,60.27Z" fill="none" stroke="#1f1f55" stroke-width="0.55" opacity="0.6"/><path d="M529.76,51.39 C529.47,52.05 528.54,52.17 528.10,52.66 C527.65,53.16 527.71,53.95 527.10,54.35 C526.49,54.75 524.89,55.43 524.46,55.06 C524.02,54.70 524.69,52.95 524.50,52.14 C524.32,51.34 523.18,50.66 523.34,50.21 C523.50,49.76 524.82,49.82 525.46,49.46 C526.10,49.09 526.45,48.17 527.17,48.04 C527.89,47.91 529.38,48.12 529.81,48.68 C530.24,49.24 530.04,50.73 529.76,51.39Z" fill="none" stroke="#1f1f55" stroke-width="0.55" opacity="0.6"/><path d="M526.11,55.95 C526.10,56.24 525.25,56.55 524.93,56.78 C524.61,57.01 524.52,57.17 524.18,57.34 C523.84,57.50 523.37,57.84 522.88,57.77 C522.40,57.70 521.42,57.33 521.29,56.91 C521.15,56.50 521.80,55.71 522.08,55.27 C522.36,54.83 522.59,54.54 522.97,54.27 C523.34,54.00 524.00,53.51 524.34,53.64 C524.69,53.77 524.73,54.65 525.03,55.03 C525.32,55.42 526.13,55.66 526.11,55.95Z" fill="none" stroke="#1f1f55" stroke-width="0.55" opacity="0.6"/><path d="M522.29,50.68 C522.26,51.26 519.54,51.66 518.74,52.35 C517.94,53.05 518.18,54.49 517.48,54.84 C516.78,55.20 515.13,55.01 514.55,54.48 C513.97,53.96 514.16,52.50 514.01,51.67 C513.86,50.85 513.66,50.53 513.64,49.55 C513.63,48.56 513.24,46.52 513.92,45.78 C514.60,45.03 516.90,44.58 517.73,45.09 C518.56,45.61 518.15,47.93 518.91,48.86 C519.67,49.79 522.31,50.09 522.29,50.68Z" fill="none" stroke="#1f1f55" stroke-width="0.55" opacity="0.6"/><path d="M521.41,37.10 C521.18,37.65 520.21,37.80 519.79,38.19 C519.38,38.59 519.38,39.20 518.91,39.46 C518.44,39.71 517.49,39.97 516.97,39.74 C516.45,39.51 516.05,38.71 515.80,38.08 C515.54,37.46 515.13,36.41 515.43,35.99 C515.73,35.56 517.02,35.75 517.60,35.55 C518.18,35.35 518.31,34.90 518.90,34.79 C519.49,34.68 520.72,34.50 521.14,34.88 C521.56,35.27 521.63,36.55 521.41,37.10Z" fill="none" stroke="#1f1f55" stroke-width="0.55" opacity="0.6"/><path d="M517.34,48.11 C517.43,48.79 516.15,50.02 515.44,50.35 C514.74,50.69 513.91,49.89 513.13,50.10 C512.34,50.32 511.24,51.81 510.74,51.64 C510.23,51.47 510.26,49.85 510.11,49.09 C509.96,48.32 509.62,47.58 509.85,47.05 C510.08,46.52 510.93,46.26 511.51,45.92 C512.09,45.58 512.75,44.96 513.32,45.02 C513.89,45.08 514.27,45.78 514.94,46.30 C515.61,46.81 517.26,47.44 517.34,48.11Z" fill="none" stroke="#1f1f55" stroke-width="0.55" opacity="0.6"/><path d="M538.51,62.08 C538.42,62.45 537.24,62.51 536.87,62.95 C536.50,63.39 536.70,64.46 536.30,64.71 C535.90,64.96 534.89,64.75 534.48,64.44 C534.06,64.12 533.96,63.36 533.79,62.83 C533.62,62.29 533.25,61.59 533.44,61.21 C533.64,60.84 534.49,60.85 534.96,60.57 C535.44,60.29 535.88,59.49 536.29,59.53 C536.69,59.56 537.04,60.34 537.41,60.76 C537.78,61.19 538.60,61.72 538.51,62.08Z" fill="none" stroke="#1f1f55" stroke-width="0.55" opacity="0.6"/><path d="M528.56,72.29 C528.52,73.23 529.25,74.53 528.85,75.01 C528.44,75.49 526.97,75.10 526.12,75.19 C525.27,75.27 524.21,75.86 523.75,75.51 C523.28,75.17 523.68,73.89 523.33,73.12 C522.99,72.34 521.52,71.38 521.67,70.86 C521.83,70.34 523.57,70.10 524.28,69.99 C525.00,69.89 525.17,70.32 525.97,70.22 C526.77,70.12 528.65,69.03 529.08,69.38 C529.51,69.72 528.60,71.35 528.56,72.29Z" fill="none" stroke="#1f1f55" stroke-width="0.55" opacity="0.6"/><path d="M537.72,70.19 C537.64,70.96 535.23,71.74 534.35,72.32 C533.46,72.90 533.19,73.42 532.42,73.67 C531.64,73.91 530.59,74.10 529.71,73.80 C528.83,73.51 527.72,72.83 527.14,71.88 C526.56,70.94 526.07,69.52 526.23,68.16 C526.38,66.79 526.99,64.16 528.06,63.71 C529.13,63.25 531.52,64.78 532.64,65.44 C533.76,66.11 533.93,66.90 534.78,67.69 C535.62,68.48 537.79,69.41 537.72,70.19Z" fill="none" stroke="#1f1f55" stroke-width="0.55" opacity="0.6"/><path d="M519.36,51.76 C519.47,52.19 519.35,53.11 519.02,53.34 C518.69,53.57 517.86,53.09 517.38,53.13 C516.90,53.16 516.55,53.61 516.12,53.53 C515.70,53.44 515.06,53.05 514.82,52.61 C514.59,52.17 514.50,51.30 514.73,50.88 C514.95,50.47 515.70,50.41 516.18,50.10 C516.66,49.79 517.26,48.92 517.62,49.03 C517.98,49.14 518.05,50.31 518.34,50.76 C518.62,51.22 519.24,51.33 519.36,51.76Z" fill="none" stroke="#1f1f55" stroke-width="0.55" opacity="0.6"/><path d="M525.00,38.56 C524.94,39.35 523.35,40.24 522.60,40.77 C521.86,41.30 521.40,41.37 520.53,41.74 C519.66,42.12 518.06,43.36 517.38,43.04 C516.70,42.73 516.90,40.91 516.46,39.84 C516.02,38.78 514.42,37.35 514.72,36.65 C515.03,35.95 517.23,36.34 518.28,35.64 C519.34,34.94 520.26,32.40 521.04,32.47 C521.83,32.53 522.32,35.02 522.98,36.03 C523.64,37.05 525.07,37.77 525.00,38.56Z" fill="none" stroke="#1f1f55" stroke-width="0.55" opacity="0.6"/><path d="M501.80,34.89 C503.00,35.26 506.61,36.62 509.02,37.13 C511.42,37.65 513.83,38.05 516.23,37.95 C518.64,37.86 521.04,37.10 523.45,36.59 C525.86,36.07 528.26,34.74 530.67,34.87 C533.07,34.99 535.48,36.31 537.88,37.34 C540.29,38.37 543.90,40.43 545.10,41.05" fill="none" stroke="#1f1f55" stroke-width="0.55" opacity="0.55"/><path d="M501.80,59.11 C503.00,57.89 506.61,51.74 509.02,51.81 C511.42,51.88 513.83,58.38 516.23,59.52 C518.64,60.67 521.04,59.29 523.45,58.69 C525.86,58.09 528.26,56.42 530.67,55.93 C533.07,55.44 535.48,55.77 537.88,55.77 C540.29,55.76 543.90,55.86 545.10,55.87" fill="none" stroke="#1f1f55" stroke-width="0.55" opacity="0.55"/><path d="M501.80,65.06 C503.00,65.83 506.61,69.04 509.02,69.68 C511.42,70.31 513.83,69.33 516.23,68.87 C518.64,68.42 521.04,66.70 523.45,66.94 C525.86,67.18 528.26,69.78 530.67,70.34 C533.07,70.90 535.48,71.13 537.88,70.30 C540.29,69.47 543.90,66.19 545.10,65.36" fill="none" stroke="#1f1f55" stroke-width="0.55" opacity="0.55"/><path d="M501.80,60.89 C503.00,60.94 506.61,60.94 509.02,61.18 C511.42,61.43 513.83,62.94 516.23,62.36 C518.64,61.77 521.04,57.73 523.45,57.68 C525.86,57.64 528.26,61.66 530.67,62.08 C533.07,62.51 535.48,59.88 537.88,60.25 C540.29,60.61 543.90,63.62 545.10,64.29" fill="none" stroke="#1f1f55" stroke-width="0.55" opacity="0.55"/></g>
<circle cx="523.45" cy="54.35" r="21.20" fill="none" stroke="#0a0a0a" stroke-width="1.9"/>
</g>
<g transform="translate(579.90 54.35) scale(1 1.013) translate(-579.90 -54.35)">
<rect x="556.15" y="49.35" width="2.3" height="11.2" rx="0.9" fill="#1e1e44" stroke="#000" stroke-width="1.2"/>
<rect x="601.35" y="49.35" width="2.3" height="11.2" rx="0.9" fill="#1e1e44" stroke="#000" stroke-width="1.2"/>
<path d="M576.50,33.90 Q577.50,32.50 578.80,31.00 Q579.90,29.80 581.00,31.00 Q582.30,32.50 583.30,33.90" fill="#fff" stroke="#000" stroke-width="1.5" stroke-linejoin="round"/>
<circle cx="579.90" cy="54.35" r="22.75" fill="#8080c8" opacity="0.45"/>
<circle cx="579.90" cy="54.35" r="21.85" fill="#34346f"/>
<g clip-path="url(#tc07)"><path d="M572.05,49.12 C572.00,50.23 573.17,51.48 572.81,52.29 C572.46,53.10 570.90,53.90 569.90,54.01 C568.90,54.12 567.42,53.60 566.83,52.95 C566.24,52.30 566.60,50.97 566.35,50.10 C566.09,49.24 565.11,48.41 565.28,47.75 C565.44,47.10 566.62,46.47 567.34,46.18 C568.06,45.89 568.62,46.10 569.59,46.02 C570.56,45.93 572.74,45.16 573.15,45.67 C573.56,46.19 572.11,48.02 572.05,49.12Z" fill="none" stroke="#1f1f55" stroke-width="0.55" opacity="0.6"/><path d="M589.18,54.27 C588.98,55.40 588.02,56.49 587.24,57.17 C586.46,57.84 585.55,57.99 584.50,58.32 C583.45,58.66 581.82,59.59 580.94,59.19 C580.07,58.78 579.69,57.06 579.26,55.91 C578.84,54.77 578.12,53.39 578.41,52.31 C578.69,51.22 579.97,49.64 580.97,49.39 C581.97,49.14 583.15,50.64 584.39,50.80 C585.64,50.96 587.62,49.80 588.42,50.38 C589.22,50.95 589.37,53.13 589.18,54.27Z" fill="none" stroke="#1f1f55" stroke-width="0.55" opacity="0.6"/><path d="M600.49,52.35 C600.27,53.07 600.14,53.46 599.79,53.93 C599.44,54.40 599.18,54.65 598.41,55.19 C597.64,55.72 595.78,57.40 595.16,57.12 C594.54,56.84 594.80,54.53 594.69,53.52 C594.58,52.52 594.40,52.08 594.49,51.11 C594.58,50.14 594.56,48.07 595.23,47.71 C595.89,47.34 597.52,48.62 598.51,48.94 C599.50,49.26 600.82,49.07 601.15,49.63 C601.48,50.20 600.72,51.64 600.49,52.35Z" fill="none" stroke="#1f1f55" stroke-width="0.55" opacity="0.6"/><path d="M580.64,56.19 C580.48,56.93 578.54,57.53 577.78,58.03 C577.03,58.54 576.79,59.00 576.12,59.23 C575.44,59.45 574.22,59.74 573.74,59.38 C573.26,59.01 573.55,57.80 573.24,57.04 C572.93,56.28 571.89,55.69 571.87,54.83 C571.85,53.97 572.35,52.39 573.10,51.88 C573.85,51.37 575.42,51.51 576.36,51.79 C577.29,52.07 577.99,52.84 578.70,53.57 C579.41,54.30 580.79,55.44 580.64,56.19Z" fill="none" stroke="#1f1f55" stroke-width="0.55" opacity="0.6"/><path d="M587.77,48.73 C587.84,49.57 588.00,51.00 587.50,51.44 C586.99,51.88 585.67,51.14 584.74,51.38 C583.80,51.61 582.38,53.14 581.89,52.85 C581.40,52.56 581.84,50.48 581.79,49.63 C581.74,48.78 581.57,48.60 581.58,47.75 C581.59,46.90 581.24,45.23 581.84,44.52 C582.44,43.81 584.31,43.21 585.19,43.51 C586.06,43.82 586.66,45.49 587.10,46.36 C587.53,47.22 587.71,47.88 587.77,48.73Z" fill="none" stroke="#1f1f55" stroke-width="0.55" opacity="0.6"/><path d="M575.16,59.04 C575.07,59.56 574.14,60.06 573.68,60.38 C573.22,60.70 572.91,60.80 572.42,60.97 C571.93,61.13 571.10,61.59 570.72,61.39 C570.34,61.19 570.41,60.31 570.14,59.74 C569.87,59.17 569.09,58.59 569.12,57.96 C569.15,57.33 569.72,56.36 570.31,55.97 C570.90,55.59 572.03,55.43 572.68,55.65 C573.33,55.86 573.79,56.69 574.20,57.25 C574.62,57.82 575.25,58.52 575.16,59.04Z" fill="none" stroke="#1f1f55" stroke-width="0.55" opacity="0.6"/><path d="M575.05,64.27 C574.98,64.66 574.43,65.03 574.12,65.29 C573.81,65.54 573.49,65.80 573.19,65.81 C572.89,65.81 572.63,65.48 572.32,65.32 C572.00,65.16 571.48,65.15 571.28,64.87 C571.08,64.59 570.96,63.95 571.10,63.61 C571.23,63.27 571.72,63.11 572.09,62.84 C572.46,62.56 572.93,61.94 573.33,61.95 C573.73,61.97 574.22,62.56 574.51,62.94 C574.79,63.33 575.11,63.88 575.05,64.27Z" fill="none" stroke="#1f1f55" stroke-width="0.55" opacity="0.6"/><path d="M585.87,67.67 C585.91,68.84 585.68,70.71 584.90,71.26 C584.12,71.81 582.34,70.84 581.20,70.98 C580.06,71.12 578.94,72.37 578.06,72.11 C577.18,71.84 576.23,70.39 575.91,69.38 C575.59,68.37 575.77,67.03 576.15,66.04 C576.53,65.06 577.29,64.11 578.20,63.48 C579.10,62.84 580.49,62.10 581.58,62.23 C582.66,62.36 583.99,63.34 584.70,64.24 C585.42,65.15 585.84,66.50 585.87,67.67Z" fill="none" stroke="#1f1f55" stroke-width="0.55" opacity="0.6"/><path d="M577.14,54.83 C577.13,55.52 575.60,56.53 574.87,56.88 C574.15,57.24 573.38,56.99 572.80,56.95 C572.22,56.91 572.00,56.77 571.39,56.62 C570.77,56.46 569.28,56.46 569.10,56.03 C568.93,55.61 570.00,54.61 570.36,54.07 C570.72,53.54 570.85,53.08 571.26,52.82 C571.68,52.56 572.22,52.52 572.83,52.50 C573.45,52.48 574.24,52.31 574.96,52.70 C575.67,53.09 577.16,54.13 577.14,54.83Z" fill="none" stroke="#1f1f55" stroke-width="0.55" opacity="0.6"/><path d="M596.02,53.76 C595.88,54.63 595.84,55.46 595.38,56.01 C594.93,56.56 594.08,56.84 593.28,57.06 C592.49,57.28 591.46,57.62 590.64,57.34 C589.82,57.05 588.66,56.17 588.37,55.34 C588.08,54.51 588.45,53.11 588.90,52.38 C589.35,51.64 590.31,51.33 591.06,50.92 C591.81,50.51 592.52,49.93 593.38,49.91 C594.25,49.88 595.82,50.13 596.26,50.78 C596.70,51.42 596.17,52.89 596.02,53.76Z" fill="none" stroke="#1f1f55" stroke-width="0.55" opacity="0.6"/><path d="M589.71,61.72 C589.62,62.77 589.15,63.93 588.49,64.65 C587.84,65.37 586.78,65.78 585.76,66.04 C584.75,66.29 583.18,66.69 582.42,66.20 C581.66,65.71 581.59,64.13 581.22,63.10 C580.86,62.06 580.05,61.02 580.21,59.98 C580.38,58.94 581.29,57.21 582.20,56.87 C583.11,56.52 584.54,57.66 585.68,57.90 C586.82,58.15 588.36,57.70 589.04,58.34 C589.71,58.97 589.80,60.67 589.71,61.72Z" fill="none" stroke="#1f1f55" stroke-width="0.55" opacity="0.6"/><path d="M579.08,37.35 C579.05,37.88 578.65,38.44 578.29,38.88 C577.93,39.33 577.46,39.87 576.93,40.01 C576.40,40.14 575.43,40.06 575.10,39.71 C574.76,39.36 575.05,38.43 574.93,37.90 C574.80,37.38 574.22,36.88 574.36,36.58 C574.50,36.28 575.35,36.35 575.76,36.13 C576.17,35.91 576.38,35.34 576.83,35.26 C577.28,35.18 578.10,35.31 578.48,35.65 C578.85,36.00 579.11,36.81 579.08,37.35Z" fill="none" stroke="#1f1f55" stroke-width="0.55" opacity="0.6"/><path d="M585.36,64.52 C585.30,64.92 585.23,65.32 585.01,65.55 C584.79,65.78 584.48,65.66 584.03,65.92 C583.58,66.17 582.79,67.14 582.31,67.06 C581.84,66.98 581.28,66.00 581.20,65.46 C581.13,64.92 581.65,64.34 581.87,63.82 C582.09,63.31 582.14,62.63 582.53,62.35 C582.92,62.07 583.72,62.00 584.20,62.13 C584.68,62.27 585.22,62.75 585.41,63.15 C585.61,63.55 585.43,64.12 585.36,64.52Z" fill="none" stroke="#1f1f55" stroke-width="0.55" opacity="0.6"/><path d="M558.25,53.01 C559.45,52.87 563.06,52.67 565.47,52.14 C567.87,51.61 570.28,50.08 572.68,49.83 C575.09,49.57 577.49,50.13 579.90,50.61 C582.31,51.10 584.71,52.37 587.12,52.72 C589.52,53.07 591.93,53.27 594.33,52.72 C596.74,52.16 600.35,49.93 601.55,49.38" fill="none" stroke="#1f1f55" stroke-width="0.55" opacity="0.55"/><path d="M558.25,61.15 C559.45,61.15 563.06,61.42 565.47,61.12 C567.87,60.83 570.28,60.44 572.68,59.37 C575.09,58.30 577.49,55.02 579.90,54.71 C582.31,54.41 584.71,57.52 587.12,57.54 C589.52,57.57 591.93,55.36 594.33,54.86 C596.74,54.37 600.35,54.64 601.55,54.59" fill="none" stroke="#1f1f55" stroke-width="0.55" opacity="0.55"/><path d="M558.25,45.51 C559.45,45.91 563.06,47.70 565.47,47.93 C567.87,48.16 570.28,47.52 572.68,46.88 C575.09,46.25 577.49,44.02 579.90,44.11 C582.31,44.20 584.71,47.11 587.12,47.41 C589.52,47.71 591.93,46.15 594.33,45.90 C596.74,45.65 600.35,45.91 601.55,45.91" fill="none" stroke="#1f1f55" stroke-width="0.55" opacity="0.55"/><path d="M558.25,45.70 C559.45,45.56 563.06,44.51 565.47,44.89 C567.87,45.27 570.28,47.79 572.68,47.97 C575.09,48.16 577.49,46.40 579.90,46.02 C582.31,45.65 584.71,45.74 587.12,45.74 C589.52,45.73 591.93,45.93 594.33,45.98 C596.74,46.02 600.35,46.00 601.55,46.00" fill="none" stroke="#1f1f55" stroke-width="0.55" opacity="0.55"/></g>
<circle cx="579.90" cy="54.35" r="21.20" fill="none" stroke="#0a0a0a" stroke-width="1.9"/>
</g>
<g transform="translate(177.60 120.75) scale(1 1.013) translate(-177.60 -120.75)">
<rect x="153.85" y="115.75" width="2.3" height="11.2" rx="0.9" fill="#1e1e44" stroke="#000" stroke-width="1.2"/>
<rect x="199.05" y="115.75" width="2.3" height="11.2" rx="0.9" fill="#1e1e44" stroke="#000" stroke-width="1.2"/>
<path d="M174.20,100.30 Q175.20,98.90 176.50,97.40 Q177.60,96.20 178.70,97.40 Q180.00,98.90 181.00,100.30" fill="#fff" stroke="#000" stroke-width="1.5" stroke-linejoin="round"/>
<circle cx="177.60" cy="120.75" r="22.75" fill="#8080c8" opacity="0.45"/>
<circle cx="177.60" cy="120.75" r="21.85" fill="#34346f"/>
<g clip-path="url(#tc10)"><path d="M182.28,135.96 C182.27,136.66 180.05,137.49 179.22,138.04 C178.40,138.60 178.00,139.20 177.33,139.31 C176.66,139.41 175.81,139.02 175.18,138.65 C174.56,138.29 174.11,137.86 173.56,137.11 C173.02,136.37 171.63,134.83 171.91,134.20 C172.18,133.57 174.28,133.75 175.21,133.32 C176.15,132.88 176.83,131.50 177.51,131.59 C178.19,131.67 178.50,133.08 179.30,133.81 C180.09,134.54 182.29,135.25 182.28,135.96Z" fill="none" stroke="#1f1f55" stroke-width="0.55" opacity="0.6"/><path d="M179.58,132.37 C179.21,133.32 177.32,133.63 176.55,134.29 C175.78,134.95 175.63,136.14 174.95,136.33 C174.27,136.51 173.61,135.71 172.49,135.41 C171.38,135.11 168.95,135.40 168.28,134.54 C167.62,133.68 168.02,131.52 168.51,130.28 C168.99,129.03 170.07,127.75 171.20,127.08 C172.34,126.42 174.07,126.03 175.33,126.28 C176.58,126.53 178.03,127.59 178.74,128.60 C179.45,129.61 179.94,131.42 179.58,132.37Z" fill="none" stroke="#1f1f55" stroke-width="0.55" opacity="0.6"/><path d="M196.69,115.62 C196.79,116.11 195.75,116.82 195.26,117.37 C194.76,117.91 194.33,118.75 193.75,118.88 C193.16,119.00 192.23,118.52 191.73,118.12 C191.22,117.73 190.88,117.06 190.73,116.50 C190.59,115.95 190.68,115.30 190.87,114.78 C191.06,114.26 191.42,113.61 191.87,113.37 C192.33,113.13 193.12,113.14 193.58,113.31 C194.04,113.48 194.11,114.01 194.63,114.39 C195.15,114.77 196.59,115.12 196.69,115.62Z" fill="none" stroke="#1f1f55" stroke-width="0.55" opacity="0.6"/><path d="M190.85,105.86 C190.86,107.06 189.78,108.44 188.92,109.51 C188.06,110.58 186.75,112.34 185.70,112.29 C184.65,112.24 183.80,109.91 182.64,109.20 C181.48,108.48 179.22,108.84 178.72,107.98 C178.23,107.13 179.04,105.02 179.68,104.08 C180.32,103.14 181.61,102.75 182.55,102.36 C183.48,101.98 184.24,101.78 185.29,101.77 C186.33,101.76 187.89,101.61 188.82,102.29 C189.74,102.97 190.83,104.65 190.85,105.86Z" fill="none" stroke="#1f1f55" stroke-width="0.55" opacity="0.6"/><path d="M181.04,133.22 C180.83,134.01 180.02,134.39 179.52,135.05 C179.02,135.71 178.67,137.02 178.04,137.17 C177.41,137.33 176.36,136.46 175.75,135.98 C175.13,135.50 174.56,134.94 174.35,134.31 C174.13,133.68 174.27,132.88 174.47,132.18 C174.67,131.47 174.98,130.36 175.54,130.10 C176.09,129.83 176.92,130.56 177.80,130.60 C178.68,130.64 180.27,129.87 180.81,130.31 C181.35,130.75 181.26,132.43 181.04,133.22Z" fill="none" stroke="#1f1f55" stroke-width="0.55" opacity="0.6"/><path d="M194.61,117.45 C194.23,118.37 191.68,118.75 190.77,119.27 C189.86,119.79 189.98,120.09 189.16,120.59 C188.33,121.08 186.81,122.46 185.83,122.26 C184.85,122.06 183.59,120.47 183.28,119.39 C182.97,118.31 183.33,116.55 183.95,115.76 C184.56,114.97 186.09,115.04 186.98,114.64 C187.88,114.24 188.32,113.51 189.33,113.36 C190.33,113.21 192.15,113.06 193.03,113.74 C193.91,114.42 194.98,116.53 194.61,117.45Z" fill="none" stroke="#1f1f55" stroke-width="0.55" opacity="0.6"/><path d="M193.33,109.94 C193.26,110.48 192.27,110.92 191.81,111.41 C191.35,111.90 191.02,112.87 190.57,112.88 C190.13,112.90 189.78,111.80 189.15,111.50 C188.51,111.21 187.03,111.56 186.75,111.14 C186.47,110.72 187.16,109.63 187.46,108.99 C187.76,108.36 188.06,107.50 188.55,107.33 C189.04,107.17 189.79,107.87 190.39,108.00 C191.00,108.14 191.70,107.82 192.19,108.14 C192.68,108.46 193.39,109.39 193.33,109.94Z" fill="none" stroke="#1f1f55" stroke-width="0.55" opacity="0.6"/><path d="M168.94,113.87 C168.84,114.53 167.87,115.19 167.33,115.62 C166.79,116.05 166.23,116.40 165.69,116.44 C165.15,116.48 164.73,116.07 164.09,115.85 C163.46,115.62 162.01,115.55 161.86,115.09 C161.72,114.64 162.85,113.68 163.21,113.13 C163.57,112.57 163.62,111.96 164.02,111.75 C164.41,111.54 164.95,111.87 165.59,111.85 C166.24,111.82 167.35,111.29 167.91,111.62 C168.47,111.96 169.03,113.20 168.94,113.87Z" fill="none" stroke="#1f1f55" stroke-width="0.55" opacity="0.6"/><path d="M166.72,116.06 C166.67,116.47 166.44,116.94 166.17,117.16 C165.90,117.37 165.41,117.37 165.10,117.35 C164.78,117.34 164.75,117.14 164.29,117.08 C163.82,117.02 162.43,117.24 162.32,116.99 C162.20,116.75 163.31,115.99 163.60,115.60 C163.89,115.21 163.80,114.83 164.05,114.65 C164.31,114.46 164.74,114.49 165.15,114.50 C165.55,114.51 166.21,114.46 166.48,114.72 C166.74,114.98 166.77,115.66 166.72,116.06Z" fill="none" stroke="#1f1f55" stroke-width="0.55" opacity="0.6"/><path d="M192.75,126.65 C192.66,127.14 190.80,127.42 190.21,127.87 C189.63,128.32 189.73,129.10 189.23,129.35 C188.72,129.60 187.94,129.58 187.18,129.37 C186.42,129.17 184.91,128.77 184.67,128.13 C184.43,127.50 185.32,126.25 185.75,125.55 C186.17,124.86 186.60,124.38 187.21,123.97 C187.81,123.56 188.78,122.95 189.37,123.12 C189.97,123.28 190.21,124.36 190.78,124.95 C191.34,125.54 192.85,126.16 192.75,126.65Z" fill="none" stroke="#1f1f55" stroke-width="0.55" opacity="0.6"/><path d="M196.53,123.33 C196.51,124.24 194.42,125.04 193.57,126.01 C192.71,126.98 192.49,128.66 191.40,129.17 C190.32,129.68 187.89,129.79 187.07,129.06 C186.24,128.32 186.77,126.03 186.45,124.76 C186.14,123.49 184.90,122.34 185.17,121.44 C185.45,120.54 187.10,119.73 188.09,119.37 C189.07,119.01 190.16,119.08 191.09,119.28 C192.01,119.48 192.75,119.90 193.66,120.57 C194.56,121.25 196.54,122.43 196.53,123.33Z" fill="none" stroke="#1f1f55" stroke-width="0.55" opacity="0.6"/><path d="M182.50,131.19 C182.41,131.55 181.94,131.65 181.71,132.03 C181.48,132.41 181.46,133.34 181.12,133.50 C180.78,133.66 179.92,133.33 179.67,133.01 C179.42,132.69 179.81,132.03 179.62,131.60 C179.42,131.16 178.43,130.66 178.49,130.39 C178.55,130.11 179.56,130.11 179.99,129.93 C180.41,129.75 180.67,129.32 181.05,129.31 C181.43,129.31 182.03,129.58 182.27,129.89 C182.51,130.21 182.59,130.84 182.50,131.19Z" fill="none" stroke="#1f1f55" stroke-width="0.55" opacity="0.6"/><path d="M175.09,129.34 C175.35,130.07 176.38,131.78 176.05,132.17 C175.71,132.55 174.00,131.51 173.08,131.65 C172.16,131.80 171.01,133.29 170.53,133.06 C170.05,132.82 170.29,131.02 170.19,130.24 C170.10,129.46 169.82,128.95 169.98,128.36 C170.13,127.76 170.61,126.84 171.12,126.65 C171.63,126.46 172.48,127.04 173.05,127.23 C173.61,127.43 174.17,127.45 174.51,127.80 C174.85,128.15 174.84,128.61 175.09,129.34Z" fill="none" stroke="#1f1f55" stroke-width="0.55" opacity="0.6"/><path d="M155.95,115.47 C157.15,116.05 160.76,118.22 163.17,118.95 C165.57,119.68 167.98,120.97 170.38,119.85 C172.79,118.74 175.19,112.89 177.60,112.28 C180.01,111.68 182.41,116.10 184.82,116.22 C187.22,116.33 189.63,112.61 192.03,112.97 C194.44,113.33 198.05,117.47 199.25,118.37" fill="none" stroke="#1f1f55" stroke-width="0.55" opacity="0.55"/><path d="M155.95,117.75 C157.15,117.29 160.76,116.00 163.17,114.97 C165.57,113.95 167.98,112.33 170.38,111.61 C172.79,110.89 175.19,110.49 177.60,110.65 C180.01,110.81 182.41,111.44 184.82,112.59 C187.22,113.74 189.63,117.68 192.03,117.55 C194.44,117.42 198.05,112.76 199.25,111.81" fill="none" stroke="#1f1f55" stroke-width="0.55" opacity="0.55"/><path d="M155.95,118.99 C157.15,118.96 160.76,118.21 163.17,118.78 C165.57,119.35 167.98,122.61 170.38,122.43 C172.79,122.26 175.19,117.84 177.60,117.73 C180.01,117.62 182.41,121.16 184.82,121.77 C187.22,122.37 189.63,121.06 192.03,121.35 C194.44,121.64 198.05,123.14 199.25,123.50" fill="none" stroke="#1f1f55" stroke-width="0.55" opacity="0.55"/><path d="M155.95,124.80 C157.15,124.16 160.76,121.43 163.17,120.96 C165.57,120.50 167.98,121.79 170.38,122.03 C172.79,122.27 175.19,122.05 177.60,122.40 C180.01,122.76 182.41,123.79 184.82,124.16 C187.22,124.53 189.63,125.59 192.03,124.62 C194.44,123.65 198.05,119.41 199.25,118.36" fill="none" stroke="#1f1f55" stroke-width="0.55" opacity="0.55"/><g filter="url(#tblur)"><circle cx="161.60" cy="126.85" r="2.4" fill="#3c4ad4"/><path d="M180.60,116.95 L188.90,121.85" stroke="#3c4ad4" stroke-width="1.8" stroke-linecap="round"/><circle cx="175.20" cy="114.65" r="1.3" fill="#3c4ad4"/></g></g>
<circle cx="177.60" cy="120.75" r="21.20" fill="none" stroke="#0a0a0a" stroke-width="1.9"/>
</g>
<g transform="translate(233.90 120.75) scale(1 1.013) translate(-233.90 -120.75)">
<rect x="210.15" y="115.75" width="2.3" height="11.2" rx="0.9" fill="#1e1e44" stroke="#000" stroke-width="1.2"/>
<rect x="255.35" y="115.75" width="2.3" height="11.2" rx="0.9" fill="#1e1e44" stroke="#000" stroke-width="1.2"/>
<path d="M230.50,100.30 Q231.50,98.90 232.80,97.40 Q233.90,96.20 235.00,97.40 Q236.30,98.90 237.30,100.30" fill="#fff" stroke="#000" stroke-width="1.5" stroke-linejoin="round"/>
<circle cx="233.90" cy="120.75" r="22.75" fill="#8080c8" opacity="0.45"/>
<circle cx="233.90" cy="120.75" r="21.85" fill="#34346f"/>
<g clip-path="url(#tc11)"><path d="M251.68,130.34 C251.46,131.26 249.47,132.00 248.61,132.56 C247.76,133.11 247.42,133.33 246.57,133.68 C245.71,134.03 244.32,134.96 243.48,134.67 C242.64,134.39 241.66,132.89 241.52,131.97 C241.38,131.04 242.30,130.10 242.64,129.13 C242.98,128.16 242.89,126.59 243.56,126.16 C244.23,125.73 245.59,126.39 246.65,126.54 C247.71,126.68 249.08,126.40 249.92,127.03 C250.76,127.67 251.89,129.42 251.68,130.34Z" fill="none" stroke="#1f1f55" stroke-width="0.55" opacity="0.6"/><path d="M244.85,126.64 C244.65,127.70 244.05,128.26 243.48,129.31 C242.90,130.35 242.41,132.55 241.41,132.93 C240.40,133.30 238.22,132.39 237.46,131.55 C236.70,130.72 237.19,129.03 236.82,127.90 C236.46,126.78 235.18,125.86 235.27,124.81 C235.37,123.76 236.45,121.92 237.39,121.61 C238.34,121.30 239.73,122.71 240.95,122.94 C242.17,123.16 244.06,122.32 244.71,122.94 C245.36,123.55 245.06,125.58 244.85,126.64Z" fill="none" stroke="#1f1f55" stroke-width="0.55" opacity="0.6"/><path d="M243.16,128.21 C243.34,128.68 243.99,129.76 243.78,130.08 C243.57,130.40 242.50,130.01 241.89,130.13 C241.27,130.24 240.45,130.96 240.08,130.75 C239.71,130.55 239.78,129.45 239.66,128.90 C239.55,128.34 239.31,127.94 239.40,127.43 C239.48,126.92 239.75,126.11 240.18,125.84 C240.61,125.57 241.56,125.58 241.97,125.82 C242.38,126.06 242.46,126.88 242.66,127.28 C242.86,127.67 242.97,127.74 243.16,128.21Z" fill="none" stroke="#1f1f55" stroke-width="0.55" opacity="0.6"/><path d="M223.16,112.97 C223.35,113.50 224.15,114.63 223.95,115.04 C223.74,115.45 222.49,115.51 221.92,115.43 C221.35,115.36 221.00,114.86 220.55,114.59 C220.11,114.31 219.40,114.16 219.25,113.78 C219.11,113.41 219.57,112.89 219.69,112.32 C219.81,111.74 219.58,110.62 219.96,110.32 C220.33,110.03 221.44,110.28 221.92,110.54 C222.39,110.80 222.57,111.48 222.78,111.89 C222.98,112.29 222.96,112.45 223.16,112.97Z" fill="none" stroke="#1f1f55" stroke-width="0.55" opacity="0.6"/><path d="M237.95,115.74 C238.04,116.40 239.02,117.59 238.78,117.92 C238.54,118.24 237.20,117.62 236.53,117.67 C235.85,117.73 235.09,118.46 234.74,118.25 C234.38,118.04 234.58,116.97 234.39,116.40 C234.19,115.82 233.53,115.36 233.56,114.78 C233.59,114.21 234.03,113.24 234.56,112.92 C235.08,112.60 236.07,112.69 236.69,112.87 C237.31,113.04 238.07,113.50 238.28,113.98 C238.49,114.46 237.87,115.08 237.95,115.74Z" fill="none" stroke="#1f1f55" stroke-width="0.55" opacity="0.6"/><path d="M224.49,121.90 C224.46,122.78 225.15,123.91 224.79,124.43 C224.43,124.94 223.27,124.69 222.34,125.02 C221.41,125.34 220.14,126.60 219.20,126.39 C218.26,126.18 216.68,124.65 216.71,123.75 C216.73,122.86 218.72,121.73 219.33,121.01 C219.94,120.29 219.81,120.04 220.36,119.43 C220.90,118.81 221.82,117.36 222.60,117.32 C223.38,117.28 224.71,118.42 225.03,119.18 C225.35,119.95 224.53,121.03 224.49,121.90Z" fill="none" stroke="#1f1f55" stroke-width="0.55" opacity="0.6"/><path d="M254.21,122.60 C254.14,123.65 253.46,124.67 252.80,125.59 C252.13,126.50 251.40,127.57 250.21,128.10 C249.02,128.64 246.50,129.47 245.66,128.79 C244.83,128.12 245.31,125.35 245.21,124.07 C245.10,122.78 244.71,121.89 245.05,121.08 C245.39,120.26 246.39,119.86 247.25,119.16 C248.12,118.45 249.26,116.83 250.25,116.85 C251.24,116.87 252.53,118.32 253.19,119.28 C253.85,120.24 254.27,121.55 254.21,122.60Z" fill="none" stroke="#1f1f55" stroke-width="0.55" opacity="0.6"/><path d="M235.10,132.20 C235.27,132.64 235.72,133.58 235.51,133.92 C235.30,134.26 234.29,134.29 233.82,134.23 C233.35,134.18 233.13,133.77 232.67,133.58 C232.20,133.39 231.15,133.42 231.02,133.09 C230.88,132.77 231.58,131.99 231.86,131.62 C232.13,131.25 232.39,130.97 232.69,130.86 C232.99,130.76 233.37,130.94 233.67,131.01 C233.98,131.08 234.28,131.12 234.52,131.31 C234.76,131.51 234.94,131.77 235.10,132.20Z" fill="none" stroke="#1f1f55" stroke-width="0.55" opacity="0.6"/><path d="M240.76,129.13 C240.58,130.14 240.28,130.82 239.76,131.71 C239.23,132.60 238.70,133.96 237.62,134.49 C236.55,135.03 234.14,135.59 233.32,134.94 C232.51,134.28 233.13,131.88 232.74,130.56 C232.35,129.25 230.68,127.94 230.96,127.05 C231.24,126.16 233.32,125.75 234.43,125.23 C235.53,124.71 236.53,123.86 237.59,123.93 C238.66,124.00 240.30,124.78 240.83,125.65 C241.35,126.51 240.94,128.12 240.76,129.13Z" fill="none" stroke="#1f1f55" stroke-width="0.55" opacity="0.6"/><path d="M253.56,115.07 C253.47,115.85 252.08,116.64 251.39,117.18 C250.71,117.73 250.29,117.99 249.45,118.36 C248.61,118.73 247.05,119.76 246.36,119.43 C245.66,119.10 245.57,117.36 245.29,116.38 C245.01,115.39 244.32,114.21 244.66,113.54 C245.00,112.87 246.46,112.91 247.31,112.36 C248.15,111.81 248.95,110.22 249.72,110.24 C250.50,110.27 251.31,111.69 251.95,112.49 C252.59,113.30 253.65,114.29 253.56,115.07Z" fill="none" stroke="#1f1f55" stroke-width="0.55" opacity="0.6"/><path d="M237.28,138.53 C237.18,139.23 236.84,139.97 236.39,140.37 C235.95,140.77 235.21,140.82 234.62,140.91 C234.03,140.99 233.56,141.02 232.86,140.86 C232.15,140.69 230.54,140.46 230.37,139.92 C230.20,139.39 231.43,138.31 231.83,137.67 C232.23,137.02 232.28,136.47 232.77,136.06 C233.27,135.65 234.08,135.17 234.79,135.19 C235.49,135.21 236.59,135.62 237.01,136.18 C237.42,136.73 237.38,137.83 237.28,138.53Z" fill="none" stroke="#1f1f55" stroke-width="0.55" opacity="0.6"/><path d="M224.44,131.87 C224.50,132.38 224.31,133.22 223.96,133.54 C223.60,133.85 222.82,133.75 222.31,133.78 C221.81,133.81 221.27,133.93 220.91,133.73 C220.54,133.52 220.45,133.04 220.12,132.55 C219.79,132.05 218.78,131.16 218.93,130.76 C219.07,130.37 220.39,130.49 220.99,130.17 C221.59,129.84 222.08,128.75 222.52,128.80 C222.96,128.86 223.30,129.99 223.62,130.50 C223.94,131.01 224.38,131.37 224.44,131.87Z" fill="none" stroke="#1f1f55" stroke-width="0.55" opacity="0.6"/><path d="M229.09,108.86 C229.03,109.66 228.19,110.57 227.59,111.11 C226.98,111.64 226.08,112.15 225.47,112.06 C224.86,111.97 224.46,110.94 223.92,110.57 C223.37,110.20 222.43,110.27 222.20,109.84 C221.97,109.41 222.33,108.59 222.53,107.99 C222.73,107.39 222.87,106.77 223.39,106.23 C223.91,105.69 224.87,104.73 225.63,104.74 C226.40,104.74 227.40,105.59 227.98,106.28 C228.56,106.96 229.16,108.05 229.09,108.86Z" fill="none" stroke="#1f1f55" stroke-width="0.55" opacity="0.6"/><path d="M212.25,107.02 C213.45,107.35 217.06,109.23 219.47,109.05 C221.87,108.86 224.28,107.03 226.68,105.91 C229.09,104.80 231.49,101.92 233.90,102.35 C236.31,102.78 238.71,108.07 241.12,108.51 C243.52,108.95 245.93,104.83 248.33,104.99 C250.74,105.14 254.35,108.68 255.55,109.42" fill="none" stroke="#1f1f55" stroke-width="0.55" opacity="0.55"/><path d="M212.25,136.35 C213.45,136.49 217.06,138.19 219.47,137.17 C221.87,136.16 224.28,130.45 226.68,130.27 C229.09,130.08 231.49,135.76 233.90,136.07 C236.31,136.39 238.71,133.04 241.12,132.16 C243.52,131.28 245.93,130.70 248.33,130.80 C250.74,130.90 254.35,132.43 255.55,132.75" fill="none" stroke="#1f1f55" stroke-width="0.55" opacity="0.55"/><path d="M212.25,119.87 C213.45,120.46 217.06,122.39 219.47,123.43 C221.87,124.47 224.28,126.04 226.68,126.10 C229.09,126.16 231.49,124.13 233.90,123.79 C236.31,123.45 238.71,124.32 241.12,124.05 C243.52,123.79 245.93,121.61 248.33,122.20 C250.74,122.79 254.35,126.70 255.55,127.60" fill="none" stroke="#1f1f55" stroke-width="0.55" opacity="0.55"/><path d="M212.25,113.48 C213.45,113.43 217.06,114.10 219.47,113.19 C221.87,112.29 224.28,107.56 226.68,108.03 C229.09,108.50 231.49,115.69 233.90,116.00 C236.31,116.31 238.71,109.92 241.12,109.91 C243.52,109.90 245.93,115.01 248.33,115.94 C250.74,116.86 254.35,115.53 255.55,115.45" fill="none" stroke="#1f1f55" stroke-width="0.55" opacity="0.55"/></g>
<circle cx="233.90" cy="120.75" r="21.20" fill="none" stroke="#0a0a0a" stroke-width="1.9"/>
</g>
<g transform="translate(290.20 120.75) scale(1 1.013) translate(-290.20 -120.75)">
<rect x="266.45" y="115.75" width="2.3" height="11.2" rx="0.9" fill="#1e1e44" stroke="#000" stroke-width="1.2"/>
<rect x="311.65" y="115.75" width="2.3" height="11.2" rx="0.9" fill="#1e1e44" stroke="#000" stroke-width="1.2"/>
<path d="M286.80,100.30 Q287.80,98.90 289.10,97.40 Q290.20,96.20 291.30,97.40 Q292.60,98.90 293.60,100.30" fill="#fff" stroke="#000" stroke-width="1.5" stroke-linejoin="round"/>
<circle cx="290.20" cy="120.75" r="22.75" fill="#8080c8" opacity="0.45"/>
<circle cx="290.20" cy="120.75" r="21.85" fill="#34346f"/>
<g clip-path="url(#tc12)"><path d="M295.43,120.32 C295.72,121.41 297.42,123.90 296.95,124.36 C296.49,124.81 293.91,122.87 292.62,123.05 C291.33,123.23 290.08,125.59 289.19,125.43 C288.30,125.27 287.69,123.27 287.27,122.09 C286.85,120.91 286.39,119.54 286.67,118.33 C286.96,117.12 287.96,115.09 288.97,114.84 C289.99,114.58 291.73,116.30 292.76,116.79 C293.79,117.28 294.71,117.20 295.16,117.79 C295.60,118.38 295.13,119.22 295.43,120.32Z" fill="none" stroke="#1f1f55" stroke-width="0.55" opacity="0.6"/><path d="M289.84,111.34 C289.95,112.01 290.66,113.04 290.40,113.63 C290.14,114.22 289.04,114.77 288.29,114.89 C287.55,115.00 286.39,114.78 285.95,114.31 C285.51,113.84 285.93,112.78 285.64,112.08 C285.34,111.37 284.07,110.59 284.18,110.07 C284.28,109.54 285.62,109.06 286.27,108.91 C286.91,108.77 287.47,109.07 288.05,109.19 C288.62,109.31 289.42,109.26 289.72,109.62 C290.02,109.97 289.73,110.67 289.84,111.34Z" fill="none" stroke="#1f1f55" stroke-width="0.55" opacity="0.6"/><path d="M289.12,123.24 C288.98,124.25 289.24,125.03 288.82,125.88 C288.39,126.74 287.46,128.21 286.58,128.39 C285.69,128.58 284.21,127.66 283.50,127.01 C282.79,126.35 282.72,125.39 282.29,124.47 C281.87,123.56 280.84,122.52 280.95,121.53 C281.06,120.54 282.06,118.89 282.96,118.54 C283.85,118.19 285.21,119.23 286.34,119.44 C287.47,119.66 289.25,119.22 289.71,119.85 C290.17,120.49 289.27,122.24 289.12,123.24Z" fill="none" stroke="#1f1f55" stroke-width="0.55" opacity="0.6"/><path d="M300.34,121.56 C300.50,122.03 299.66,122.90 299.20,123.37 C298.73,123.84 298.07,124.39 297.54,124.38 C297.02,124.37 296.50,123.64 296.04,123.31 C295.57,122.98 295.10,122.86 294.76,122.39 C294.43,121.92 293.80,120.85 294.05,120.47 C294.29,120.09 295.67,120.22 296.22,120.13 C296.77,120.03 297.00,119.82 297.34,119.90 C297.68,119.97 297.74,120.28 298.24,120.56 C298.74,120.84 300.18,121.09 300.34,121.56Z" fill="none" stroke="#1f1f55" stroke-width="0.55" opacity="0.6"/><path d="M277.20,124.05 C277.28,124.82 277.12,126.06 276.61,126.53 C276.10,127.00 275.08,126.53 274.15,126.87 C273.22,127.21 271.65,128.86 271.04,128.58 C270.42,128.31 270.50,126.14 270.46,125.21 C270.42,124.29 270.54,123.68 270.80,123.01 C271.06,122.35 271.40,121.84 272.02,121.22 C272.64,120.59 273.80,119.15 274.50,119.27 C275.19,119.39 275.73,121.14 276.18,121.93 C276.63,122.73 277.13,123.28 277.20,124.05Z" fill="none" stroke="#1f1f55" stroke-width="0.55" opacity="0.6"/><path d="M301.28,114.74 C301.27,115.72 302.76,116.97 302.51,117.67 C302.25,118.37 300.62,118.93 299.76,118.92 C298.89,118.92 297.83,118.22 297.34,117.65 C296.84,117.09 297.04,116.23 296.78,115.55 C296.53,114.87 295.70,114.16 295.81,113.57 C295.92,112.99 296.81,112.59 297.47,112.06 C298.13,111.54 298.93,110.49 299.78,110.44 C300.62,110.39 302.30,111.06 302.55,111.78 C302.80,112.50 301.29,113.76 301.28,114.74Z" fill="none" stroke="#1f1f55" stroke-width="0.55" opacity="0.6"/><path d="M292.22,110.90 C292.24,111.45 292.06,112.37 291.68,112.60 C291.29,112.84 290.40,112.30 289.90,112.30 C289.39,112.30 289.01,112.72 288.67,112.59 C288.33,112.47 288.10,112.00 287.84,111.56 C287.58,111.13 286.92,110.27 287.11,109.98 C287.31,109.69 288.57,109.88 289.03,109.83 C289.49,109.78 289.45,109.74 289.87,109.65 C290.29,109.57 291.17,109.09 291.56,109.30 C291.95,109.51 292.20,110.35 292.22,110.90Z" fill="none" stroke="#1f1f55" stroke-width="0.55" opacity="0.6"/><path d="M283.89,115.45 C284.06,116.47 283.73,118.30 283.00,118.92 C282.27,119.54 280.47,119.29 279.52,119.16 C278.57,119.03 277.86,118.61 277.30,118.16 C276.75,117.70 276.57,117.11 276.20,116.42 C275.82,115.74 275.05,114.98 275.06,114.07 C275.06,113.15 275.49,111.38 276.25,110.92 C277.01,110.46 278.64,110.97 279.60,111.29 C280.56,111.60 281.29,112.12 282.01,112.81 C282.73,113.51 283.73,114.43 283.89,115.45Z" fill="none" stroke="#1f1f55" stroke-width="0.55" opacity="0.6"/><path d="M282.24,110.27 C282.42,111.20 283.12,112.69 282.70,113.51 C282.27,114.32 280.78,114.94 279.70,115.16 C278.62,115.39 277.18,115.35 276.21,114.83 C275.24,114.32 273.84,112.97 273.90,112.07 C273.95,111.17 276.09,110.39 276.54,109.44 C276.98,108.48 276.08,106.78 276.57,106.34 C277.05,105.90 278.61,106.55 279.45,106.81 C280.29,107.08 281.17,107.35 281.63,107.93 C282.10,108.51 282.06,109.34 282.24,110.27Z" fill="none" stroke="#1f1f55" stroke-width="0.55" opacity="0.6"/><path d="M287.05,119.96 C287.04,120.46 285.59,120.88 285.07,121.47 C284.54,122.07 284.45,123.33 283.89,123.53 C283.33,123.72 282.17,123.13 281.70,122.66 C281.23,122.20 281.19,121.34 281.08,120.75 C280.98,120.17 280.96,119.72 281.08,119.16 C281.19,118.60 281.33,117.79 281.79,117.40 C282.25,117.02 283.26,116.67 283.81,116.84 C284.36,117.01 284.54,117.91 285.08,118.43 C285.62,118.95 287.05,119.45 287.05,119.96Z" fill="none" stroke="#1f1f55" stroke-width="0.55" opacity="0.6"/><path d="M303.21,123.52 C303.09,124.35 300.74,124.68 299.94,125.72 C299.14,126.76 299.29,129.35 298.41,129.74 C297.54,130.14 295.53,128.89 294.67,128.10 C293.81,127.31 293.84,126.14 293.25,125.00 C292.67,123.86 290.77,122.03 291.16,121.28 C291.54,120.52 294.44,120.67 295.57,120.48 C296.69,120.30 297.06,120.15 297.90,120.19 C298.75,120.23 299.77,120.16 300.66,120.72 C301.54,121.27 303.33,122.69 303.21,123.52Z" fill="none" stroke="#1f1f55" stroke-width="0.55" opacity="0.6"/><path d="M293.91,107.17 C293.82,107.96 292.33,108.56 291.67,109.28 C291.00,110.01 290.52,111.56 289.92,111.52 C289.32,111.48 288.89,109.52 288.07,109.05 C287.25,108.57 285.24,109.14 285.01,108.68 C284.79,108.22 286.35,107.11 286.71,106.28 C287.06,105.45 286.59,104.27 287.13,103.67 C287.67,103.07 289.09,102.53 289.94,102.68 C290.80,102.83 291.58,103.83 292.25,104.57 C292.91,105.32 294.01,106.39 293.91,107.17Z" fill="none" stroke="#1f1f55" stroke-width="0.55" opacity="0.6"/><path d="M282.29,114.26 C282.07,115.22 281.50,115.79 280.95,116.58 C280.41,117.37 279.87,118.69 279.02,118.98 C278.18,119.27 276.50,118.90 275.86,118.29 C275.23,117.69 275.56,116.29 275.21,115.35 C274.86,114.41 273.66,113.48 273.78,112.66 C273.91,111.83 275.13,110.68 275.96,110.40 C276.79,110.12 277.72,110.92 278.77,110.99 C279.82,111.06 281.70,110.29 282.28,110.83 C282.87,111.38 282.51,113.31 282.29,114.26Z" fill="none" stroke="#1f1f55" stroke-width="0.55" opacity="0.6"/><path d="M268.55,129.11 C269.75,129.81 273.36,132.46 275.77,133.32 C278.17,134.19 280.58,134.57 282.98,134.30 C285.39,134.02 287.79,132.47 290.20,131.69 C292.61,130.92 295.01,130.18 297.42,129.66 C299.82,129.14 302.23,128.95 304.63,128.58 C307.04,128.21 310.65,127.63 311.85,127.44" fill="none" stroke="#1f1f55" stroke-width="0.55" opacity="0.55"/><path d="M268.55,116.88 C269.75,115.63 273.36,109.48 275.77,109.37 C278.17,109.26 280.58,115.37 282.98,116.22 C285.39,117.07 287.79,114.64 290.20,114.46 C292.61,114.29 295.01,115.96 297.42,115.16 C299.82,114.36 302.23,109.86 304.63,109.68 C307.04,109.50 310.65,113.33 311.85,114.06" fill="none" stroke="#1f1f55" stroke-width="0.55" opacity="0.55"/><path d="M268.55,111.95 C269.75,112.11 273.36,112.83 275.77,112.89 C278.17,112.95 280.58,112.65 282.98,112.31 C285.39,111.96 287.79,110.60 290.20,110.82 C292.61,111.04 295.01,114.02 297.42,113.61 C299.82,113.21 302.23,109.34 304.63,108.37 C307.04,107.40 310.65,107.89 311.85,107.79" fill="none" stroke="#1f1f55" stroke-width="0.55" opacity="0.55"/><path d="M268.55,129.86 C269.75,130.34 273.36,132.27 275.77,132.75 C278.17,133.24 280.58,132.16 282.98,132.77 C285.39,133.38 287.79,136.49 290.20,136.43 C292.61,136.36 295.01,132.80 297.42,132.39 C299.82,131.98 302.23,133.79 304.63,133.97 C307.04,134.14 310.65,133.51 311.85,133.42" fill="none" stroke="#1f1f55" stroke-width="0.55" opacity="0.55"/></g>
<circle cx="290.20" cy="120.75" r="21.20" fill="none" stroke="#0a0a0a" stroke-width="1.9"/>
</g>
<g transform="translate(348.00 120.75) scale(1 1.013) translate(-348.00 -120.75)">
<rect x="324.25" y="115.75" width="2.3" height="11.2" rx="0.9" fill="#1e1e44" stroke="#000" stroke-width="1.2"/>
<rect x="369.45" y="115.75" width="2.3" height="11.2" rx="0.9" fill="#1e1e44" stroke="#000" stroke-width="1.2"/>
<path d="M344.60,100.30 Q345.60,98.90 346.90,97.40 Q348.00,96.20 349.10,97.40 Q350.40,98.90 351.40,100.30" fill="#fff" stroke="#000" stroke-width="1.5" stroke-linejoin="round"/>
<circle cx="348.00" cy="120.75" r="22.75" fill="#8080c8" opacity="0.45"/>
<circle cx="348.00" cy="120.75" r="21.85" fill="#34346f"/>
<g clip-path="url(#tc13)"><path d="M342.98,130.50 C343.07,131.09 342.58,131.88 342.15,132.49 C341.73,133.11 341.05,134.15 340.43,134.21 C339.81,134.26 339.12,133.24 338.43,132.84 C337.74,132.43 336.39,132.27 336.29,131.77 C336.20,131.26 337.52,130.42 337.87,129.81 C338.21,129.19 337.97,128.42 338.37,128.06 C338.77,127.70 339.74,127.49 340.28,127.64 C340.82,127.79 341.15,128.49 341.60,128.97 C342.05,129.44 342.88,129.91 342.98,130.50Z" fill="none" stroke="#1f1f55" stroke-width="0.55" opacity="0.6"/><path d="M354.02,110.51 C354.00,111.34 351.37,111.93 350.48,112.95 C349.58,113.97 349.63,116.18 348.65,116.62 C347.68,117.07 345.65,116.32 344.64,115.60 C343.62,114.89 342.52,113.36 342.55,112.34 C342.58,111.33 344.36,110.47 344.82,109.51 C345.28,108.54 344.69,107.25 345.30,106.56 C345.91,105.88 347.59,105.16 348.48,105.39 C349.36,105.63 349.68,107.12 350.60,107.97 C351.53,108.82 354.04,109.68 354.02,110.51Z" fill="none" stroke="#1f1f55" stroke-width="0.55" opacity="0.6"/><path d="M353.03,130.86 C352.90,131.49 351.99,131.99 351.50,132.42 C351.01,132.84 350.66,133.22 350.09,133.41 C349.53,133.59 348.77,133.73 348.11,133.52 C347.45,133.31 346.23,132.71 346.13,132.14 C346.02,131.57 347.04,130.54 347.48,130.07 C347.92,129.61 348.30,129.84 348.77,129.34 C349.24,128.85 349.71,127.24 350.30,127.12 C350.90,127.00 351.86,127.99 352.32,128.62 C352.77,129.24 353.17,130.23 353.03,130.86Z" fill="none" stroke="#1f1f55" stroke-width="0.55" opacity="0.6"/><path d="M353.27,107.86 C353.22,108.39 353.31,108.88 353.06,109.31 C352.81,109.73 352.22,110.40 351.79,110.41 C351.35,110.42 351.03,109.62 350.47,109.37 C349.91,109.12 348.78,109.35 348.43,108.92 C348.08,108.49 348.02,107.19 348.37,106.78 C348.72,106.37 349.93,106.83 350.52,106.45 C351.12,106.07 351.45,104.56 351.93,104.51 C352.40,104.46 353.14,105.60 353.37,106.16 C353.59,106.72 353.32,107.34 353.27,107.86Z" fill="none" stroke="#1f1f55" stroke-width="0.55" opacity="0.6"/><path d="M363.64,114.55 C363.67,115.63 363.65,117.10 363.03,117.88 C362.41,118.66 360.80,119.35 359.89,119.22 C358.99,119.09 358.27,117.68 357.60,117.09 C356.93,116.51 356.22,116.35 355.88,115.71 C355.54,115.08 355.40,114.11 355.56,113.28 C355.73,112.45 356.17,111.24 356.87,110.75 C357.58,110.27 358.81,110.26 359.81,110.37 C360.80,110.48 362.18,110.71 362.82,111.41 C363.45,112.11 363.60,113.47 363.64,114.55Z" fill="none" stroke="#1f1f55" stroke-width="0.55" opacity="0.6"/><path d="M344.73,110.95 C344.99,111.61 345.23,112.96 344.84,113.56 C344.44,114.16 343.16,114.50 342.36,114.55 C341.56,114.60 340.74,114.24 340.05,113.85 C339.36,113.46 338.30,112.84 338.21,112.23 C338.13,111.61 339.12,110.66 339.53,110.15 C339.95,109.64 340.29,109.39 340.71,109.19 C341.13,108.99 341.64,108.90 342.07,108.97 C342.51,109.04 342.87,109.28 343.32,109.61 C343.76,109.94 344.48,110.29 344.73,110.95Z" fill="none" stroke="#1f1f55" stroke-width="0.55" opacity="0.6"/><path d="M366.12,121.59 C366.48,122.56 367.50,124.27 367.11,125.43 C366.71,126.58 365.04,128.24 363.75,128.51 C362.46,128.78 360.17,127.98 359.38,127.04 C358.59,126.10 359.38,124.11 359.00,122.87 C358.62,121.63 356.86,120.43 357.10,119.61 C357.34,118.79 359.42,118.27 360.44,117.96 C361.46,117.66 362.45,117.52 363.20,117.78 C363.95,118.05 364.47,118.92 364.96,119.55 C365.44,120.18 365.76,120.61 366.12,121.59Z" fill="none" stroke="#1f1f55" stroke-width="0.55" opacity="0.6"/><path d="M332.15,117.95 C332.19,118.34 332.33,119.00 332.11,119.23 C331.89,119.45 331.25,119.21 330.82,119.30 C330.39,119.40 329.97,119.86 329.52,119.78 C329.08,119.71 328.31,119.26 328.15,118.83 C328.00,118.40 328.30,117.57 328.59,117.22 C328.88,116.88 329.52,116.85 329.89,116.75 C330.26,116.65 330.49,116.58 330.82,116.60 C331.15,116.62 331.63,116.66 331.85,116.88 C332.07,117.10 332.11,117.56 332.15,117.95Z" fill="none" stroke="#1f1f55" stroke-width="0.55" opacity="0.6"/><path d="M341.70,105.40 C341.45,106.21 341.68,106.65 341.37,107.21 C341.05,107.77 340.36,108.70 339.79,108.76 C339.22,108.82 338.44,107.99 337.94,107.57 C337.45,107.16 337.15,106.82 336.82,106.26 C336.48,105.70 335.93,105.03 335.94,104.21 C335.95,103.39 336.24,101.64 336.87,101.36 C337.50,101.08 338.70,102.39 339.70,102.55 C340.70,102.71 342.53,101.85 342.86,102.32 C343.19,102.80 341.95,104.58 341.70,105.40Z" fill="none" stroke="#1f1f55" stroke-width="0.55" opacity="0.6"/><path d="M358.59,112.25 C358.69,112.80 359.14,113.62 358.91,114.17 C358.67,114.71 357.86,115.35 357.20,115.52 C356.53,115.69 355.34,115.61 354.92,115.18 C354.51,114.76 354.83,113.57 354.72,112.94 C354.62,112.31 354.11,111.75 354.29,111.40 C354.47,111.05 355.35,111.06 355.81,110.84 C356.26,110.62 356.59,110.06 357.01,110.06 C357.42,110.06 358.04,110.47 358.31,110.83 C358.57,111.20 358.49,111.69 358.59,112.25Z" fill="none" stroke="#1f1f55" stroke-width="0.55" opacity="0.6"/><path d="M356.24,124.31 C356.17,125.55 356.42,126.91 355.81,127.83 C355.20,128.75 353.74,129.67 352.60,129.85 C351.45,130.04 350.03,129.54 348.94,128.95 C347.86,128.36 346.52,127.41 346.11,126.32 C345.69,125.24 346.00,123.56 346.47,122.44 C346.93,121.32 347.94,119.89 348.90,119.61 C349.87,119.33 351.03,120.60 352.25,120.74 C353.48,120.87 355.59,119.83 356.26,120.42 C356.92,121.02 356.32,123.08 356.24,124.31Z" fill="none" stroke="#1f1f55" stroke-width="0.55" opacity="0.6"/><path d="M343.22,107.09 C343.35,107.77 343.55,108.88 343.17,109.46 C342.80,110.03 341.59,110.65 340.96,110.53 C340.33,110.41 339.90,109.16 339.40,108.73 C338.90,108.31 338.12,108.36 337.94,107.97 C337.75,107.57 338.19,106.99 338.30,106.34 C338.41,105.70 338.20,104.42 338.62,104.09 C339.04,103.77 340.19,104.19 340.82,104.40 C341.46,104.61 342.02,104.90 342.42,105.35 C342.82,105.80 343.09,106.40 343.22,107.09Z" fill="none" stroke="#1f1f55" stroke-width="0.55" opacity="0.6"/><path d="M355.02,132.97 C355.06,133.69 353.45,134.53 352.75,135.20 C352.05,135.87 351.66,136.66 350.81,136.99 C349.95,137.33 348.22,137.72 347.65,137.21 C347.08,136.71 347.91,135.00 347.40,133.96 C346.88,132.91 344.34,131.52 344.56,130.96 C344.78,130.40 347.65,131.05 348.72,130.59 C349.78,130.12 350.31,128.09 350.95,128.14 C351.59,128.20 351.87,130.11 352.55,130.92 C353.23,131.72 354.99,132.26 355.02,132.97Z" fill="none" stroke="#1f1f55" stroke-width="0.55" opacity="0.6"/><path d="M326.35,138.09 C327.55,137.47 331.16,134.59 333.57,134.34 C335.97,134.09 338.38,135.76 340.78,136.59 C343.19,137.42 345.59,138.85 348.00,139.32 C350.41,139.79 352.81,139.63 355.22,139.39 C357.62,139.15 360.03,138.15 362.43,137.86 C364.84,137.57 368.45,137.70 369.65,137.66" fill="none" stroke="#1f1f55" stroke-width="0.55" opacity="0.55"/><path d="M326.35,132.47 C327.55,131.93 331.16,129.66 333.57,129.26 C335.97,128.86 338.38,129.69 340.78,130.07 C343.19,130.45 345.59,131.67 348.00,131.53 C350.41,131.39 352.81,130.00 355.22,129.23 C357.62,128.46 360.03,126.80 362.43,126.89 C364.84,126.99 368.45,129.31 369.65,129.79" fill="none" stroke="#1f1f55" stroke-width="0.55" opacity="0.55"/><path d="M326.35,117.24 C327.55,117.29 331.16,117.26 333.57,117.52 C335.97,117.77 338.38,119.64 340.78,118.78 C343.19,117.93 345.59,113.58 348.00,112.40 C350.41,111.22 352.81,110.61 355.22,111.71 C357.62,112.81 360.03,118.04 362.43,118.98 C364.84,119.93 368.45,117.64 369.65,117.37" fill="none" stroke="#1f1f55" stroke-width="0.55" opacity="0.55"/><path d="M326.35,140.49 C327.55,140.68 331.16,142.49 333.57,141.61 C335.97,140.73 338.38,136.25 340.78,135.22 C343.19,134.20 345.59,134.86 348.00,135.47 C350.41,136.08 352.81,138.12 355.22,138.88 C357.62,139.65 360.03,140.71 362.43,140.04 C364.84,139.38 368.45,135.78 369.65,134.92" fill="none" stroke="#1f1f55" stroke-width="0.55" opacity="0.55"/></g>
<circle cx="348.00" cy="120.75" r="21.20" fill="none" stroke="#0a0a0a" stroke-width="1.9"/>
</g>
<g transform="translate(405.85 120.75) scale(1 1.013) translate(-405.85 -120.75)">
<rect x="382.10" y="115.75" width="2.3" height="11.2" rx="0.9" fill="#1e1e44" stroke="#000" stroke-width="1.2"/>
<rect x="427.30" y="115.75" width="2.3" height="11.2" rx="0.9" fill="#1e1e44" stroke="#000" stroke-width="1.2"/>
<path d="M402.45,100.30 Q403.45,98.90 404.75,97.40 Q405.85,96.20 406.95,97.40 Q408.25,98.90 409.25,100.30" fill="#fff" stroke="#000" stroke-width="1.5" stroke-linejoin="round"/>
<circle cx="405.85" cy="120.75" r="22.75" fill="#8080c8" opacity="0.45"/>
<circle cx="405.85" cy="120.75" r="21.85" fill="#34346f"/>
<g clip-path="url(#tc14)"><path d="M393.93,118.47 C394.21,119.63 395.02,121.63 394.45,122.65 C393.89,123.67 391.89,124.43 390.56,124.61 C389.23,124.78 387.21,124.52 386.46,123.71 C385.70,122.90 386.03,120.80 386.02,119.73 C386.00,118.67 386.18,118.25 386.35,117.34 C386.52,116.42 386.34,115.13 387.05,114.27 C387.76,113.41 389.64,111.92 390.59,112.16 C391.54,112.40 392.21,114.66 392.77,115.71 C393.32,116.77 393.65,117.32 393.93,118.47Z" fill="none" stroke="#1f1f55" stroke-width="0.55" opacity="0.6"/><path d="M402.17,120.65 C402.09,121.69 399.88,122.43 398.96,123.57 C398.05,124.70 397.53,127.46 396.68,127.44 C395.83,127.41 395.05,124.20 393.88,123.42 C392.72,122.64 390.43,123.58 389.69,122.75 C388.95,121.93 388.79,119.32 389.46,118.45 C390.13,117.59 392.53,118.14 393.71,117.57 C394.88,116.99 395.52,115.03 396.48,114.99 C397.43,114.95 398.49,116.38 399.44,117.33 C400.39,118.27 402.25,119.61 402.17,120.65Z" fill="none" stroke="#1f1f55" stroke-width="0.55" opacity="0.6"/><path d="M418.91,118.41 C418.84,119.37 417.92,120.59 417.18,121.12 C416.45,121.65 415.26,121.66 414.51,121.58 C413.76,121.49 413.58,120.83 412.69,120.60 C411.79,120.36 409.50,120.74 409.13,120.16 C408.75,119.59 410.09,118.19 410.46,117.13 C410.82,116.08 410.64,114.04 411.30,113.81 C411.96,113.58 413.37,115.48 414.42,115.74 C415.47,116.00 416.84,114.91 417.59,115.36 C418.34,115.80 418.98,117.45 418.91,118.41Z" fill="none" stroke="#1f1f55" stroke-width="0.55" opacity="0.6"/><path d="M414.37,104.48 C414.33,104.77 413.83,104.88 413.61,105.25 C413.40,105.62 413.37,106.58 413.08,106.69 C412.79,106.80 412.33,106.13 411.87,105.91 C411.41,105.69 410.42,105.69 410.30,105.35 C410.17,105.02 410.91,104.38 411.12,103.91 C411.33,103.43 411.22,102.81 411.56,102.51 C411.89,102.21 412.74,101.93 413.11,102.10 C413.49,102.27 413.62,103.13 413.83,103.53 C414.03,103.93 414.41,104.19 414.37,104.48Z" fill="none" stroke="#1f1f55" stroke-width="0.55" opacity="0.6"/><path d="M392.31,114.46 C392.16,115.24 391.74,115.66 391.32,116.42 C390.90,117.18 390.40,118.92 389.78,119.00 C389.15,119.08 388.33,117.43 387.57,116.91 C386.80,116.38 385.54,116.48 385.16,115.85 C384.79,115.22 384.99,113.91 385.30,113.12 C385.61,112.32 386.33,111.28 387.02,111.07 C387.71,110.86 388.57,111.75 389.44,111.86 C390.30,111.97 391.74,111.31 392.22,111.74 C392.69,112.17 392.46,113.68 392.31,114.46Z" fill="none" stroke="#1f1f55" stroke-width="0.55" opacity="0.6"/><path d="M418.86,115.55 C418.85,116.25 417.91,117.21 417.31,117.62 C416.71,118.02 415.84,118.07 415.28,117.99 C414.71,117.91 414.57,117.34 413.92,117.14 C413.28,116.94 411.69,117.21 411.42,116.79 C411.16,116.37 412.02,115.27 412.35,114.64 C412.67,114.00 412.88,113.25 413.37,112.99 C413.86,112.74 414.60,113.04 415.28,113.11 C415.95,113.17 416.81,112.99 417.41,113.39 C418.01,113.80 418.88,114.84 418.86,115.55Z" fill="none" stroke="#1f1f55" stroke-width="0.55" opacity="0.6"/><path d="M407.39,110.60 C407.46,111.13 407.06,112.16 406.62,112.37 C406.17,112.58 405.26,111.84 404.72,111.86 C404.19,111.88 403.82,112.56 403.41,112.49 C403.00,112.41 402.38,111.84 402.26,111.41 C402.14,110.99 402.53,110.43 402.70,109.94 C402.87,109.45 402.89,108.82 403.27,108.46 C403.65,108.11 404.51,107.68 404.99,107.80 C405.48,107.91 405.81,108.70 406.21,109.16 C406.61,109.63 407.32,110.06 407.39,110.60Z" fill="none" stroke="#1f1f55" stroke-width="0.55" opacity="0.6"/><path d="M401.49,125.88 C401.51,126.26 401.23,126.74 400.97,127.08 C400.70,127.43 400.42,127.65 399.89,127.95 C399.36,128.25 398.29,129.07 397.79,128.89 C397.29,128.70 397.13,127.53 396.89,126.84 C396.64,126.14 396.20,125.40 396.34,124.71 C396.47,124.03 397.07,123.08 397.70,122.72 C398.33,122.35 399.59,122.18 400.12,122.52 C400.65,122.86 400.64,124.19 400.86,124.75 C401.09,125.31 401.48,125.49 401.49,125.88Z" fill="none" stroke="#1f1f55" stroke-width="0.55" opacity="0.6"/><path d="M416.77,118.24 C416.96,119.20 415.73,120.90 414.87,121.60 C414.01,122.31 412.53,122.58 411.61,122.46 C410.68,122.35 409.94,121.42 409.32,120.89 C408.71,120.37 408.49,120.04 407.94,119.30 C407.39,118.56 405.83,117.18 406.01,116.47 C406.19,115.76 408.07,115.53 409.01,115.04 C409.96,114.55 410.90,113.41 411.69,113.53 C412.48,113.66 412.91,115.02 413.75,115.81 C414.60,116.59 416.59,117.27 416.77,118.24Z" fill="none" stroke="#1f1f55" stroke-width="0.55" opacity="0.6"/><path d="M415.46,129.31 C415.54,130.12 414.78,131.21 414.16,131.94 C413.55,132.67 412.71,133.44 411.80,133.67 C410.88,133.91 409.53,133.82 408.69,133.35 C407.85,132.89 407.04,131.78 406.76,130.86 C406.48,129.94 406.80,128.99 407.00,127.84 C407.20,126.69 407.12,124.61 407.95,123.97 C408.77,123.33 411.00,123.49 411.96,124.00 C412.92,124.52 413.13,126.17 413.71,127.05 C414.30,127.93 415.39,128.49 415.46,129.31Z" fill="none" stroke="#1f1f55" stroke-width="0.55" opacity="0.6"/><path d="M404.49,128.02 C404.55,128.78 405.64,129.90 405.41,130.44 C405.18,130.99 403.83,131.27 403.10,131.29 C402.38,131.31 401.79,130.89 401.05,130.58 C400.31,130.27 398.82,130.02 398.64,129.44 C398.46,128.86 399.60,127.81 399.97,127.09 C400.34,126.37 400.31,125.66 400.85,125.13 C401.40,124.59 402.56,123.73 403.26,123.86 C403.96,123.99 404.84,125.21 405.04,125.91 C405.25,126.60 404.42,127.27 404.49,128.02Z" fill="none" stroke="#1f1f55" stroke-width="0.55" opacity="0.6"/><path d="M404.00,113.48 C403.77,114.66 401.89,115.65 400.93,116.45 C399.97,117.25 399.31,117.90 398.23,118.26 C397.14,118.61 395.45,119.06 394.44,118.58 C393.42,118.10 392.53,116.55 392.14,115.38 C391.76,114.21 391.60,112.48 392.13,111.56 C392.65,110.65 394.27,110.53 395.31,109.89 C396.36,109.25 397.23,107.82 398.40,107.74 C399.56,107.65 401.34,108.41 402.28,109.37 C403.21,110.32 404.22,112.29 404.00,113.48Z" fill="none" stroke="#1f1f55" stroke-width="0.55" opacity="0.6"/><path d="M410.47,108.47 C410.39,109.29 410.21,110.19 409.73,110.75 C409.25,111.30 408.23,111.87 407.60,111.80 C406.97,111.72 406.49,110.68 405.96,110.29 C405.42,109.89 404.96,110.00 404.38,109.42 C403.81,108.85 402.43,107.62 402.51,106.83 C402.58,106.04 403.99,104.98 404.84,104.70 C405.68,104.42 406.70,104.98 407.59,105.16 C408.48,105.34 409.71,105.25 410.18,105.80 C410.66,106.36 410.55,107.64 410.47,108.47Z" fill="none" stroke="#1f1f55" stroke-width="0.55" opacity="0.6"/><path d="M384.20,108.89 C385.40,109.22 389.01,110.31 391.42,110.89 C393.82,111.46 396.23,113.00 398.63,112.34 C401.04,111.69 403.44,107.27 405.85,106.97 C408.26,106.66 410.66,109.35 413.07,110.52 C415.47,111.69 417.88,113.81 420.28,114.00 C422.69,114.18 426.30,112.04 427.50,111.65" fill="none" stroke="#1f1f55" stroke-width="0.55" opacity="0.55"/><path d="M384.20,134.62 C385.40,135.70 389.01,140.11 391.42,141.10 C393.82,142.08 396.23,141.71 398.63,140.53 C401.04,139.35 403.44,134.44 405.85,134.04 C408.26,133.64 410.66,137.15 413.07,138.12 C415.47,139.10 417.88,140.32 420.28,139.90 C422.69,139.49 426.30,136.32 427.50,135.61" fill="none" stroke="#1f1f55" stroke-width="0.55" opacity="0.55"/><path d="M384.20,128.73 C385.40,128.65 389.01,128.84 391.42,128.27 C393.82,127.71 396.23,126.33 398.63,125.35 C401.04,124.37 403.44,122.24 405.85,122.39 C408.26,122.54 410.66,126.06 413.07,126.24 C415.47,126.41 417.88,123.43 420.28,123.43 C422.69,123.43 426.30,125.76 427.50,126.23" fill="none" stroke="#1f1f55" stroke-width="0.55" opacity="0.55"/><path d="M384.20,111.54 C385.40,111.80 389.01,112.48 391.42,113.11 C393.82,113.74 396.23,114.74 398.63,115.32 C401.04,115.90 403.44,117.12 405.85,116.57 C408.26,116.01 410.66,113.30 413.07,112.01 C415.47,110.72 417.88,108.36 420.28,108.82 C422.69,109.28 426.30,113.77 427.50,114.76" fill="none" stroke="#1f1f55" stroke-width="0.55" opacity="0.55"/></g>
<circle cx="405.85" cy="120.75" r="21.20" fill="none" stroke="#0a0a0a" stroke-width="1.9"/>
</g>
<g transform="translate(464.70 120.75) scale(1 1.013) translate(-464.70 -120.75)">
<rect x="440.95" y="115.75" width="2.3" height="11.2" rx="0.9" fill="#1e1e44" stroke="#000" stroke-width="1.2"/>
<rect x="486.15" y="115.75" width="2.3" height="11.2" rx="0.9" fill="#1e1e44" stroke="#000" stroke-width="1.2"/>
<path d="M461.30,100.30 Q462.30,98.90 463.60,97.40 Q464.70,96.20 465.80,97.40 Q467.10,98.90 468.10,100.30" fill="#fff" stroke="#000" stroke-width="1.5" stroke-linejoin="round"/>
<circle cx="464.70" cy="120.75" r="22.75" fill="#8080c8" opacity="0.45"/>
<circle cx="464.70" cy="120.75" r="21.85" fill="#34346f"/>
<g clip-path="url(#tc15)"><path d="M473.27,134.34 C473.32,134.94 473.57,135.78 473.27,136.28 C472.98,136.77 472.12,137.21 471.49,137.32 C470.86,137.43 470.02,137.26 469.47,136.93 C468.92,136.60 468.34,135.92 468.21,135.35 C468.07,134.77 468.39,134.02 468.65,133.50 C468.90,132.98 469.26,132.66 469.74,132.23 C470.23,131.79 471.04,130.82 471.57,130.89 C472.11,130.96 472.68,132.09 472.96,132.66 C473.25,133.24 473.22,133.74 473.27,134.34Z" fill="none" stroke="#1f1f55" stroke-width="0.55" opacity="0.6"/><path d="M464.05,106.21 C463.75,107.31 461.31,108.10 460.29,108.74 C459.27,109.39 458.96,109.67 457.96,110.10 C456.96,110.54 455.24,111.70 454.30,111.36 C453.35,111.01 452.39,109.10 452.28,108.03 C452.18,106.95 453.34,106.03 453.69,104.91 C454.05,103.78 453.63,102.11 454.41,101.26 C455.20,100.41 457.11,99.67 458.40,99.81 C459.69,99.96 461.19,101.06 462.13,102.13 C463.08,103.20 464.36,105.11 464.05,106.21Z" fill="none" stroke="#1f1f55" stroke-width="0.55" opacity="0.6"/><path d="M469.35,130.58 C469.33,130.90 468.27,131.14 467.91,131.49 C467.55,131.85 467.54,132.59 467.20,132.71 C466.86,132.83 466.26,132.45 465.89,132.21 C465.52,131.97 465.12,131.63 464.98,131.26 C464.85,130.88 464.96,130.39 465.08,129.95 C465.19,129.50 465.33,128.81 465.68,128.59 C466.03,128.38 466.78,128.48 467.17,128.64 C467.56,128.81 467.64,129.27 468.00,129.60 C468.37,129.92 469.36,130.27 469.35,130.58Z" fill="none" stroke="#1f1f55" stroke-width="0.55" opacity="0.6"/><path d="M477.98,129.15 C478.09,130.34 479.29,132.05 478.83,132.99 C478.37,133.94 476.33,134.92 475.25,134.82 C474.17,134.73 473.14,133.16 472.35,132.44 C471.56,131.72 471.12,131.40 470.50,130.51 C469.87,129.62 468.40,128.04 468.62,127.10 C468.83,126.16 470.69,125.31 471.77,124.86 C472.85,124.41 474.02,124.23 475.08,124.39 C476.15,124.56 477.70,125.06 478.18,125.85 C478.66,126.64 477.87,127.96 477.98,129.15Z" fill="none" stroke="#1f1f55" stroke-width="0.55" opacity="0.6"/><path d="M481.21,129.93 C481.32,130.58 480.32,131.34 479.78,132.15 C479.25,132.97 478.85,134.47 477.99,134.82 C477.13,135.17 475.41,134.84 474.62,134.26 C473.83,133.68 473.26,132.21 473.26,131.33 C473.26,130.46 474.21,129.66 474.62,129.01 C475.03,128.37 475.20,127.77 475.70,127.45 C476.20,127.13 477.05,126.97 477.63,127.10 C478.20,127.23 478.55,127.76 479.15,128.23 C479.74,128.70 481.11,129.27 481.21,129.93Z" fill="none" stroke="#1f1f55" stroke-width="0.55" opacity="0.6"/><path d="M460.00,109.86 C459.99,110.48 459.24,111.15 458.77,111.67 C458.30,112.19 457.78,112.80 457.16,112.96 C456.53,113.12 455.56,112.99 455.01,112.63 C454.46,112.28 454.00,111.47 453.86,110.86 C453.72,110.25 454.00,109.65 454.16,108.97 C454.32,108.29 454.38,106.94 454.84,106.79 C455.30,106.64 456.25,107.89 456.92,108.08 C457.59,108.28 458.35,107.67 458.86,107.97 C459.38,108.27 460.02,109.24 460.00,109.86Z" fill="none" stroke="#1f1f55" stroke-width="0.55" opacity="0.6"/><path d="M477.80,112.29 C477.86,113.20 478.14,114.53 477.65,115.18 C477.17,115.83 475.83,116.01 474.89,116.17 C473.95,116.32 472.99,116.45 471.99,116.12 C471.00,115.79 469.11,115.04 468.94,114.20 C468.77,113.37 470.44,112.03 470.97,111.11 C471.49,110.18 471.39,109.46 472.11,108.65 C472.83,107.84 474.41,106.05 475.28,106.22 C476.14,106.39 476.89,108.67 477.32,109.68 C477.74,110.69 477.74,111.37 477.80,112.29Z" fill="none" stroke="#1f1f55" stroke-width="0.55" opacity="0.6"/><path d="M479.93,133.81 C479.93,134.67 480.98,135.95 480.67,136.40 C480.36,136.84 478.81,136.53 478.06,136.50 C477.32,136.47 476.99,136.41 476.20,136.22 C475.41,136.03 473.77,136.00 473.33,135.36 C472.90,134.72 473.17,133.13 473.58,132.35 C473.99,131.58 475.02,131.10 475.80,130.71 C476.58,130.32 477.45,129.93 478.26,130.02 C479.06,130.11 480.36,130.62 480.64,131.25 C480.92,131.88 479.92,132.95 479.93,133.81Z" fill="none" stroke="#1f1f55" stroke-width="0.55" opacity="0.6"/><path d="M464.69,122.24 C464.82,123.07 463.19,124.34 462.38,125.04 C461.56,125.75 460.76,126.20 459.78,126.47 C458.81,126.73 457.35,127.07 456.51,126.62 C455.68,126.18 455.03,124.77 454.77,123.80 C454.52,122.82 454.76,121.89 454.97,120.76 C455.18,119.63 455.16,117.77 456.02,117.01 C456.87,116.25 459.18,115.68 460.11,116.19 C461.04,116.70 460.84,119.08 461.60,120.09 C462.37,121.10 464.56,121.42 464.69,122.24Z" fill="none" stroke="#1f1f55" stroke-width="0.55" opacity="0.6"/><path d="M478.69,135.14 C478.56,136.20 476.74,137.45 475.79,138.02 C474.83,138.58 474.09,138.05 472.96,138.54 C471.83,139.04 470.21,141.14 468.99,140.98 C467.76,140.82 466.06,138.94 465.61,137.59 C465.16,136.25 465.70,134.26 466.30,132.93 C466.89,131.61 467.96,130.48 469.18,129.64 C470.41,128.80 472.41,127.55 473.64,127.89 C474.86,128.22 475.69,130.43 476.53,131.64 C477.37,132.85 478.81,134.08 478.69,135.14Z" fill="none" stroke="#1f1f55" stroke-width="0.55" opacity="0.6"/><path d="M475.88,116.74 C475.90,117.24 475.45,117.87 475.08,118.29 C474.71,118.72 474.11,119.33 473.68,119.28 C473.25,119.23 472.84,118.34 472.50,118.01 C472.15,117.69 471.81,117.68 471.59,117.34 C471.36,117.00 470.98,116.28 471.14,115.98 C471.30,115.69 472.15,115.74 472.55,115.57 C472.95,115.40 473.14,115.02 473.54,114.97 C473.94,114.93 474.57,115.00 474.96,115.29 C475.35,115.59 475.86,116.24 475.88,116.74Z" fill="none" stroke="#1f1f55" stroke-width="0.55" opacity="0.6"/><path d="M482.12,114.72 C482.21,115.35 482.02,116.20 481.62,116.84 C481.23,117.48 480.57,118.25 479.77,118.56 C478.97,118.86 477.24,119.20 476.81,118.67 C476.39,118.14 477.53,116.31 477.23,115.40 C476.92,114.49 475.01,113.92 474.98,113.22 C474.95,112.52 476.32,111.29 477.07,111.20 C477.81,111.11 478.78,112.37 479.46,112.67 C480.13,112.97 480.67,112.69 481.11,113.03 C481.55,113.37 482.04,114.08 482.12,114.72Z" fill="none" stroke="#1f1f55" stroke-width="0.55" opacity="0.6"/><path d="M465.14,129.20 C465.12,129.81 465.76,130.59 465.54,130.96 C465.32,131.34 464.33,131.50 463.84,131.45 C463.35,131.39 463.16,130.83 462.62,130.63 C462.07,130.43 460.91,130.66 460.57,130.25 C460.23,129.84 460.26,128.61 460.58,128.16 C460.90,127.71 461.91,127.85 462.47,127.52 C463.04,127.20 463.43,126.25 463.97,126.21 C464.51,126.18 465.49,126.82 465.69,127.32 C465.88,127.82 465.17,128.59 465.14,129.20Z" fill="none" stroke="#1f1f55" stroke-width="0.55" opacity="0.6"/><path d="M443.05,118.50 C444.25,119.33 447.86,122.42 450.27,123.47 C452.67,124.52 455.08,124.56 457.48,124.79 C459.89,125.03 462.29,124.79 464.70,124.89 C467.11,124.99 469.51,126.36 471.92,125.40 C474.32,124.43 476.73,119.06 479.13,119.10 C481.54,119.13 485.15,124.52 486.35,125.60" fill="none" stroke="#1f1f55" stroke-width="0.55" opacity="0.55"/><path d="M443.05,105.58 C444.25,105.81 447.86,106.61 450.27,106.98 C452.67,107.35 455.08,107.79 457.48,107.78 C459.89,107.77 462.29,106.55 464.70,106.91 C467.11,107.26 469.51,109.60 471.92,109.93 C474.32,110.25 476.73,108.93 479.13,108.87 C481.54,108.80 485.15,109.43 486.35,109.54" fill="none" stroke="#1f1f55" stroke-width="0.55" opacity="0.55"/><path d="M443.05,126.52 C444.25,125.94 447.86,122.78 450.27,123.04 C452.67,123.29 455.08,126.83 457.48,128.05 C459.89,129.27 462.29,130.96 464.70,130.36 C467.11,129.75 469.51,124.31 471.92,124.39 C474.32,124.48 476.73,131.07 479.13,130.84 C481.54,130.61 485.15,124.32 486.35,123.01" fill="none" stroke="#1f1f55" stroke-width="0.55" opacity="0.55"/><path d="M443.05,119.19 C444.25,119.14 447.86,119.12 450.27,118.89 C452.67,118.66 455.08,118.38 457.48,117.80 C459.89,117.23 462.29,115.87 464.70,115.43 C467.11,114.99 469.51,115.34 471.92,115.16 C474.32,114.97 476.73,113.77 479.13,114.31 C481.54,114.84 485.15,117.67 486.35,118.35" fill="none" stroke="#1f1f55" stroke-width="0.55" opacity="0.55"/></g>
<circle cx="464.70" cy="120.75" r="21.20" fill="none" stroke="#0a0a0a" stroke-width="1.9"/>
</g>
<g transform="translate(523.45 120.75) scale(1 1.013) translate(-523.45 -120.75)">
<rect x="499.70" y="115.75" width="2.3" height="11.2" rx="0.9" fill="#1e1e44" stroke="#000" stroke-width="1.2"/>
<rect x="544.90" y="115.75" width="2.3" height="11.2" rx="0.9" fill="#1e1e44" stroke="#000" stroke-width="1.2"/>
<path d="M520.05,100.30 Q521.05,98.90 522.35,97.40 Q523.45,96.20 524.55,97.40 Q525.85,98.90 526.85,100.30" fill="#fff" stroke="#000" stroke-width="1.5" stroke-linejoin="round"/>
<circle cx="523.45" cy="120.75" r="22.75" fill="#8080c8" opacity="0.45"/>
<circle cx="523.45" cy="120.75" r="21.85" fill="#34346f"/>
<g clip-path="url(#tc16)"><path d="M520.00,106.13 C520.05,106.82 519.33,107.46 518.85,108.32 C518.38,109.17 517.84,111.17 517.15,111.25 C516.45,111.34 515.26,109.51 514.69,108.81 C514.12,108.11 513.94,107.66 513.73,107.04 C513.51,106.42 513.24,105.68 513.41,105.09 C513.58,104.51 514.17,103.87 514.74,103.52 C515.30,103.16 516.16,102.85 516.80,102.96 C517.44,103.07 518.03,103.65 518.57,104.18 C519.10,104.70 519.96,105.44 520.00,106.13Z" fill="none" stroke="#1f1f55" stroke-width="0.55" opacity="0.6"/><path d="M534.75,127.32 C534.69,127.86 533.82,128.45 533.36,128.77 C532.90,129.08 532.45,129.15 531.97,129.23 C531.50,129.31 531.05,129.41 530.51,129.27 C529.98,129.13 529.00,128.84 528.77,128.37 C528.54,127.89 528.93,127.08 529.11,126.40 C529.30,125.72 529.36,124.74 529.89,124.29 C530.41,123.84 531.63,123.50 532.27,123.71 C532.92,123.92 533.33,124.95 533.74,125.55 C534.16,126.16 534.82,126.79 534.75,127.32Z" fill="none" stroke="#1f1f55" stroke-width="0.55" opacity="0.6"/><path d="M540.40,129.93 C540.46,130.99 540.75,132.62 540.16,133.26 C539.57,133.89 538.03,133.40 536.86,133.73 C535.69,134.06 534.15,135.53 533.13,135.23 C532.11,134.93 531.10,133.13 530.72,131.92 C530.34,130.71 530.47,129.22 530.86,127.99 C531.25,126.75 532.06,124.77 533.06,124.50 C534.05,124.23 535.69,125.97 536.82,126.37 C537.95,126.76 539.24,126.27 539.84,126.87 C540.44,127.46 540.35,128.86 540.40,129.93Z" fill="none" stroke="#1f1f55" stroke-width="0.55" opacity="0.6"/><path d="M523.83,104.39 C523.88,105.11 524.58,106.32 524.26,106.68 C523.94,107.05 522.68,106.41 521.91,106.57 C521.14,106.73 520.01,107.91 519.64,107.66 C519.27,107.41 519.86,105.78 519.68,105.06 C519.51,104.34 518.55,103.89 518.59,103.32 C518.63,102.75 519.38,101.82 519.93,101.62 C520.49,101.43 521.25,102.05 521.92,102.16 C522.59,102.28 523.65,101.97 523.97,102.34 C524.29,102.71 523.78,103.66 523.83,104.39Z" fill="none" stroke="#1f1f55" stroke-width="0.55" opacity="0.6"/><path d="M518.88,120.75 C519.28,121.85 518.40,124.39 517.41,125.06 C516.43,125.73 514.10,125.02 512.98,124.76 C511.86,124.49 511.52,123.90 510.68,123.50 C509.84,123.09 508.23,122.98 507.94,122.32 C507.65,121.66 508.72,120.66 508.95,119.54 C509.17,118.41 508.62,116.07 509.29,115.59 C509.97,115.11 512.03,116.19 512.99,116.66 C513.95,117.14 514.04,117.75 515.02,118.43 C516.01,119.11 518.49,119.64 518.88,120.75Z" fill="none" stroke="#1f1f55" stroke-width="0.55" opacity="0.6"/><path d="M525.37,132.18 C525.48,132.90 524.49,133.77 523.91,134.62 C523.32,135.47 522.61,137.25 521.89,137.26 C521.16,137.27 520.25,135.32 519.55,134.67 C518.86,134.02 518.31,134.08 517.73,133.36 C517.16,132.65 516.02,131.38 516.11,130.40 C516.20,129.42 517.37,127.68 518.28,127.47 C519.18,127.26 520.70,128.68 521.53,129.15 C522.36,129.61 522.61,129.77 523.26,130.28 C523.90,130.78 525.26,131.45 525.37,132.18Z" fill="none" stroke="#1f1f55" stroke-width="0.55" opacity="0.6"/><path d="M510.32,120.21 C510.20,120.63 509.98,120.98 509.72,121.19 C509.46,121.39 509.07,121.40 508.77,121.43 C508.46,121.47 508.14,121.51 507.86,121.39 C507.59,121.28 507.27,121.04 507.10,120.73 C506.93,120.43 506.71,119.86 506.85,119.59 C506.98,119.31 507.57,119.33 507.91,119.10 C508.25,118.86 508.49,118.27 508.90,118.20 C509.32,118.12 510.17,118.31 510.41,118.65 C510.64,118.98 510.43,119.78 510.32,120.21Z" fill="none" stroke="#1f1f55" stroke-width="0.55" opacity="0.6"/><path d="M526.17,116.36 C525.76,117.25 524.13,117.37 523.47,118.00 C522.80,118.62 522.90,119.71 522.18,120.11 C521.46,120.52 520.17,120.74 519.16,120.44 C518.16,120.14 516.64,119.31 516.15,118.31 C515.66,117.31 515.69,115.40 516.22,114.43 C516.74,113.46 518.29,112.94 519.30,112.52 C520.31,112.10 521.20,111.90 522.30,111.93 C523.40,111.95 525.27,111.93 525.91,112.67 C526.56,113.41 526.57,115.47 526.17,116.36Z" fill="none" stroke="#1f1f55" stroke-width="0.55" opacity="0.6"/><path d="M529.14,133.48 C529.17,133.94 528.78,134.69 528.41,134.94 C528.04,135.20 527.35,135.04 526.94,135.02 C526.52,134.99 526.27,134.95 525.90,134.81 C525.53,134.67 524.98,134.55 524.72,134.19 C524.47,133.83 524.17,132.97 524.38,132.65 C524.58,132.32 525.51,132.38 525.95,132.24 C526.38,132.09 526.59,131.78 526.97,131.77 C527.35,131.75 527.87,131.88 528.23,132.16 C528.60,132.45 529.11,133.02 529.14,133.48Z" fill="none" stroke="#1f1f55" stroke-width="0.55" opacity="0.6"/><path d="M528.35,138.01 C528.25,139.16 526.93,140.38 526.05,141.22 C525.18,142.06 524.07,143.07 523.12,143.07 C522.18,143.07 521.23,141.82 520.38,141.23 C519.52,140.64 518.36,140.33 518.01,139.55 C517.65,138.78 517.92,137.46 518.26,136.57 C518.60,135.68 519.28,134.44 520.03,134.20 C520.78,133.96 521.64,135.12 522.74,135.14 C523.84,135.17 525.69,133.85 526.63,134.33 C527.56,134.80 528.44,136.87 528.35,138.01Z" fill="none" stroke="#1f1f55" stroke-width="0.55" opacity="0.6"/><path d="M535.79,131.03 C535.80,132.47 536.45,134.70 535.69,135.39 C534.93,136.09 532.52,135.19 531.23,135.20 C529.93,135.21 528.80,135.87 527.94,135.45 C527.08,135.02 526.32,133.64 526.04,132.65 C525.76,131.65 525.91,130.44 526.26,129.49 C526.61,128.54 527.29,127.53 528.14,126.96 C528.99,126.40 530.12,126.13 531.36,126.09 C532.60,126.06 534.87,125.92 535.60,126.74 C536.34,127.56 535.77,129.59 535.79,131.03Z" fill="none" stroke="#1f1f55" stroke-width="0.55" opacity="0.6"/><path d="M533.39,119.72 C533.44,120.53 532.71,121.83 532.06,122.28 C531.41,122.72 530.31,122.26 529.49,122.38 C528.66,122.51 527.77,123.25 527.12,123.01 C526.47,122.78 525.87,121.74 525.59,120.97 C525.31,120.20 525.24,119.29 525.43,118.42 C525.62,117.55 526.01,116.16 526.72,115.75 C527.43,115.34 528.84,115.68 529.68,115.96 C530.52,116.24 531.14,116.80 531.75,117.43 C532.37,118.05 533.33,118.91 533.39,119.72Z" fill="none" stroke="#1f1f55" stroke-width="0.55" opacity="0.6"/><path d="M525.17,138.73 C525.21,139.21 523.15,139.66 522.51,140.26 C521.87,140.86 521.91,142.12 521.32,142.35 C520.74,142.59 519.69,142.06 518.99,141.67 C518.29,141.28 517.35,140.71 517.12,140.03 C516.89,139.35 517.35,138.43 517.60,137.61 C517.84,136.78 517.96,135.46 518.58,135.07 C519.19,134.69 520.67,134.92 521.29,135.31 C521.91,135.69 521.63,136.83 522.27,137.40 C522.92,137.97 525.13,138.25 525.17,138.73Z" fill="none" stroke="#1f1f55" stroke-width="0.55" opacity="0.6"/><path d="M501.80,127.98 C503.00,127.49 506.61,124.88 509.02,125.04 C511.42,125.19 513.83,128.13 516.23,128.92 C518.64,129.71 521.04,130.37 523.45,129.76 C525.86,129.16 528.26,126.21 530.67,125.29 C533.07,124.38 535.48,124.25 537.88,124.26 C540.29,124.28 543.90,125.20 545.10,125.39" fill="none" stroke="#1f1f55" stroke-width="0.55" opacity="0.55"/><path d="M501.80,123.40 C503.00,122.91 506.61,120.42 509.02,120.43 C511.42,120.43 513.83,122.81 516.23,123.45 C518.64,124.08 521.04,124.06 523.45,124.23 C525.86,124.40 528.26,124.74 530.67,124.48 C533.07,124.22 535.48,122.41 537.88,122.68 C540.29,122.96 543.90,125.56 545.10,126.13" fill="none" stroke="#1f1f55" stroke-width="0.55" opacity="0.55"/><path d="M501.80,124.94 C503.00,125.06 506.61,124.76 509.02,125.65 C511.42,126.54 513.83,130.45 516.23,130.28 C518.64,130.11 521.04,125.28 523.45,124.64 C525.86,124.01 528.26,126.34 530.67,126.46 C533.07,126.57 535.48,125.13 537.88,125.31 C540.29,125.49 543.90,127.17 545.10,127.54" fill="none" stroke="#1f1f55" stroke-width="0.55" opacity="0.55"/><path d="M501.80,127.96 C503.00,128.05 506.61,128.58 509.02,128.50 C511.42,128.42 513.83,127.57 516.23,127.48 C518.64,127.40 521.04,127.37 523.45,127.98 C525.86,128.59 528.26,130.66 530.67,131.14 C533.07,131.62 535.48,130.32 537.88,130.89 C540.29,131.45 543.90,133.93 545.10,134.54" fill="none" stroke="#1f1f55" stroke-width="0.55" opacity="0.55"/></g>
<circle cx="523.45" cy="120.75" r="21.20" fill="none" stroke="#0a0a0a" stroke-width="1.9"/>
</g>
<g transform="translate(579.90 120.75) scale(1 1.013) translate(-579.90 -120.75)">
<rect x="556.15" y="115.75" width="2.3" height="11.2" rx="0.9" fill="#1e1e44" stroke="#000" stroke-width="1.2"/>
<rect x="601.35" y="115.75" width="2.3" height="11.2" rx="0.9" fill="#1e1e44" stroke="#000" stroke-width="1.2"/>
<path d="M576.50,100.30 Q577.50,98.90 578.80,97.40 Q579.90,96.20 581.00,97.40 Q582.30,98.90 583.30,100.30" fill="#fff" stroke="#000" stroke-width="1.5" stroke-linejoin="round"/>
<circle cx="579.90" cy="120.75" r="22.75" fill="#8080c8" opacity="0.45"/>
<circle cx="579.90" cy="120.75" r="21.85" fill="#34346f"/>
<g clip-path="url(#tc17)"><path d="M598.68,112.23 C598.33,113.33 596.29,113.80 595.41,114.64 C594.54,115.48 594.43,116.81 593.44,117.29 C592.45,117.78 590.56,118.05 589.47,117.55 C588.38,117.05 587.15,115.46 586.89,114.29 C586.63,113.12 587.27,111.39 587.93,110.55 C588.59,109.72 589.94,109.71 590.84,109.28 C591.73,108.85 592.18,108.19 593.29,107.99 C594.40,107.79 596.60,107.37 597.50,108.07 C598.40,108.78 599.03,111.14 598.68,112.23Z" fill="none" stroke="#1f1f55" stroke-width="0.55" opacity="0.6"/><path d="M593.28,127.03 C593.13,128.03 592.03,128.91 591.31,129.65 C590.59,130.40 590.08,130.92 588.97,131.50 C587.86,132.08 585.51,133.62 584.66,133.14 C583.80,132.66 584.04,129.91 583.85,128.61 C583.65,127.31 583.24,126.43 583.48,125.32 C583.71,124.21 584.28,122.76 585.26,121.96 C586.23,121.16 588.17,120.24 589.33,120.52 C590.50,120.80 591.57,122.55 592.23,123.64 C592.89,124.72 593.44,126.03 593.28,127.03Z" fill="none" stroke="#1f1f55" stroke-width="0.55" opacity="0.6"/><path d="M593.35,127.57 C593.25,127.97 593.31,128.14 593.16,128.51 C593.01,128.87 592.75,129.69 592.43,129.77 C592.12,129.84 591.66,129.20 591.25,128.96 C590.84,128.72 590.05,128.65 589.96,128.33 C589.87,128.02 590.49,127.41 590.72,127.09 C590.96,126.77 591.12,126.53 591.38,126.41 C591.63,126.30 591.86,126.45 592.25,126.40 C592.65,126.35 593.59,125.93 593.77,126.13 C593.95,126.33 593.45,127.18 593.35,127.57Z" fill="none" stroke="#1f1f55" stroke-width="0.55" opacity="0.6"/><path d="M587.00,114.07 C587.00,114.71 587.86,115.63 587.65,116.00 C587.44,116.37 586.29,116.34 585.75,116.29 C585.21,116.25 584.94,115.92 584.41,115.72 C583.88,115.52 582.84,115.54 582.55,115.10 C582.25,114.66 582.39,113.63 582.64,113.08 C582.90,112.54 583.57,112.00 584.08,111.85 C584.59,111.70 585.10,112.12 585.70,112.17 C586.29,112.22 587.42,111.84 587.64,112.16 C587.86,112.48 586.99,113.43 587.00,114.07Z" fill="none" stroke="#1f1f55" stroke-width="0.55" opacity="0.6"/><path d="M571.76,116.60 C571.85,117.19 571.37,118.14 570.91,118.60 C570.45,119.05 569.69,119.18 569.01,119.33 C568.33,119.48 567.32,119.82 566.84,119.51 C566.36,119.20 566.17,118.08 566.12,117.48 C566.07,116.87 566.28,116.26 566.54,115.88 C566.81,115.49 567.28,115.46 567.69,115.15 C568.10,114.84 568.53,114.04 568.98,114.02 C569.43,114.00 569.94,114.60 570.40,115.03 C570.86,115.46 571.68,116.00 571.76,116.60Z" fill="none" stroke="#1f1f55" stroke-width="0.55" opacity="0.6"/><path d="M566.40,127.88 C566.46,129.20 568.40,131.52 567.92,132.00 C567.44,132.49 564.80,130.68 563.52,130.79 C562.24,130.89 561.00,132.89 560.26,132.64 C559.52,132.40 559.53,130.43 559.08,129.31 C558.63,128.18 557.45,127.10 557.55,125.89 C557.65,124.69 558.61,122.59 559.67,122.09 C560.72,121.60 562.57,122.60 563.88,122.93 C565.20,123.26 567.14,123.24 567.56,124.06 C567.98,124.89 566.34,126.56 566.40,127.88Z" fill="none" stroke="#1f1f55" stroke-width="0.55" opacity="0.6"/><path d="M596.22,125.79 C596.23,126.19 595.87,126.79 595.55,127.03 C595.23,127.27 594.79,127.06 594.32,127.23 C593.85,127.41 593.01,128.26 592.73,128.10 C592.45,127.95 592.71,126.79 592.65,126.30 C592.59,125.81 592.26,125.47 592.37,125.17 C592.48,124.87 592.96,124.80 593.32,124.49 C593.67,124.18 594.14,123.28 594.50,123.30 C594.87,123.31 595.22,124.16 595.50,124.58 C595.79,124.99 596.21,125.38 596.22,125.79Z" fill="none" stroke="#1f1f55" stroke-width="0.55" opacity="0.6"/><path d="M585.44,121.58 C585.37,121.98 584.43,122.34 584.04,122.61 C583.64,122.87 583.55,122.92 583.10,123.18 C582.65,123.43 581.80,124.26 581.33,124.15 C580.87,124.03 580.35,123.03 580.31,122.50 C580.26,121.96 580.84,121.42 581.08,120.95 C581.31,120.48 581.36,119.86 581.71,119.66 C582.05,119.47 582.67,119.69 583.13,119.78 C583.59,119.87 584.07,119.91 584.46,120.21 C584.84,120.51 585.51,121.18 585.44,121.58Z" fill="none" stroke="#1f1f55" stroke-width="0.55" opacity="0.6"/><path d="M575.32,126.31 C575.24,126.84 575.23,127.24 574.98,127.68 C574.73,128.11 574.35,128.66 573.81,128.91 C573.26,129.16 572.21,129.45 571.69,129.18 C571.17,128.90 570.79,127.89 570.69,127.28 C570.58,126.66 570.75,125.86 571.07,125.48 C571.38,125.10 572.15,125.16 572.58,124.99 C573.02,124.81 573.19,124.52 573.68,124.44 C574.16,124.36 575.22,124.19 575.49,124.51 C575.77,124.82 575.41,125.78 575.32,126.31Z" fill="none" stroke="#1f1f55" stroke-width="0.55" opacity="0.6"/><path d="M570.21,130.26 C569.89,131.52 570.01,132.51 569.41,133.22 C568.82,133.93 567.72,134.17 566.64,134.53 C565.56,134.88 563.62,135.88 562.94,135.37 C562.27,134.86 562.77,132.55 562.59,131.46 C562.42,130.37 561.92,129.99 561.90,128.81 C561.89,127.64 561.73,124.96 562.52,124.44 C563.32,123.92 565.23,125.49 566.69,125.70 C568.16,125.91 570.74,124.94 571.33,125.70 C571.92,126.46 570.53,129.01 570.21,130.26Z" fill="none" stroke="#1f1f55" stroke-width="0.55" opacity="0.6"/><path d="M568.93,130.99 C568.79,131.91 569.72,132.95 569.40,133.39 C569.08,133.83 567.87,133.38 567.01,133.65 C566.14,133.93 564.91,135.26 564.20,135.05 C563.48,134.84 562.88,133.27 562.71,132.39 C562.54,131.51 562.92,130.67 563.16,129.76 C563.41,128.85 563.52,127.32 564.19,126.92 C564.86,126.53 566.16,127.24 567.17,127.40 C568.18,127.57 569.94,127.30 570.23,127.89 C570.53,128.49 569.06,130.08 568.93,130.99Z" fill="none" stroke="#1f1f55" stroke-width="0.55" opacity="0.6"/><path d="M581.88,113.15 C581.74,113.69 580.20,113.76 579.70,114.42 C579.20,115.07 579.29,117.04 578.89,117.09 C578.49,117.15 577.94,115.20 577.28,114.74 C576.62,114.28 575.28,114.78 574.94,114.34 C574.60,113.90 574.90,112.66 575.22,112.07 C575.54,111.49 576.27,111.17 576.86,110.84 C577.44,110.51 578.12,110.02 578.74,110.08 C579.35,110.14 580.03,110.66 580.55,111.18 C581.08,111.69 582.02,112.61 581.88,113.15Z" fill="none" stroke="#1f1f55" stroke-width="0.55" opacity="0.6"/><path d="M575.90,128.30 C576.06,128.72 575.98,129.67 575.66,129.97 C575.34,130.26 574.53,129.97 573.98,130.06 C573.44,130.16 572.73,130.70 572.40,130.51 C572.06,130.33 572.00,129.39 571.96,128.93 C571.93,128.47 572.10,128.22 572.18,127.76 C572.26,127.30 572.12,126.52 572.44,126.17 C572.77,125.83 573.76,125.47 574.14,125.68 C574.51,125.89 574.40,127.01 574.70,127.44 C574.99,127.88 575.74,127.88 575.90,128.30Z" fill="none" stroke="#1f1f55" stroke-width="0.55" opacity="0.6"/><path d="M558.25,132.17 C559.45,132.77 563.06,135.84 565.47,135.81 C567.87,135.77 570.28,131.67 572.68,131.96 C575.09,132.24 577.49,137.48 579.90,137.53 C582.31,137.59 584.71,133.35 587.12,132.31 C589.52,131.26 591.93,131.64 594.33,131.26 C596.74,130.89 600.35,130.24 601.55,130.03" fill="none" stroke="#1f1f55" stroke-width="0.55" opacity="0.55"/><path d="M558.25,104.83 C559.45,105.80 563.06,110.76 565.47,110.66 C567.87,110.57 570.28,105.20 572.68,104.26 C575.09,103.33 577.49,104.75 579.90,105.05 C582.31,105.34 584.71,105.99 587.12,106.02 C589.52,106.05 591.93,104.52 594.33,105.24 C596.74,105.95 600.35,109.46 601.55,110.31" fill="none" stroke="#1f1f55" stroke-width="0.55" opacity="0.55"/><path d="M558.25,105.11 C559.45,104.67 563.06,103.17 565.47,102.46 C567.87,101.75 570.28,100.99 572.68,100.83 C575.09,100.67 577.49,100.99 579.90,101.50 C582.31,102.01 584.71,103.85 587.12,103.87 C589.52,103.90 591.93,101.82 594.33,101.64 C596.74,101.46 600.35,102.60 601.55,102.79" fill="none" stroke="#1f1f55" stroke-width="0.55" opacity="0.55"/><path d="M558.25,117.16 C559.45,117.39 563.06,118.82 565.47,118.49 C567.87,118.17 570.28,115.32 572.68,115.20 C575.09,115.08 577.49,117.18 579.90,117.75 C582.31,118.31 584.71,119.01 587.12,118.59 C589.52,118.18 591.93,115.18 594.33,115.25 C596.74,115.31 600.35,118.36 601.55,118.99" fill="none" stroke="#1f1f55" stroke-width="0.55" opacity="0.55"/></g>
<circle cx="579.90" cy="120.75" r="21.20" fill="none" stroke="#0a0a0a" stroke-width="1.9"/>
</g>
<defs><filter id="hblur" x="-5%" y="-20%" width="110%" height="140%"><feGaussianBlur stdDeviation="0.18"/></filter></defs>
<rect x="30.8" y="179.90" width="598.9" height="90.40" fill="#e3ea57"/>
<g filter="url(#hblur)"><rect x="116.25" y="182.20" width="10.70" height="1.2" fill="#5cc6cf"/><rect x="126.95" y="182.20" width="10.70" height="1.2" fill="#5cc6cf"/><rect x="137.65" y="182.20" width="10.70" height="1.2" fill="#5cc6cf"/><rect x="148.35" y="182.05" width="10.70" height="1.5" fill="#4d70d2"/><rect x="159.05" y="182.05" width="10.70" height="1.5" fill="#4d70d2"/><rect x="169.75" y="182.15" width="10.70" height="1.3" fill="#6f97b6"/><rect x="180.45" y="182.20" width="10.70" height="1.2" fill="#5cc6cf"/><rect x="73.45" y="182.95" width="10.70" height="1.1" fill="#a3db77"/><rect x="84.15" y="182.95" width="10.70" height="1.1" fill="#c9c253"/><rect x="94.85" y="182.90" width="10.70" height="1.2" fill="#5cc6cf"/><rect x="105.55" y="182.90" width="10.70" height="1.2" fill="#5cc6cf"/><rect x="116.25" y="183.25" width="10.70" height="1.1" fill="#a3db77"/><rect x="137.65" y="183.25" width="10.70" height="1.1" fill="#a3db77"/><rect x="62.75" y="187.70" width="10.70" height="1.0" fill="#e3a445"/><rect x="73.45" y="187.55" width="10.70" height="1.3" fill="#6f97b6"/><rect x="84.15" y="187.60" width="10.70" height="1.2" fill="#5cc6cf"/><rect x="94.85" y="187.40" width="10.70" height="1.6" fill="#4242b4"/><rect x="105.55" y="187.45" width="10.70" height="1.5" fill="#4d70d2"/><rect x="116.25" y="187.45" width="10.70" height="1.5" fill="#4d70d2"/><rect x="126.95" y="187.45" width="10.70" height="1.5" fill="#4d70d2"/><rect x="137.65" y="187.45" width="10.70" height="1.5" fill="#4d70d2"/><rect x="148.35" y="187.45" width="10.70" height="1.5" fill="#4d70d2"/><rect x="159.05" y="187.55" width="10.70" height="1.3" fill="#6f97b6"/><rect x="169.75" y="187.45" width="10.70" height="1.5" fill="#4d70d2"/><rect x="180.45" y="187.45" width="10.70" height="1.5" fill="#4d70d2"/><rect x="116.25" y="188.40" width="10.70" height="1.2" fill="#5cc6cf"/><rect x="126.95" y="188.45" width="10.70" height="1.1" fill="#a3db77"/><rect x="137.65" y="192.00" width="10.70" height="1.2" fill="#5cc6cf"/><rect x="148.35" y="192.10" width="10.70" height="1.0" fill="#e3a445"/><rect x="159.05" y="192.05" width="10.70" height="1.1" fill="#c9c253"/><rect x="62.75" y="192.75" width="10.70" height="1.1" fill="#a3db77"/><rect x="73.45" y="192.70" width="10.70" height="1.2" fill="#5cc6cf"/><rect x="84.15" y="192.65" width="10.70" height="1.3" fill="#6f97b6"/><rect x="94.85" y="192.50" width="10.70" height="1.6" fill="#4242b4"/><rect x="105.55" y="192.50" width="10.70" height="1.6" fill="#4242b4"/><rect x="116.25" y="192.50" width="10.70" height="1.6" fill="#4242b4"/><rect x="126.95" y="192.55" width="10.70" height="1.5" fill="#4d70d2"/><rect x="137.65" y="192.75" width="10.70" height="1.1" fill="#a3db77"/><rect x="148.35" y="192.50" width="10.70" height="1.6" fill="#4242b4"/><rect x="159.05" y="192.55" width="10.70" height="1.5" fill="#4d70d2"/><rect x="169.75" y="192.55" width="10.70" height="1.5" fill="#4d70d2"/><rect x="180.45" y="192.65" width="10.70" height="1.3" fill="#6f97b6"/><rect x="73.45" y="195.75" width="10.70" height="1.1" fill="#a3db77"/><rect x="84.15" y="195.75" width="10.70" height="1.1" fill="#a3db77"/><rect x="94.85" y="195.65" width="10.70" height="1.3" fill="#6f97b6"/><rect x="105.55" y="195.65" width="10.70" height="1.3" fill="#6f97b6"/><rect x="116.25" y="195.55" width="10.70" height="1.5" fill="#4d70d2"/><rect x="126.95" y="195.55" width="10.70" height="1.5" fill="#4d70d2"/><rect x="137.65" y="195.75" width="10.70" height="1.1" fill="#a3db77"/><rect x="148.35" y="195.75" width="10.70" height="1.1" fill="#c9c253"/><rect x="159.05" y="195.65" width="10.70" height="1.3" fill="#6f97b6"/><rect x="169.75" y="195.70" width="10.70" height="1.2" fill="#5cc6cf"/><rect x="180.45" y="195.75" width="10.70" height="1.1" fill="#c9c253"/><rect x="180.45" y="195.75" width="10.70" height="1.1" fill="#c9c253"/><rect x="94.85" y="198.00" width="10.70" height="1.2" fill="#5cc6cf"/><rect x="105.55" y="198.00" width="10.70" height="1.2" fill="#5cc6cf"/><rect x="116.25" y="198.75" width="10.70" height="1.5" fill="#4d70d2"/><rect x="126.95" y="198.90" width="10.70" height="1.2" fill="#5cc6cf"/><rect x="137.65" y="199.00" width="10.70" height="1.0" fill="#e3a445"/><rect x="148.35" y="198.90" width="10.70" height="1.2" fill="#5cc6cf"/><rect x="159.05" y="198.75" width="10.70" height="1.5" fill="#4d70d2"/><rect x="169.75" y="198.75" width="10.70" height="1.5" fill="#4d70d2"/><rect x="180.45" y="199.00" width="10.70" height="1.0" fill="#e3a445"/><rect x="73.45" y="199.80" width="10.70" height="1.0" fill="#e3a445"/><rect x="84.15" y="199.75" width="10.70" height="1.1" fill="#c9c253"/><rect x="94.85" y="199.55" width="10.70" height="1.5" fill="#4d70d2"/><rect x="105.55" y="199.55" width="10.70" height="1.5" fill="#4d70d2"/><rect x="180.45" y="199.70" width="10.70" height="1.2" fill="#5cc6cf"/><rect x="116.25" y="200.30" width="10.70" height="1.2" fill="#5cc6cf"/><rect x="126.95" y="200.30" width="10.70" height="1.2" fill="#5cc6cf"/><rect x="137.65" y="200.35" width="10.70" height="1.1" fill="#c9c253"/><rect x="148.35" y="200.35" width="10.70" height="1.1" fill="#a3db77"/><rect x="159.05" y="200.30" width="10.70" height="1.2" fill="#5cc6cf"/><rect x="169.75" y="200.35" width="10.70" height="1.1" fill="#c9c253"/><rect x="180.45" y="200.35" width="10.70" height="1.1" fill="#a3db77"/><rect x="52.05" y="202.65" width="10.70" height="1.1" fill="#c9c253"/><rect x="84.15" y="202.65" width="10.70" height="1.1" fill="#c9c253"/><rect x="94.85" y="202.70" width="10.70" height="1.0" fill="#e3a445"/><rect x="105.55" y="202.65" width="10.70" height="1.1" fill="#a3db77"/><rect x="116.25" y="203.35" width="10.70" height="1.1" fill="#a3db77"/><rect x="126.95" y="203.35" width="10.70" height="1.1" fill="#a3db77"/><rect x="137.65" y="203.40" width="10.70" height="1.0" fill="#e3a445"/><rect x="148.35" y="203.35" width="10.70" height="1.1" fill="#a3db77"/><rect x="159.05" y="203.35" width="10.70" height="1.1" fill="#c9c253"/><rect x="169.75" y="203.15" width="10.70" height="1.5" fill="#4d70d2"/><rect x="180.45" y="203.35" width="10.70" height="1.1" fill="#c9c253"/><rect x="191.15" y="203.35" width="10.70" height="1.1" fill="#c9c253"/><rect x="94.85" y="204.55" width="10.70" height="1.1" fill="#a3db77"/><rect x="105.55" y="204.55" width="10.70" height="1.1" fill="#c9c253"/><rect x="116.25" y="204.50" width="10.70" height="1.2" fill="#5cc6cf"/><rect x="126.95" y="204.50" width="10.70" height="1.2" fill="#5cc6cf"/><rect x="137.65" y="204.55" width="10.70" height="1.1" fill="#c9c253"/><rect x="148.35" y="204.50" width="10.70" height="1.2" fill="#5cc6cf"/><rect x="159.05" y="204.50" width="10.70" height="1.2" fill="#5cc6cf"/><rect x="169.75" y="204.55" width="10.70" height="1.1" fill="#a3db77"/><rect x="180.45" y="204.45" width="10.70" height="1.3" fill="#6f97b6"/><rect x="84.15" y="206.45" width="10.70" height="1.1" fill="#a3db77"/><rect x="94.85" y="206.50" width="10.70" height="1.0" fill="#e3a445"/><rect x="105.55" y="206.35" width="10.70" height="1.3" fill="#6f97b6"/><rect x="84.15" y="208.00" width="10.70" height="1.2" fill="#5cc6cf"/><rect x="94.85" y="207.85" width="10.70" height="1.5" fill="#4d70d2"/><rect x="105.55" y="207.95" width="10.70" height="1.3" fill="#6f97b6"/><rect x="116.25" y="207.85" width="10.70" height="1.5" fill="#4d70d2"/><rect x="126.95" y="207.80" width="10.70" height="1.6" fill="#4242b4"/><rect x="137.65" y="207.85" width="10.70" height="1.5" fill="#4d70d2"/><rect x="148.35" y="207.85" width="10.70" height="1.5" fill="#4d70d2"/><rect x="159.05" y="207.95" width="10.70" height="1.3" fill="#6f97b6"/><rect x="169.75" y="208.00" width="10.70" height="1.2" fill="#5cc6cf"/><rect x="116.25" y="209.55" width="10.70" height="1.1" fill="#a3db77"/><rect x="126.95" y="209.50" width="10.70" height="1.2" fill="#5cc6cf"/><rect x="137.65" y="209.50" width="10.70" height="1.2" fill="#5cc6cf"/><rect x="148.35" y="209.55" width="10.70" height="1.1" fill="#a3db77"/><rect x="159.05" y="209.55" width="10.70" height="1.1" fill="#a3db77"/><rect x="31.60" y="210.35" width="9.75" height="1.5" fill="#4d70d2"/><rect x="41.35" y="210.30" width="10.70" height="1.6" fill="#4242b4"/><rect x="52.05" y="210.50" width="10.70" height="1.2" fill="#5cc6cf"/><rect x="73.45" y="210.50" width="10.70" height="1.2" fill="#5cc6cf"/><rect x="84.15" y="210.45" width="10.70" height="1.3" fill="#6f97b6"/><rect x="94.85" y="210.35" width="10.70" height="1.5" fill="#4d70d2"/><rect x="105.55" y="210.35" width="10.70" height="1.5" fill="#4d70d2"/><rect x="116.25" y="211.00" width="10.70" height="1.6" fill="#4242b4"/><rect x="126.95" y="211.00" width="10.70" height="1.6" fill="#4242b4"/><rect x="137.65" y="211.00" width="10.70" height="1.6" fill="#4242b4"/><rect x="148.35" y="211.05" width="10.70" height="1.5" fill="#4d70d2"/><rect x="159.05" y="211.20" width="10.70" height="1.2" fill="#5cc6cf"/><rect x="84.15" y="212.05" width="10.70" height="1.1" fill="#c9c253"/><rect x="94.85" y="212.05" width="10.70" height="1.1" fill="#c9c253"/><rect x="105.55" y="212.05" width="10.70" height="1.1" fill="#a3db77"/><rect x="116.25" y="212.85" width="10.70" height="1.1" fill="#c9c253"/><rect x="126.95" y="212.85" width="10.70" height="1.1" fill="#c9c253"/><rect x="137.65" y="212.85" width="10.70" height="1.1" fill="#c9c253"/><rect x="148.35" y="212.80" width="10.70" height="1.2" fill="#5cc6cf"/><rect x="159.05" y="212.80" width="10.70" height="1.2" fill="#5cc6cf"/><rect x="84.15" y="213.40" width="10.70" height="1.2" fill="#5cc6cf"/><rect x="94.85" y="213.50" width="10.70" height="1.0" fill="#e3a445"/><rect x="105.55" y="213.20" width="10.70" height="1.6" fill="#4242b4"/><rect x="31.60" y="214.65" width="9.75" height="1.1" fill="#c9c253"/><rect x="41.35" y="214.55" width="10.70" height="1.3" fill="#6f97b6"/><rect x="73.45" y="214.65" width="10.70" height="1.1" fill="#a3db77"/><rect x="84.15" y="214.55" width="10.70" height="1.3" fill="#6f97b6"/><rect x="94.85" y="214.60" width="10.70" height="1.2" fill="#5cc6cf"/><rect x="116.25" y="215.10" width="10.70" height="1.6" fill="#4242b4"/><rect x="126.95" y="215.10" width="10.70" height="1.6" fill="#4242b4"/><rect x="137.65" y="215.10" width="10.70" height="1.6" fill="#4242b4"/><rect x="148.35" y="215.10" width="10.70" height="1.6" fill="#4242b4"/><rect x="159.05" y="215.15" width="10.70" height="1.5" fill="#4d70d2"/><rect x="169.75" y="215.30" width="10.70" height="1.2" fill="#5cc6cf"/><rect x="84.15" y="216.00" width="10.70" height="1.0" fill="#e3a445"/><rect x="94.85" y="215.75" width="10.70" height="1.5" fill="#4d70d2"/><rect x="105.55" y="215.70" width="10.70" height="1.6" fill="#4242b4"/><rect x="116.25" y="217.15" width="10.70" height="1.1" fill="#a3db77"/><rect x="126.95" y="217.15" width="10.70" height="1.1" fill="#a3db77"/><rect x="137.65" y="217.15" width="10.70" height="1.1" fill="#a3db77"/><rect x="148.35" y="217.15" width="10.70" height="1.1" fill="#a3db77"/><rect x="159.05" y="217.15" width="10.70" height="1.1" fill="#c9c253"/><rect x="31.60" y="219.25" width="9.75" height="1.3" fill="#6f97b6"/><rect x="41.35" y="219.40" width="10.70" height="1.0" fill="#e3a445"/><rect x="94.85" y="219.80" width="10.70" height="1.0" fill="#e3a445"/><rect x="105.55" y="219.55" width="10.70" height="1.5" fill="#4d70d2"/><rect x="116.25" y="219.50" width="10.70" height="1.6" fill="#4242b4"/><rect x="126.95" y="219.50" width="10.70" height="1.6" fill="#4242b4"/><rect x="137.65" y="219.55" width="10.70" height="1.5" fill="#4d70d2"/><rect x="148.35" y="219.50" width="10.70" height="1.6" fill="#4242b4"/><rect x="159.05" y="219.65" width="10.70" height="1.3" fill="#6f97b6"/><rect x="169.75" y="219.65" width="10.70" height="1.3" fill="#6f97b6"/><rect x="180.45" y="219.70" width="10.70" height="1.2" fill="#5cc6cf"/><rect x="180.45" y="220.80" width="10.70" height="1.2" fill="#5cc6cf"/><rect x="105.55" y="221.30" width="10.70" height="1.6" fill="#4242b4"/><rect x="116.25" y="221.50" width="10.70" height="1.2" fill="#5cc6cf"/><rect x="126.95" y="221.50" width="10.70" height="1.2" fill="#5cc6cf"/><rect x="137.65" y="221.55" width="10.70" height="1.1" fill="#c9c253"/><rect x="148.35" y="221.50" width="10.70" height="1.2" fill="#5cc6cf"/><rect x="159.05" y="221.55" width="10.70" height="1.1" fill="#a3db77"/><rect x="31.60" y="224.05" width="9.75" height="1.1" fill="#a3db77"/><rect x="94.85" y="224.10" width="10.70" height="1.0" fill="#e3a445"/><rect x="105.55" y="223.85" width="10.70" height="1.5" fill="#4d70d2"/><rect x="116.25" y="223.80" width="10.70" height="1.6" fill="#4242b4"/><rect x="126.95" y="223.80" width="10.70" height="1.6" fill="#4242b4"/><rect x="137.65" y="223.80" width="10.70" height="1.6" fill="#4242b4"/><rect x="148.35" y="223.80" width="10.70" height="1.6" fill="#4242b4"/><rect x="159.05" y="223.85" width="10.70" height="1.5" fill="#4d70d2"/><rect x="169.75" y="224.00" width="10.70" height="1.2" fill="#5cc6cf"/><rect x="105.55" y="225.40" width="10.70" height="1.0" fill="#e3a445"/><rect x="116.25" y="225.15" width="10.70" height="1.5" fill="#4d70d2"/><rect x="126.95" y="225.10" width="10.70" height="1.6" fill="#4242b4"/><rect x="137.65" y="225.10" width="10.70" height="1.6" fill="#4242b4"/><rect x="148.35" y="225.10" width="10.70" height="1.6" fill="#4242b4"/><rect x="159.05" y="225.25" width="10.70" height="1.3" fill="#6f97b6"/><rect x="169.75" y="225.15" width="10.70" height="1.5" fill="#4d70d2"/><rect x="180.45" y="225.35" width="10.70" height="1.1" fill="#a3db77"/><rect x="180.45" y="225.55" width="10.70" height="1.1" fill="#a3db77"/><rect x="116.25" y="226.90" width="10.70" height="1.2" fill="#5cc6cf"/><rect x="126.95" y="226.95" width="10.70" height="1.1" fill="#c9c253"/><rect x="137.65" y="226.90" width="10.70" height="1.2" fill="#5cc6cf"/><rect x="148.35" y="226.95" width="10.70" height="1.1" fill="#a3db77"/><rect x="159.05" y="226.90" width="10.70" height="1.2" fill="#5cc6cf"/><rect x="169.75" y="227.00" width="10.70" height="1.0" fill="#e3a445"/><rect x="116.25" y="228.20" width="10.70" height="1.6" fill="#4242b4"/><rect x="126.95" y="228.20" width="10.70" height="1.6" fill="#4242b4"/><rect x="137.65" y="228.25" width="10.70" height="1.5" fill="#4d70d2"/><rect x="148.35" y="228.25" width="10.70" height="1.5" fill="#4d70d2"/><rect x="159.05" y="228.45" width="10.70" height="1.1" fill="#c9c253"/><rect x="169.75" y="228.25" width="10.70" height="1.5" fill="#4d70d2"/><rect x="180.45" y="228.45" width="10.70" height="1.1" fill="#c9c253"/><rect x="180.45" y="229.65" width="10.70" height="1.1" fill="#c9c253"/><rect x="159.05" y="229.65" width="10.70" height="1.1" fill="#c9c253"/><rect x="116.25" y="230.80" width="10.70" height="1.0" fill="#e3a445"/><rect x="126.95" y="230.70" width="10.70" height="1.2" fill="#5cc6cf"/><rect x="137.65" y="230.75" width="10.70" height="1.1" fill="#a3db77"/><rect x="148.35" y="230.55" width="10.70" height="1.5" fill="#4d70d2"/><rect x="159.05" y="230.75" width="10.70" height="1.1" fill="#c9c253"/><rect x="169.75" y="230.70" width="10.70" height="1.2" fill="#5cc6cf"/><rect x="180.45" y="230.75" width="10.70" height="1.1" fill="#c9c253"/><rect x="126.95" y="232.05" width="10.70" height="1.5" fill="#4d70d2"/><rect x="137.65" y="232.05" width="10.70" height="1.5" fill="#4d70d2"/><rect x="148.35" y="232.05" width="10.70" height="1.5" fill="#4d70d2"/><rect x="159.05" y="232.05" width="10.70" height="1.5" fill="#4d70d2"/><rect x="169.75" y="232.15" width="10.70" height="1.3" fill="#6f97b6"/><rect x="180.45" y="232.05" width="10.70" height="1.5" fill="#4d70d2"/><rect x="191.15" y="232.20" width="10.70" height="1.2" fill="#5cc6cf"/><rect x="126.95" y="233.75" width="10.70" height="1.1" fill="#a3db77"/><rect x="137.65" y="233.70" width="10.70" height="1.2" fill="#5cc6cf"/><rect x="148.35" y="233.65" width="10.70" height="1.3" fill="#6f97b6"/><rect x="73.45" y="234.70" width="10.70" height="1.2" fill="#5cc6cf"/><rect x="94.85" y="235.75" width="10.70" height="1.1" fill="#c9c253"/><rect x="137.65" y="235.80" width="10.70" height="1.0" fill="#e3a445"/><rect x="148.35" y="235.75" width="10.70" height="1.1" fill="#c9c253"/><rect x="148.35" y="237.10" width="10.70" height="1.0" fill="#e3a445"/><rect x="105.55" y="237.85" width="10.70" height="1.1" fill="#c9c253"/><rect x="116.25" y="237.80" width="10.70" height="1.2" fill="#5cc6cf"/><rect x="126.95" y="237.65" width="10.70" height="1.5" fill="#4d70d2"/><rect x="137.65" y="237.65" width="10.70" height="1.5" fill="#4d70d2"/><rect x="148.35" y="237.65" width="10.70" height="1.5" fill="#4d70d2"/><rect x="159.05" y="237.65" width="10.70" height="1.5" fill="#4d70d2"/><rect x="169.75" y="237.65" width="10.70" height="1.5" fill="#4d70d2"/><rect x="180.45" y="237.65" width="10.70" height="1.5" fill="#4d70d2"/><rect x="191.15" y="237.80" width="10.70" height="1.2" fill="#5cc6cf"/><rect x="94.85" y="239.15" width="10.70" height="1.1" fill="#a3db77"/><rect x="105.55" y="239.05" width="10.70" height="1.3" fill="#6f97b6"/><rect x="116.25" y="239.75" width="10.70" height="1.1" fill="#c9c253"/><rect x="126.95" y="239.75" width="10.70" height="1.1" fill="#c9c253"/><rect x="137.65" y="239.75" width="10.70" height="1.1" fill="#c9c253"/><rect x="148.35" y="239.75" width="10.70" height="1.1" fill="#a3db77"/><rect x="159.05" y="239.80" width="10.70" height="1.0" fill="#e3a445"/><rect x="73.45" y="240.55" width="10.70" height="1.3" fill="#6f97b6"/><rect x="84.15" y="240.55" width="10.70" height="1.3" fill="#6f97b6"/><rect x="94.85" y="240.65" width="10.70" height="1.1" fill="#a3db77"/><rect x="105.55" y="240.65" width="10.70" height="1.1" fill="#c9c253"/><rect x="116.25" y="241.30" width="10.70" height="1.0" fill="#e3a445"/><rect x="126.95" y="241.25" width="10.70" height="1.1" fill="#c9c253"/><rect x="137.65" y="241.20" width="10.70" height="1.2" fill="#5cc6cf"/><rect x="148.35" y="241.20" width="10.70" height="1.2" fill="#5cc6cf"/><rect x="159.05" y="241.20" width="10.70" height="1.2" fill="#5cc6cf"/><rect x="169.75" y="241.15" width="10.70" height="1.3" fill="#6f97b6"/><rect x="180.45" y="241.25" width="10.70" height="1.1" fill="#c9c253"/><rect x="180.45" y="241.85" width="10.70" height="1.5" fill="#4d70d2"/><rect x="191.15" y="242.05" width="10.70" height="1.1" fill="#a3db77"/><rect x="73.45" y="242.95" width="10.70" height="1.1" fill="#c9c253"/><rect x="84.15" y="242.75" width="10.70" height="1.5" fill="#4d70d2"/><rect x="94.85" y="242.70" width="10.70" height="1.6" fill="#4242b4"/><rect x="105.55" y="242.75" width="10.70" height="1.5" fill="#4d70d2"/><rect x="116.25" y="242.75" width="10.70" height="1.5" fill="#4d70d2"/><rect x="126.95" y="242.70" width="10.70" height="1.6" fill="#4242b4"/><rect x="137.65" y="242.75" width="10.70" height="1.5" fill="#4d70d2"/><rect x="148.35" y="242.70" width="10.70" height="1.6" fill="#4242b4"/><rect x="159.05" y="242.70" width="10.70" height="1.6" fill="#4242b4"/><rect x="169.75" y="242.70" width="10.70" height="1.6" fill="#4242b4"/><rect x="180.45" y="242.75" width="10.70" height="1.5" fill="#4d70d2"/><rect x="191.15" y="242.95" width="10.70" height="1.1" fill="#a3db77"/><rect x="73.45" y="244.10" width="10.70" height="1.2" fill="#5cc6cf"/><rect x="84.15" y="243.95" width="10.70" height="1.5" fill="#4d70d2"/><rect x="94.85" y="243.95" width="10.70" height="1.5" fill="#4d70d2"/><rect x="105.55" y="244.05" width="10.70" height="1.3" fill="#6f97b6"/><rect x="180.45" y="243.95" width="10.70" height="1.5" fill="#4d70d2"/><rect x="62.75" y="244.80" width="10.70" height="1.0" fill="#e3a445"/><rect x="116.25" y="244.65" width="10.70" height="1.3" fill="#6f97b6"/><rect x="126.95" y="244.75" width="10.70" height="1.1" fill="#a3db77"/><rect x="137.65" y="244.75" width="10.70" height="1.1" fill="#a3db77"/><rect x="148.35" y="244.70" width="10.70" height="1.2" fill="#5cc6cf"/><rect x="159.05" y="244.65" width="10.70" height="1.3" fill="#6f97b6"/><rect x="169.75" y="244.75" width="10.70" height="1.1" fill="#c9c253"/><rect x="180.45" y="244.75" width="10.70" height="1.1" fill="#c9c253"/><rect x="105.55" y="246.05" width="10.70" height="1.1" fill="#c9c253"/><rect x="116.25" y="245.80" width="10.70" height="1.6" fill="#4242b4"/><rect x="126.95" y="245.85" width="10.70" height="1.5" fill="#4d70d2"/><rect x="137.65" y="246.00" width="10.70" height="1.2" fill="#5cc6cf"/><rect x="148.35" y="246.00" width="10.70" height="1.2" fill="#5cc6cf"/><rect x="159.05" y="246.00" width="10.70" height="1.2" fill="#5cc6cf"/><rect x="169.75" y="246.05" width="10.70" height="1.1" fill="#c9c253"/><rect x="180.45" y="246.05" width="10.70" height="1.1" fill="#a3db77"/><rect x="62.75" y="247.00" width="10.70" height="1.0" fill="#e3a445"/><rect x="73.45" y="246.90" width="10.70" height="1.2" fill="#5cc6cf"/><rect x="84.15" y="247.00" width="10.70" height="1.0" fill="#e3a445"/><rect x="94.85" y="246.70" width="10.70" height="1.6" fill="#4242b4"/><rect x="105.55" y="246.75" width="10.70" height="1.5" fill="#4d70d2"/><rect x="180.45" y="246.95" width="10.70" height="1.1" fill="#c9c253"/><rect x="116.25" y="247.40" width="10.70" height="1.6" fill="#4242b4"/><rect x="126.95" y="247.40" width="10.70" height="1.6" fill="#4242b4"/><rect x="137.65" y="247.40" width="10.70" height="1.6" fill="#4242b4"/><rect x="148.35" y="247.40" width="10.70" height="1.6" fill="#4242b4"/><rect x="159.05" y="247.40" width="10.70" height="1.6" fill="#4242b4"/><rect x="169.75" y="247.40" width="10.70" height="1.6" fill="#4242b4"/><rect x="180.45" y="247.45" width="10.70" height="1.5" fill="#4d70d2"/><rect x="191.15" y="247.70" width="10.70" height="1.0" fill="#e3a445"/><rect x="201.85" y="247.65" width="10.70" height="1.1" fill="#a3db77"/><rect x="73.45" y="248.75" width="10.70" height="1.1" fill="#a3db77"/><rect x="84.15" y="248.70" width="10.70" height="1.2" fill="#5cc6cf"/><rect x="94.85" y="248.55" width="10.70" height="1.5" fill="#4d70d2"/><rect x="105.55" y="248.70" width="10.70" height="1.2" fill="#5cc6cf"/><rect x="116.25" y="249.20" width="10.70" height="1.2" fill="#5cc6cf"/><rect x="126.95" y="249.15" width="10.70" height="1.3" fill="#6f97b6"/><rect x="137.65" y="249.20" width="10.70" height="1.2" fill="#5cc6cf"/><rect x="148.35" y="249.30" width="10.70" height="1.0" fill="#e3a445"/><rect x="159.05" y="249.20" width="10.70" height="1.2" fill="#5cc6cf"/><rect x="169.75" y="249.30" width="10.70" height="1.0" fill="#e3a445"/><rect x="180.45" y="249.20" width="10.70" height="1.2" fill="#5cc6cf"/><rect x="41.35" y="250.00" width="10.70" height="1.0" fill="#e3a445"/><rect x="73.45" y="249.95" width="10.70" height="1.1" fill="#c9c253"/><rect x="84.15" y="249.90" width="10.70" height="1.2" fill="#5cc6cf"/><rect x="94.85" y="249.70" width="10.70" height="1.6" fill="#4242b4"/><rect x="105.55" y="249.70" width="10.70" height="1.6" fill="#4242b4"/><rect x="116.25" y="250.30" width="10.70" height="1.6" fill="#4242b4"/><rect x="126.95" y="250.30" width="10.70" height="1.6" fill="#4242b4"/><rect x="137.65" y="250.35" width="10.70" height="1.5" fill="#4d70d2"/><rect x="148.35" y="250.30" width="10.70" height="1.6" fill="#4242b4"/><rect x="159.05" y="250.30" width="10.70" height="1.6" fill="#4242b4"/><rect x="169.75" y="250.35" width="10.70" height="1.5" fill="#4d70d2"/><rect x="180.45" y="250.30" width="10.70" height="1.6" fill="#4242b4"/><rect x="191.15" y="250.50" width="10.70" height="1.2" fill="#5cc6cf"/><rect x="52.05" y="251.70" width="10.70" height="1.0" fill="#e3a445"/><rect x="62.75" y="251.60" width="10.70" height="1.2" fill="#5cc6cf"/><rect x="73.45" y="251.55" width="10.70" height="1.3" fill="#6f97b6"/><rect x="84.15" y="251.60" width="10.70" height="1.2" fill="#5cc6cf"/><rect x="94.85" y="251.40" width="10.70" height="1.6" fill="#4242b4"/><rect x="105.55" y="251.45" width="10.70" height="1.5" fill="#4d70d2"/><rect x="191.15" y="251.60" width="10.70" height="1.2" fill="#5cc6cf"/><rect x="201.85" y="251.70" width="10.70" height="1.0" fill="#e3a445"/><rect x="116.25" y="252.05" width="10.70" height="1.5" fill="#4d70d2"/><rect x="126.95" y="252.20" width="10.70" height="1.2" fill="#5cc6cf"/><rect x="137.65" y="252.05" width="10.70" height="1.5" fill="#4d70d2"/><rect x="148.35" y="252.00" width="10.70" height="1.6" fill="#4242b4"/><rect x="159.05" y="252.30" width="10.70" height="1.0" fill="#e3a445"/><rect x="169.75" y="252.25" width="10.70" height="1.1" fill="#c9c253"/><rect x="180.45" y="252.25" width="10.70" height="1.1" fill="#c9c253"/><rect x="52.05" y="252.95" width="10.70" height="1.1" fill="#a3db77"/><rect x="62.75" y="252.75" width="10.70" height="1.5" fill="#4d70d2"/><rect x="73.45" y="252.95" width="10.70" height="1.1" fill="#a3db77"/><rect x="84.15" y="252.95" width="10.70" height="1.1" fill="#a3db77"/><rect x="94.85" y="252.75" width="10.70" height="1.5" fill="#4d70d2"/><rect x="105.55" y="252.75" width="10.70" height="1.5" fill="#4d70d2"/><rect x="116.25" y="253.65" width="10.70" height="1.1" fill="#a3db77"/><rect x="126.95" y="253.65" width="10.70" height="1.1" fill="#a3db77"/><rect x="137.65" y="253.65" width="10.70" height="1.1" fill="#a3db77"/><rect x="148.35" y="253.65" width="10.70" height="1.1" fill="#a3db77"/><rect x="159.05" y="253.65" width="10.70" height="1.1" fill="#a3db77"/><rect x="169.75" y="253.65" width="10.70" height="1.1" fill="#a3db77"/><rect x="180.45" y="253.65" width="10.70" height="1.1" fill="#c9c253"/><rect x="191.15" y="253.45" width="10.70" height="1.5" fill="#4d70d2"/><rect x="84.15" y="254.85" width="10.70" height="1.1" fill="#c9c253"/><rect x="94.85" y="254.80" width="10.70" height="1.2" fill="#5cc6cf"/><rect x="105.55" y="254.60" width="10.70" height="1.6" fill="#4242b4"/><rect x="116.25" y="255.30" width="10.70" height="1.6" fill="#4242b4"/><rect x="126.95" y="255.30" width="10.70" height="1.6" fill="#4242b4"/><rect x="137.65" y="255.30" width="10.70" height="1.6" fill="#4242b4"/><rect x="148.35" y="255.30" width="10.70" height="1.6" fill="#4242b4"/><rect x="159.05" y="255.30" width="10.70" height="1.6" fill="#4242b4"/><rect x="169.75" y="255.30" width="10.70" height="1.6" fill="#4242b4"/><rect x="180.45" y="255.30" width="10.70" height="1.6" fill="#4242b4"/><rect x="191.15" y="255.35" width="10.70" height="1.5" fill="#4d70d2"/><rect x="201.85" y="255.35" width="10.70" height="1.5" fill="#4d70d2"/><rect x="212.55" y="255.50" width="10.70" height="1.2" fill="#5cc6cf"/><rect x="84.15" y="256.40" width="10.70" height="1.0" fill="#e3a445"/><rect x="94.85" y="256.30" width="10.70" height="1.2" fill="#5cc6cf"/><rect x="105.55" y="256.10" width="10.70" height="1.6" fill="#4242b4"/><rect x="201.85" y="256.40" width="10.70" height="1.0" fill="#e3a445"/><rect x="116.25" y="256.90" width="10.70" height="1.6" fill="#4242b4"/><rect x="126.95" y="256.90" width="10.70" height="1.6" fill="#4242b4"/><rect x="137.65" y="256.90" width="10.70" height="1.6" fill="#4242b4"/><rect x="148.35" y="256.90" width="10.70" height="1.6" fill="#4242b4"/><rect x="159.05" y="256.90" width="10.70" height="1.6" fill="#4242b4"/><rect x="169.75" y="256.95" width="10.70" height="1.5" fill="#4d70d2"/><rect x="180.45" y="257.10" width="10.70" height="1.2" fill="#5cc6cf"/><rect x="191.15" y="257.15" width="10.70" height="1.1" fill="#a3db77"/><rect x="52.05" y="257.55" width="10.70" height="1.3" fill="#6f97b6"/><rect x="62.75" y="257.60" width="10.70" height="1.2" fill="#5cc6cf"/><rect x="73.45" y="257.45" width="10.70" height="1.5" fill="#4d70d2"/><rect x="84.15" y="257.40" width="10.70" height="1.6" fill="#4242b4"/><rect x="94.85" y="257.45" width="10.70" height="1.5" fill="#4d70d2"/><rect x="105.55" y="257.45" width="10.70" height="1.5" fill="#4d70d2"/><rect x="105.55" y="258.80" width="10.70" height="1.2" fill="#5cc6cf"/><rect x="116.25" y="258.85" width="10.70" height="1.1" fill="#c9c253"/><rect x="126.95" y="258.90" width="10.70" height="1.0" fill="#e3a445"/><rect x="137.65" y="258.80" width="10.70" height="1.2" fill="#5cc6cf"/><rect x="148.35" y="258.80" width="10.70" height="1.2" fill="#5cc6cf"/><rect x="159.05" y="258.85" width="10.70" height="1.1" fill="#a3db77"/><rect x="169.75" y="258.85" width="10.70" height="1.1" fill="#c9c253"/><rect x="180.45" y="258.80" width="10.70" height="1.2" fill="#5cc6cf"/><rect x="105.55" y="260.65" width="10.70" height="1.5" fill="#4d70d2"/><rect x="116.25" y="260.60" width="10.70" height="1.6" fill="#4242b4"/><rect x="126.95" y="260.60" width="10.70" height="1.6" fill="#4242b4"/><rect x="137.65" y="260.60" width="10.70" height="1.6" fill="#4242b4"/><rect x="148.35" y="260.60" width="10.70" height="1.6" fill="#4242b4"/><rect x="159.05" y="260.65" width="10.70" height="1.5" fill="#4d70d2"/><rect x="169.75" y="260.65" width="10.70" height="1.5" fill="#4d70d2"/><rect x="180.45" y="260.80" width="10.70" height="1.2" fill="#5cc6cf"/><rect x="191.15" y="260.90" width="10.70" height="1.0" fill="#e3a445"/><rect x="180.45" y="261.70" width="10.70" height="1.2" fill="#5cc6cf"/><rect x="201.85" y="261.75" width="10.70" height="1.1" fill="#c9c253"/><rect x="73.45" y="262.35" width="10.70" height="1.1" fill="#a3db77"/><rect x="84.15" y="262.25" width="10.70" height="1.3" fill="#6f97b6"/><rect x="94.85" y="262.35" width="10.70" height="1.1" fill="#a3db77"/><rect x="105.55" y="262.35" width="10.70" height="1.1" fill="#c9c253"/><rect x="116.25" y="262.30" width="10.70" height="1.2" fill="#5cc6cf"/><rect x="126.95" y="262.30" width="10.70" height="1.2" fill="#5cc6cf"/><rect x="137.65" y="262.35" width="10.70" height="1.1" fill="#c9c253"/><rect x="148.35" y="262.30" width="10.70" height="1.2" fill="#5cc6cf"/><rect x="159.05" y="262.35" width="10.70" height="1.1" fill="#c9c253"/><rect x="169.75" y="262.35" width="10.70" height="1.1" fill="#c9c253"/><rect x="73.45" y="266.15" width="10.70" height="1.1" fill="#a3db77"/><rect x="84.15" y="266.15" width="10.70" height="1.1" fill="#c9c253"/><rect x="94.85" y="266.15" width="10.70" height="1.1" fill="#c9c253"/><rect x="126.95" y="266.15" width="10.70" height="1.1" fill="#a3db77"/><rect x="137.65" y="266.15" width="10.70" height="1.1" fill="#a3db77"/><rect x="148.35" y="266.15" width="10.70" height="1.1" fill="#c9c253"/><rect x="159.05" y="266.15" width="10.70" height="1.1" fill="#a3db77"/><rect x="169.75" y="266.15" width="10.70" height="1.1" fill="#a3db77"/><rect x="180.45" y="266.15" width="10.70" height="1.1" fill="#a3db77"/><rect x="105.55" y="266.75" width="10.70" height="1.1" fill="#c9c253"/><rect x="180.45" y="266.70" width="10.70" height="1.2" fill="#5cc6cf"/></g>
<text x="338.60" y="229.90" font-size="11.5" text-anchor="middle" fill="#1e1e1e">Open</text>
<line x1="35.90" y1="179.90" x2="35.90" y2="186.50" stroke="#141414" stroke-width="1.5"/>
<line x1="35.90" y1="270.30" x2="35.90" y2="263.70" stroke="#141414" stroke-width="1.5"/>
<line x1="142.90" y1="179.90" x2="142.90" y2="186.50" stroke="#141414" stroke-width="1.5"/>
<line x1="142.90" y1="270.30" x2="142.90" y2="263.70" stroke="#141414" stroke-width="1.5"/>
<line x1="249.90" y1="179.90" x2="249.90" y2="186.50" stroke="#141414" stroke-width="1.5"/>
<line x1="249.90" y1="270.30" x2="249.90" y2="263.70" stroke="#141414" stroke-width="1.5"/>
<line x1="356.90" y1="179.90" x2="356.90" y2="186.50" stroke="#141414" stroke-width="1.5"/>
<line x1="356.90" y1="270.30" x2="356.90" y2="263.70" stroke="#141414" stroke-width="1.5"/>
<line x1="463.90" y1="179.90" x2="463.90" y2="186.50" stroke="#141414" stroke-width="1.5"/>
<line x1="463.90" y1="270.30" x2="463.90" y2="263.70" stroke="#141414" stroke-width="1.5"/>
<line x1="570.90" y1="179.90" x2="570.90" y2="186.50" stroke="#141414" stroke-width="1.5"/>
<line x1="570.90" y1="270.30" x2="570.90" y2="263.70" stroke="#141414" stroke-width="1.5"/>
<line x1="30.80" y1="193.67" x2="37.00" y2="193.67" stroke="#141414" stroke-width="1.3"/>
<line x1="629.70" y1="193.67" x2="623.50" y2="193.67" stroke="#141414" stroke-width="1.3"/>
<line x1="30.80" y1="207.80" x2="37.00" y2="207.80" stroke="#141414" stroke-width="1.3"/>
<line x1="629.70" y1="207.80" x2="623.50" y2="207.80" stroke="#141414" stroke-width="1.3"/>
<line x1="30.80" y1="221.92" x2="37.00" y2="221.92" stroke="#141414" stroke-width="1.3"/>
<line x1="629.70" y1="221.92" x2="623.50" y2="221.92" stroke="#141414" stroke-width="1.3"/>
<line x1="30.80" y1="236.05" x2="37.00" y2="236.05" stroke="#141414" stroke-width="1.3"/>
<line x1="629.70" y1="236.05" x2="623.50" y2="236.05" stroke="#141414" stroke-width="1.3"/>
<line x1="30.80" y1="250.17" x2="37.00" y2="250.17" stroke="#141414" stroke-width="1.3"/>
<line x1="629.70" y1="250.17" x2="623.50" y2="250.17" stroke="#141414" stroke-width="1.3"/>
<line x1="30.80" y1="264.30" x2="37.00" y2="264.30" stroke="#141414" stroke-width="1.3"/>
<line x1="629.70" y1="264.30" x2="623.50" y2="264.30" stroke="#141414" stroke-width="1.3"/>
<rect x="30.8" y="179.90" width="598.9" height="90.40" fill="none" stroke="#141414" stroke-width="1.6"/>
<text x="20.40" y="186.30" font-size="10.8" text-anchor="end" fill="#1e1e1e">1</text>
<text x="28.20" y="274.20" font-size="10.8" text-anchor="end" fill="#1e1e1e">128</text>
<text x="17.20" y="221.70" font-size="11.3" text-anchor="middle" fill="#1e1e1e" transform="rotate(-90 17.2 221.70000000000002)">Ele ID</text>
<rect x="30.8" y="284.40" width="598.9" height="90.60" fill="#e3ea57"/>
<g filter="url(#hblur)"><rect x="84.15" y="286.25" width="10.70" height="1.1" fill="#a3db77"/><rect x="94.85" y="286.25" width="10.70" height="1.1" fill="#c9c253"/><rect x="105.55" y="286.20" width="10.70" height="1.2" fill="#5cc6cf"/><rect x="116.25" y="286.50" width="10.70" height="1.2" fill="#5cc6cf"/><rect x="126.95" y="286.50" width="10.70" height="1.2" fill="#5cc6cf"/><rect x="126.95" y="287.90" width="10.70" height="1.0" fill="#e3a445"/><rect x="105.55" y="291.90" width="10.70" height="1.2" fill="#5cc6cf"/><rect x="116.25" y="292.00" width="10.70" height="1.0" fill="#e3a445"/><rect x="137.65" y="292.00" width="10.70" height="1.0" fill="#e3a445"/><rect x="116.25" y="292.45" width="10.70" height="1.3" fill="#6f97b6"/><rect x="126.95" y="292.50" width="10.70" height="1.2" fill="#5cc6cf"/><rect x="126.95" y="297.85" width="10.70" height="1.1" fill="#a3db77"/><rect x="126.95" y="302.95" width="10.70" height="1.1" fill="#c9c253"/><rect x="116.25" y="312.35" width="10.70" height="1.1" fill="#a3db77"/><rect x="31.60" y="315.35" width="9.75" height="1.3" fill="#6f97b6"/><rect x="41.35" y="315.40" width="10.70" height="1.2" fill="#5cc6cf"/><rect x="52.05" y="315.50" width="10.70" height="1.0" fill="#e3a445"/><rect x="62.75" y="315.40" width="10.70" height="1.2" fill="#5cc6cf"/><rect x="73.45" y="315.25" width="10.70" height="1.5" fill="#4d70d2"/><rect x="84.15" y="315.35" width="10.70" height="1.3" fill="#6f97b6"/><rect x="94.85" y="315.25" width="10.70" height="1.5" fill="#4d70d2"/><rect x="105.55" y="315.40" width="10.70" height="1.2" fill="#5cc6cf"/><rect x="116.25" y="315.40" width="10.70" height="1.2" fill="#5cc6cf"/><rect x="126.95" y="315.45" width="10.70" height="1.1" fill="#a3db77"/><rect x="137.65" y="315.45" width="10.70" height="1.1" fill="#c9c253"/><rect x="31.60" y="316.70" width="9.75" height="1.0" fill="#e3a445"/><rect x="52.05" y="316.45" width="10.70" height="1.5" fill="#4d70d2"/><rect x="73.45" y="316.40" width="10.70" height="1.6" fill="#4242b4"/><rect x="84.15" y="316.70" width="10.70" height="1.0" fill="#e3a445"/><rect x="116.25" y="316.70" width="10.70" height="1.0" fill="#e3a445"/><rect x="619.15" y="318.70" width="10.70" height="1.0" fill="#e3a445"/><rect x="31.60" y="318.85" width="9.75" height="1.1" fill="#a3db77"/><rect x="41.35" y="318.75" width="10.70" height="1.3" fill="#6f97b6"/><rect x="62.75" y="318.80" width="10.70" height="1.2" fill="#5cc6cf"/><rect x="73.45" y="318.80" width="10.70" height="1.2" fill="#5cc6cf"/><rect x="84.15" y="318.80" width="10.70" height="1.2" fill="#5cc6cf"/><rect x="94.85" y="318.80" width="10.70" height="1.2" fill="#5cc6cf"/><rect x="105.55" y="318.65" width="10.70" height="1.5" fill="#4d70d2"/><rect x="116.25" y="318.85" width="10.70" height="1.1" fill="#a3db77"/><rect x="126.95" y="318.85" width="10.70" height="1.1" fill="#a3db77"/><rect x="137.65" y="318.85" width="10.70" height="1.1" fill="#c9c253"/><rect x="52.05" y="320.15" width="10.70" height="1.1" fill="#c9c253"/><rect x="73.45" y="319.95" width="10.70" height="1.5" fill="#4d70d2"/><rect x="94.85" y="320.20" width="10.70" height="1.0" fill="#e3a445"/><rect x="73.45" y="323.95" width="10.70" height="1.1" fill="#a3db77"/><rect x="84.15" y="323.90" width="10.70" height="1.2" fill="#5cc6cf"/><rect x="94.85" y="324.00" width="10.70" height="1.0" fill="#e3a445"/><rect x="105.55" y="324.00" width="10.70" height="1.0" fill="#e3a445"/><rect x="116.25" y="323.85" width="10.70" height="1.3" fill="#6f97b6"/><rect x="126.95" y="323.90" width="10.70" height="1.2" fill="#5cc6cf"/><rect x="619.15" y="324.50" width="10.70" height="1.2" fill="#5cc6cf"/><rect x="84.15" y="328.75" width="10.70" height="1.1" fill="#c9c253"/><rect x="105.55" y="328.80" width="10.70" height="1.0" fill="#e3a445"/><rect x="126.95" y="328.75" width="10.70" height="1.1" fill="#c9c253"/><rect x="619.15" y="329.75" width="10.70" height="1.1" fill="#a3db77"/><rect x="84.15" y="332.75" width="10.70" height="1.1" fill="#c9c253"/><rect x="31.60" y="348.75" width="9.75" height="1.1" fill="#a3db77"/><rect x="41.35" y="348.65" width="10.70" height="1.3" fill="#6f97b6"/><rect x="62.75" y="348.75" width="10.70" height="1.1" fill="#a3db77"/><rect x="73.45" y="348.75" width="10.70" height="1.1" fill="#c9c253"/><rect x="84.15" y="348.70" width="10.70" height="1.2" fill="#5cc6cf"/><rect x="94.85" y="348.70" width="10.70" height="1.2" fill="#5cc6cf"/><rect x="73.45" y="352.45" width="10.70" height="1.3" fill="#6f97b6"/><rect x="84.15" y="352.55" width="10.70" height="1.1" fill="#a3db77"/><rect x="94.85" y="352.45" width="10.70" height="1.3" fill="#6f97b6"/><rect x="105.55" y="352.60" width="10.70" height="1.0" fill="#e3a445"/><rect x="116.25" y="352.60" width="10.70" height="1.0" fill="#e3a445"/><rect x="62.75" y="354.90" width="10.70" height="1.2" fill="#5cc6cf"/><rect x="73.45" y="354.75" width="10.70" height="1.5" fill="#4d70d2"/><rect x="84.15" y="354.75" width="10.70" height="1.5" fill="#4d70d2"/><rect x="94.85" y="354.75" width="10.70" height="1.5" fill="#4d70d2"/><rect x="105.55" y="354.90" width="10.70" height="1.2" fill="#5cc6cf"/><rect x="116.25" y="354.90" width="10.70" height="1.2" fill="#5cc6cf"/><rect x="41.35" y="355.65" width="10.70" height="1.1" fill="#a3db77"/><rect x="52.05" y="355.70" width="10.70" height="1.0" fill="#e3a445"/><rect x="73.45" y="355.40" width="10.70" height="1.6" fill="#4242b4"/><rect x="84.15" y="355.40" width="10.70" height="1.6" fill="#4242b4"/><rect x="94.85" y="355.40" width="10.70" height="1.6" fill="#4242b4"/><rect x="116.25" y="355.45" width="10.70" height="1.5" fill="#4d70d2"/><rect x="84.15" y="356.60" width="10.70" height="1.6" fill="#4242b4"/><rect x="94.85" y="356.60" width="10.70" height="1.6" fill="#4242b4"/><rect x="105.55" y="356.80" width="10.70" height="1.2" fill="#5cc6cf"/><rect x="116.25" y="356.65" width="10.70" height="1.5" fill="#4d70d2"/><rect x="126.95" y="356.80" width="10.70" height="1.2" fill="#5cc6cf"/><rect x="137.65" y="356.90" width="10.70" height="1.0" fill="#e3a445"/><rect x="62.75" y="357.80" width="10.70" height="1.0" fill="#e3a445"/><rect x="73.45" y="357.80" width="10.70" height="1.0" fill="#e3a445"/><rect x="84.15" y="357.55" width="10.70" height="1.5" fill="#4d70d2"/><rect x="94.85" y="357.55" width="10.70" height="1.5" fill="#4d70d2"/><rect x="105.55" y="357.70" width="10.70" height="1.2" fill="#5cc6cf"/><rect x="62.75" y="360.30" width="10.70" height="1.2" fill="#5cc6cf"/><rect x="73.45" y="360.35" width="10.70" height="1.1" fill="#c9c253"/><rect x="84.15" y="360.10" width="10.70" height="1.6" fill="#4242b4"/><rect x="94.85" y="360.15" width="10.70" height="1.5" fill="#4d70d2"/><rect x="105.55" y="360.15" width="10.70" height="1.5" fill="#4d70d2"/><rect x="116.25" y="360.35" width="10.70" height="1.1" fill="#c9c253"/><rect x="126.95" y="360.30" width="10.70" height="1.2" fill="#5cc6cf"/><rect x="137.65" y="360.40" width="10.70" height="1.0" fill="#e3a445"/><rect x="62.75" y="361.50" width="10.70" height="1.2" fill="#5cc6cf"/><rect x="73.45" y="361.45" width="10.70" height="1.3" fill="#6f97b6"/><rect x="84.15" y="361.35" width="10.70" height="1.5" fill="#4d70d2"/><rect x="94.85" y="361.50" width="10.70" height="1.2" fill="#5cc6cf"/><rect x="105.55" y="361.50" width="10.70" height="1.2" fill="#5cc6cf"/><rect x="116.25" y="361.35" width="10.70" height="1.5" fill="#4d70d2"/><rect x="126.95" y="361.50" width="10.70" height="1.2" fill="#5cc6cf"/><rect x="137.65" y="361.55" width="10.70" height="1.1" fill="#a3db77"/><rect x="94.85" y="362.85" width="10.70" height="1.1" fill="#c9c253"/><rect x="105.55" y="362.85" width="10.70" height="1.1" fill="#c9c253"/><rect x="62.75" y="365.80" width="10.70" height="1.0" fill="#e3a445"/><rect x="73.45" y="365.70" width="10.70" height="1.2" fill="#5cc6cf"/><rect x="84.15" y="365.70" width="10.70" height="1.2" fill="#5cc6cf"/><rect x="94.85" y="365.70" width="10.70" height="1.2" fill="#5cc6cf"/><rect x="105.55" y="365.75" width="10.70" height="1.1" fill="#a3db77"/><rect x="116.25" y="365.75" width="10.70" height="1.1" fill="#c9c253"/><rect x="126.95" y="365.80" width="10.70" height="1.0" fill="#e3a445"/><rect x="84.15" y="366.45" width="10.70" height="1.5" fill="#4d70d2"/><rect x="94.85" y="366.55" width="10.70" height="1.3" fill="#6f97b6"/><rect x="105.55" y="366.55" width="10.70" height="1.3" fill="#6f97b6"/><rect x="116.25" y="366.55" width="10.70" height="1.3" fill="#6f97b6"/><rect x="126.95" y="366.65" width="10.70" height="1.1" fill="#a3db77"/><rect x="73.45" y="370.75" width="10.70" height="1.1" fill="#a3db77"/><rect x="84.15" y="370.70" width="10.70" height="1.2" fill="#5cc6cf"/><rect x="94.85" y="370.65" width="10.70" height="1.3" fill="#6f97b6"/><rect x="105.55" y="370.70" width="10.70" height="1.2" fill="#5cc6cf"/><rect x="116.25" y="370.75" width="10.70" height="1.1" fill="#c9c253"/><rect x="126.95" y="370.75" width="10.70" height="1.1" fill="#a3db77"/></g>
<text x="342.10" y="331.10" font-size="11.5" text-anchor="middle" fill="#1e1e1e">Closed</text>
<line x1="35.90" y1="284.40" x2="35.90" y2="291.00" stroke="#141414" stroke-width="1.5"/>
<line x1="35.90" y1="375.00" x2="35.90" y2="368.40" stroke="#141414" stroke-width="1.5"/>
<line x1="142.90" y1="284.40" x2="142.90" y2="291.00" stroke="#141414" stroke-width="1.5"/>
<line x1="142.90" y1="375.00" x2="142.90" y2="368.40" stroke="#141414" stroke-width="1.5"/>
<line x1="249.90" y1="284.40" x2="249.90" y2="291.00" stroke="#141414" stroke-width="1.5"/>
<line x1="249.90" y1="375.00" x2="249.90" y2="368.40" stroke="#141414" stroke-width="1.5"/>
<line x1="356.90" y1="284.40" x2="356.90" y2="291.00" stroke="#141414" stroke-width="1.5"/>
<line x1="356.90" y1="375.00" x2="356.90" y2="368.40" stroke="#141414" stroke-width="1.5"/>
<line x1="463.90" y1="284.40" x2="463.90" y2="291.00" stroke="#141414" stroke-width="1.5"/>
<line x1="463.90" y1="375.00" x2="463.90" y2="368.40" stroke="#141414" stroke-width="1.5"/>
<line x1="570.90" y1="284.40" x2="570.90" y2="291.00" stroke="#141414" stroke-width="1.5"/>
<line x1="570.90" y1="375.00" x2="570.90" y2="368.40" stroke="#141414" stroke-width="1.5"/>
<line x1="30.80" y1="298.20" x2="37.00" y2="298.20" stroke="#141414" stroke-width="1.3"/>
<line x1="629.70" y1="298.20" x2="623.50" y2="298.20" stroke="#141414" stroke-width="1.3"/>
<line x1="30.80" y1="312.36" x2="37.00" y2="312.36" stroke="#141414" stroke-width="1.3"/>
<line x1="629.70" y1="312.36" x2="623.50" y2="312.36" stroke="#141414" stroke-width="1.3"/>
<line x1="30.80" y1="326.51" x2="37.00" y2="326.51" stroke="#141414" stroke-width="1.3"/>
<line x1="629.70" y1="326.51" x2="623.50" y2="326.51" stroke="#141414" stroke-width="1.3"/>
<line x1="30.80" y1="340.67" x2="37.00" y2="340.67" stroke="#141414" stroke-width="1.3"/>
<line x1="629.70" y1="340.67" x2="623.50" y2="340.67" stroke="#141414" stroke-width="1.3"/>
<line x1="30.80" y1="354.83" x2="37.00" y2="354.83" stroke="#141414" stroke-width="1.3"/>
<line x1="629.70" y1="354.83" x2="623.50" y2="354.83" stroke="#141414" stroke-width="1.3"/>
<line x1="30.80" y1="368.98" x2="37.00" y2="368.98" stroke="#141414" stroke-width="1.3"/>
<line x1="629.70" y1="368.98" x2="623.50" y2="368.98" stroke="#141414" stroke-width="1.3"/>
<rect x="30.8" y="284.40" width="598.9" height="90.60" fill="none" stroke="#141414" stroke-width="1.6"/>
<text x="20.40" y="290.80" font-size="10.8" text-anchor="end" fill="#1e1e1e">1</text>
<text x="28.20" y="378.90" font-size="10.8" text-anchor="end" fill="#1e1e1e">128</text>
<text x="17.20" y="326.30" font-size="11.3" text-anchor="middle" fill="#1e1e1e" transform="rotate(-90 17.2 326.3)">Ele ID</text>
<text x="35.90" y="388.00" font-size="10.8" text-anchor="middle" fill="#1e1e1e">7</text>
<text x="142.90" y="388.00" font-size="10.8" text-anchor="middle" fill="#1e1e1e">8</text>
<text x="249.90" y="388.00" font-size="10.8" text-anchor="middle" fill="#1e1e1e">9</text>
<text x="356.90" y="388.00" font-size="10.8" text-anchor="middle" fill="#1e1e1e">10</text>
<text x="463.90" y="388.00" font-size="10.8" text-anchor="middle" fill="#1e1e1e">11</text>
<text x="570.90" y="388.00" font-size="10.8" text-anchor="middle" fill="#1e1e1e">12</text>
<text x="328.50" y="397.40" font-size="11.5" text-anchor="middle" fill="#1e1e1e">Freq/Hz</text>
<rect x="646.4" y="254.6" width="7.4" height="51.3" fill="url(#parula)"/>
<text x="656.00" y="260.00" font-size="7.7" text-anchor="start" fill="#1e1e1e">0.01</text>
<text x="656.00" y="305.60" font-size="7.7" text-anchor="start" fill="#1e1e1e">&lt;0.0001</text>
<text x="643.90" y="279.60" font-size="9.5" text-anchor="middle" fill="#1e1e1e" transform="rotate(-90 643.9 279.6)">Pval</text>
<path d="M38.60,469.80 L42.30,482.00 L46.30,494.30 L50.40,503.50 L53.50,508.50 L56.60,511.70 L60.70,513.80 L65.80,516.80 L69.90,514.80 L73.90,507.60 L76.00,505.60 L79.00,507.00 L83.10,508.30 L87.20,504.60 L91.30,499.50 L95.40,485.80 L99.50,474.50 L101.90,468.40 L104.60,471.50 L108.70,474.50 L111.70,484.80 L115.80,508.70 L119.90,529.00 L122.50,545.00 L126.30,563.50 L130.10,576.00 L134.20,584.50 L138.30,589.20 L144.40,594.20 L148.50,598.60 L152.60,601.80 L160.00,604.20 L160.00,608.20 L152.60,605.80 L148.50,602.60 L144.40,598.20 L138.30,593.20 L134.20,588.50 L130.10,580.00 L126.30,567.50 L122.50,553.00 L119.90,537.00 L115.80,516.70 L111.70,503.80 L108.70,493.50 L104.60,490.50 L101.90,487.40 L99.50,493.50 L95.40,504.80 L91.30,507.50 L87.20,512.60 L83.10,516.30 L79.00,515.00 L76.00,513.60 L73.90,515.60 L69.90,522.80 L65.80,524.80 L60.70,521.80 L56.60,519.70 L53.50,516.50 L50.40,511.50 L46.30,498.30 L42.30,486.00 L38.60,473.80Z" fill="#e6c2b2" opacity="1.0" stroke="#e6c2b2" stroke-width="1.5" stroke-linejoin="round"/>
<path d="M38.60,460.10 L42.30,472.30 L46.30,486.60 L50.40,498.90 L54.50,513.20 L56.60,520.40 L60.70,527.20 L63.50,529.50 L66.80,532.30 L70.90,536.40 L75.00,539.90 L79.00,535.40 L83.10,527.50 L87.20,513.10 L89.30,506.50 L93.40,501.00 L97.40,497.60 L101.50,489.40 L104.60,484.30 L107.70,487.40 L111.70,499.60 L113.80,516.00 L117.90,528.30 L122.00,544.60 L126.00,563.20 L130.10,574.40 L134.20,582.60 L138.30,587.70 L144.40,592.80 L148.50,596.90 L152.60,599.90 L160.00,602.00 L160.00,605.60 L152.60,603.50 L148.50,600.50 L144.40,596.40 L138.30,591.30 L134.20,586.20 L130.10,578.00 L126.00,566.80 L122.00,552.60 L117.90,536.30 L113.80,524.00 L111.70,521.60 L107.70,509.40 L104.60,506.30 L101.50,511.40 L97.40,519.60 L93.40,523.00 L89.30,528.50 L87.20,535.10 L83.10,533.50 L79.00,541.40 L75.00,545.90 L70.90,542.40 L66.80,538.30 L63.50,535.50 L60.70,533.20 L56.60,523.40 L54.50,516.20 L50.40,501.90 L46.30,489.60 L42.30,475.30 L38.60,463.10Z" fill="#c3c3ec" opacity="0.85" stroke="#c3c3ec" stroke-width="1.5" stroke-linejoin="round"/>
<path d="M38.60,471.80 L42.30,484.00 L46.30,496.30 L50.40,507.50 L53.50,512.50 L56.60,515.70 L60.70,517.80 L65.80,520.80 L69.90,518.80 L73.90,511.60 L76.00,509.60 L79.00,511.00 L83.10,512.30 L87.20,508.60 L91.30,503.50 L95.40,495.30 L99.50,484.00 L101.90,477.90 L104.60,481.00 L108.70,484.00 L111.70,494.30 L115.80,512.70 L119.90,533.00 L122.50,549.00 L126.30,565.50 L130.10,578.00 L134.20,586.50 L138.30,591.20 L144.40,596.20 L148.50,600.60 L152.60,603.80 L160.00,606.20" fill="none" stroke="#bf3f2e" stroke-width="2.4" stroke-linejoin="round" stroke-linecap="round"/>
<path d="M38.60,461.60 L42.30,473.80 L46.30,488.10 L50.40,500.40 L54.50,514.70 L56.60,521.90 L60.70,530.20 L63.50,532.50 L66.80,535.30 L70.90,539.40 L75.00,542.90 L79.00,538.40 L83.10,530.50 L87.20,524.10 L89.30,517.50 L93.40,512.00 L97.40,508.60 L101.50,500.40 L104.60,495.30 L107.70,498.40 L111.70,510.60 L113.80,520.00 L117.90,532.30 L122.00,548.60 L126.00,565.00 L130.10,576.20 L134.20,584.40 L138.30,589.50 L144.40,594.60 L148.50,598.70 L152.60,601.70 L160.00,603.80" fill="none" stroke="#4655bd" stroke-width="2.4" stroke-linejoin="round" stroke-linecap="round"/>
<line x1="39.45" y1="443.10" x2="39.45" y2="625.70" stroke="#141414" stroke-width="2.5"/>
<line x1="38.25" y1="624.50" x2="160.80" y2="624.50" stroke="#141414" stroke-width="2.5"/>
<line x1="39.45" y1="604.34" x2="42.05" y2="604.34" stroke="#141414" stroke-width="1.3"/>
<line x1="39.45" y1="584.19" x2="42.05" y2="584.19" stroke="#141414" stroke-width="1.3"/>
<line x1="39.45" y1="564.03" x2="42.05" y2="564.03" stroke="#141414" stroke-width="1.3"/>
<line x1="39.45" y1="543.88" x2="42.05" y2="543.88" stroke="#141414" stroke-width="1.3"/>
<line x1="39.45" y1="523.72" x2="42.05" y2="523.72" stroke="#141414" stroke-width="1.3"/>
<line x1="39.45" y1="503.57" x2="42.05" y2="503.57" stroke="#141414" stroke-width="1.3"/>
<line x1="39.45" y1="483.41" x2="42.05" y2="483.41" stroke="#141414" stroke-width="1.3"/>
<line x1="39.45" y1="463.26" x2="42.05" y2="463.26" stroke="#141414" stroke-width="1.3"/>
<line x1="99.88" y1="624.50" x2="99.88" y2="621.90" stroke="#141414" stroke-width="1.6"/>
<line x1="160.30" y1="624.50" x2="160.30" y2="621.90" stroke="#141414" stroke-width="1.6"/>
<text x="28.30" y="450.00" font-size="11.4" text-anchor="end" fill="#1e1e1e">1</text>
<text x="34.00" y="628.60" font-size="11.4" text-anchor="end" fill="#1e1e1e">0.1</text>
<text x="39.40" y="637.80" font-size="11.4" text-anchor="middle" fill="#1e1e1e">5</text>
<text x="101.60" y="637.80" font-size="11.4" text-anchor="middle" fill="#1e1e1e">10</text>
<text x="161.20" y="637.80" font-size="11.4" text-anchor="middle" fill="#1e1e1e">15</text>
<text x="102.40" y="651.20" font-size="11.6" text-anchor="middle" fill="#1e1e1e">Freq/Hz</text>
<text x="25.80" y="538.00" font-size="11.6" text-anchor="middle" fill="#1e1e1e" transform="rotate(-90 25.8 538.0)">Rel Power (Open)</text>
<line x1="119.30" y1="449.80" x2="131.20" y2="449.80" stroke="#bf3f2e" stroke-width="2.2"/>
<rect x="119.30" y="456.70" width="11.90" height="7.5" fill="#e6c2b2"/>
<line x1="119.30" y1="471.10" x2="131.20" y2="471.10" stroke="#4655bd" stroke-width="2.2"/>
<rect x="119.30" y="478.10" width="11.90" height="7.5" fill="#c8c8ee"/>
<text x="133.20" y="452.90" font-size="8.35" text-anchor="start" fill="#1e1e1e">ScZ</text>
<text x="133.20" y="463.40" font-size="8.35" text-anchor="start" fill="#1e1e1e">ScZ SEM</text>
<text x="133.20" y="474.30" font-size="8.35" text-anchor="start" fill="#1e1e1e">HC</text>
<text x="133.20" y="484.90" font-size="8.35" text-anchor="start" fill="#1e1e1e">HC SEM</text>
<path d="M358.50,566.90 L361.70,568.30 L365.50,571.30 L369.80,573.60 L373.50,574.80 L377.80,575.00 L381.50,573.60 L384.50,570.90 L388.00,566.30 L391.20,560.20 L394.50,553.30 L397.90,545.50 L400.50,537.50 L403.20,533.40 L406.00,525.00 L408.50,512.00 L411.00,502.00 L413.90,481.60 L416.50,468.00 L419.20,455.40 L421.20,459.00 L423.30,465.50 L425.30,476.00 L427.30,486.90 L429.30,499.00 L431.30,502.00 L433.30,509.00 L435.30,520.70 L437.30,532.00 L439.30,544.70 L441.30,562.50 L443.30,574.30 L446.50,588.50 L450.00,601.10 L455.00,608.00 L460.70,611.80 L468.00,614.30 L478.50,616.30 L478.50,619.30 L468.00,617.30 L460.70,614.80 L455.00,611.00 L450.00,604.10 L446.50,591.50 L443.30,577.30 L441.30,565.50 L439.30,558.70 L437.30,546.00 L435.30,534.70 L433.30,523.00 L431.30,516.00 L429.30,513.00 L427.30,514.90 L425.30,504.00 L423.30,493.50 L421.20,487.00 L419.20,483.40 L416.50,496.00 L413.90,509.60 L411.00,512.00 L408.50,522.00 L406.00,535.00 L403.20,543.40 L400.50,547.50 L397.90,549.90 L394.50,557.70 L391.20,564.60 L388.00,570.70 L384.50,575.30 L381.50,578.00 L377.80,579.40 L373.50,579.20 L369.80,578.00 L365.50,575.70 L361.70,572.70 L358.50,571.30Z" fill="#e6c2b2" opacity="1.0" stroke="#e6c2b2" stroke-width="1.5" stroke-linejoin="round"/>
<path d="M358.50,569.00 L361.50,571.00 L364.40,573.00 L368.50,575.30 L372.40,577.00 L376.00,577.70 L379.10,579.10 L383.50,578.70 L388.50,576.50 L392.00,572.00 L395.20,566.30 L398.00,558.50 L400.50,545.70 L402.50,537.00 L404.50,527.00 L406.50,514.00 L408.50,490.30 L410.50,473.00 L412.60,458.50 L414.40,456.50 L416.00,462.00 L417.90,471.60 L419.90,479.50 L421.90,486.30 L424.50,501.00 L427.30,506.30 L430.50,511.50 L434.00,517.00 L436.00,524.00 L438.00,542.20 L440.00,554.50 L442.00,566.30 L444.50,578.50 L447.30,590.40 L451.00,599.00 L455.40,605.10 L460.00,609.00 L466.00,611.80 L472.00,613.50 L478.50,615.00 L478.50,618.00 L472.00,616.50 L466.00,614.80 L460.00,612.00 L455.40,608.10 L451.00,602.00 L447.30,593.40 L444.50,581.50 L442.00,569.30 L440.00,557.50 L438.00,545.20 L436.00,540.00 L434.00,533.00 L430.50,527.50 L427.30,522.30 L424.50,517.00 L421.90,518.30 L419.90,511.50 L417.90,503.60 L416.00,494.00 L414.40,488.50 L412.60,490.50 L410.50,505.00 L408.50,522.30 L406.50,526.00 L404.50,539.00 L402.50,549.00 L400.50,557.70 L398.00,561.50 L395.20,569.30 L392.00,575.00 L388.50,579.50 L383.50,581.70 L379.10,582.10 L376.00,580.70 L372.40,580.00 L368.50,578.30 L364.40,576.00 L361.50,574.00 L358.50,572.00Z" fill="#c3c3ec" opacity="0.85" stroke="#c3c3ec" stroke-width="1.5" stroke-linejoin="round"/>
<path d="M358.50,569.10 L361.70,570.50 L365.50,573.50 L369.80,575.80 L373.50,577.00 L377.80,577.20 L381.50,575.80 L384.50,573.10 L388.00,568.50 L391.20,562.40 L394.50,555.50 L397.90,547.70 L400.50,542.50 L403.20,538.40 L406.00,530.00 L408.50,517.00 L411.00,507.00 L413.90,495.60 L416.50,482.00 L419.20,469.40 L421.20,473.00 L423.30,479.50 L425.30,490.00 L427.30,500.90 L429.30,506.00 L431.30,509.00 L433.30,516.00 L435.30,527.70 L437.30,539.00 L439.30,551.70 L441.30,564.00 L443.30,575.80 L446.50,590.00 L450.00,602.60 L455.00,609.50 L460.70,613.30 L468.00,615.80 L478.50,617.80" fill="none" stroke="#bf3f2e" stroke-width="2.4" stroke-linejoin="round" stroke-linecap="round"/>
<path d="M358.50,570.50 L361.50,572.50 L364.40,574.50 L368.50,576.80 L372.40,578.50 L376.00,579.20 L379.10,580.60 L383.50,580.20 L388.50,578.00 L392.00,573.50 L395.20,567.80 L398.00,560.00 L400.50,551.70 L402.50,543.00 L404.50,533.00 L406.50,520.00 L408.50,506.30 L410.50,489.00 L412.60,474.50 L414.40,472.50 L416.00,478.00 L417.90,487.60 L419.90,495.50 L421.90,502.30 L424.50,509.00 L427.30,514.30 L430.50,519.50 L434.00,525.00 L436.00,532.00 L438.00,543.70 L440.00,556.00 L442.00,567.80 L444.50,580.00 L447.30,591.90 L451.00,600.50 L455.40,606.60 L460.00,610.50 L466.00,613.30 L472.00,615.00 L478.50,616.50" fill="none" stroke="#4655bd" stroke-width="2.4" stroke-linejoin="round" stroke-linecap="round"/>
<line x1="358.05" y1="443.00" x2="358.05" y2="625.70" stroke="#141414" stroke-width="2.5"/>
<line x1="356.85" y1="624.50" x2="479.90" y2="624.50" stroke="#141414" stroke-width="2.5"/>
<line x1="358.05" y1="443.80" x2="361.05" y2="443.80" stroke="#141414" stroke-width="1.7"/>
<line x1="358.05" y1="464.35" x2="360.65" y2="464.35" stroke="#141414" stroke-width="1.3"/>
<line x1="358.05" y1="485.70" x2="360.65" y2="485.70" stroke="#141414" stroke-width="1.3"/>
<line x1="358.05" y1="507.05" x2="360.65" y2="507.05" stroke="#141414" stroke-width="1.3"/>
<line x1="358.05" y1="528.40" x2="360.65" y2="528.40" stroke="#141414" stroke-width="1.3"/>
<line x1="358.05" y1="549.75" x2="360.65" y2="549.75" stroke="#141414" stroke-width="1.3"/>
<line x1="358.05" y1="571.10" x2="360.65" y2="571.10" stroke="#141414" stroke-width="1.3"/>
<line x1="358.05" y1="592.45" x2="360.65" y2="592.45" stroke="#141414" stroke-width="1.3"/>
<line x1="358.05" y1="613.80" x2="360.65" y2="613.80" stroke="#141414" stroke-width="1.3"/>
<line x1="418.72" y1="624.50" x2="418.72" y2="621.90" stroke="#141414" stroke-width="1.6"/>
<line x1="479.40" y1="624.50" x2="479.40" y2="621.90" stroke="#141414" stroke-width="1.6"/>
<text x="352.20" y="448.40" font-size="11.2" text-anchor="end" fill="#1e1e1e">1.8</text>
<text x="352.20" y="618.60" font-size="11.2" text-anchor="end" fill="#1e1e1e">0.2</text>
<text x="358.60" y="637.80" font-size="11.4" text-anchor="middle" fill="#1e1e1e">5</text>
<text x="420.00" y="637.80" font-size="11.4" text-anchor="middle" fill="#1e1e1e">10</text>
<text x="479.60" y="637.80" font-size="11.4" text-anchor="middle" fill="#1e1e1e">15</text>
<text x="420.80" y="651.20" font-size="11.6" text-anchor="middle" fill="#1e1e1e">Freq/Hz</text>
<text x="345.20" y="532.00" font-size="11.6" text-anchor="middle" fill="#1e1e1e" transform="rotate(-90 345.2 532.0)">Rel Power (Closed)</text>
<line x1="430.70" y1="447.10" x2="442.50" y2="447.10" stroke="#bf3f2e" stroke-width="2.2"/>
<rect x="430.70" y="454.20" width="11.80" height="7.5" fill="#e6c2b2"/>
<line x1="430.70" y1="468.50" x2="442.50" y2="468.50" stroke="#4655bd" stroke-width="2.2"/>
<rect x="430.70" y="475.40" width="11.80" height="7.5" fill="#c8c8ee"/>
<text x="444.50" y="450.30" font-size="8.35" text-anchor="start" fill="#1e1e1e">ScZ</text>
<text x="444.50" y="460.50" font-size="8.35" text-anchor="start" fill="#1e1e1e">ScZ SEM</text>
<text x="444.50" y="471.60" font-size="8.35" text-anchor="start" fill="#1e1e1e">HC</text>
<text x="444.50" y="482.50" font-size="8.35" text-anchor="start" fill="#1e1e1e">HC SEM</text>
<circle cx="235.40" cy="462.00" r="2.6" fill="#bf3f2e"/>
<circle cx="227.30" cy="477.80" r="2.6" fill="#bf3f2e"/>
<circle cx="225.10" cy="508.50" r="2.6" fill="#bf3f2e"/>
<circle cx="238.10" cy="511.40" r="2.6" fill="#bf3f2e"/>
<circle cx="236.10" cy="523.60" r="2.6" fill="#bf3f2e"/>
<circle cx="225.40" cy="525.10" r="2.6" fill="#bf3f2e"/>
<circle cx="230.10" cy="527.30" r="2.6" fill="#bf3f2e"/>
<circle cx="220.80" cy="529.10" r="2.6" fill="#bf3f2e"/>
<circle cx="241.60" cy="536.50" r="2.6" fill="#bf3f2e"/>
<circle cx="224.60" cy="541.50" r="2.6" fill="#bf3f2e"/>
<circle cx="222.60" cy="543.90" r="2.6" fill="#bf3f2e"/>
<circle cx="219.40" cy="546.80" r="2.6" fill="#bf3f2e"/>
<circle cx="218.60" cy="550.70" r="2.6" fill="#bf3f2e"/>
<circle cx="225.60" cy="548.30" r="2.6" fill="#bf3f2e"/>
<circle cx="230.40" cy="548.50" r="2.6" fill="#bf3f2e"/>
<circle cx="238.10" cy="549.10" r="2.6" fill="#bf3f2e"/>
<circle cx="232.60" cy="553.40" r="2.6" fill="#bf3f2e"/>
<circle cx="234.20" cy="555.60" r="2.6" fill="#bf3f2e"/>
<circle cx="223.70" cy="557.70" r="2.6" fill="#bf3f2e"/>
<circle cx="228.30" cy="558.90" r="2.6" fill="#bf3f2e"/>
<circle cx="235.40" cy="565.50" r="2.6" fill="#bf3f2e"/>
<circle cx="228.30" cy="566.30" r="2.6" fill="#bf3f2e"/>
<circle cx="226.00" cy="567.80" r="2.6" fill="#bf3f2e"/>
<circle cx="231.10" cy="570.60" r="2.6" fill="#bf3f2e"/>
<circle cx="222.50" cy="572.90" r="2.6" fill="#bf3f2e"/>
<circle cx="239.60" cy="575.10" r="2.6" fill="#bf3f2e"/>
<circle cx="220.90" cy="576.80" r="2.6" fill="#bf3f2e"/>
<circle cx="228.70" cy="578.00" r="2.6" fill="#bf3f2e"/>
<circle cx="233.80" cy="579.50" r="2.6" fill="#bf3f2e"/>
<circle cx="238.10" cy="581.10" r="2.6" fill="#bf3f2e"/>
<circle cx="222.50" cy="581.10" r="2.6" fill="#bf3f2e"/>
<circle cx="221.70" cy="585.40" r="2.6" fill="#bf3f2e"/>
<circle cx="227.20" cy="586.00" r="2.6" fill="#bf3f2e"/>
<circle cx="233.40" cy="587.70" r="2.6" fill="#bf3f2e"/>
<circle cx="218.60" cy="589.30" r="2.6" fill="#bf3f2e"/>
<circle cx="226.40" cy="590.10" r="2.6" fill="#bf3f2e"/>
<circle cx="216.60" cy="596.30" r="2.6" fill="#bf3f2e"/>
<circle cx="221.70" cy="596.70" r="2.6" fill="#bf3f2e"/>
<circle cx="238.50" cy="595.50" r="2.6" fill="#bf3f2e"/>
<circle cx="223.50" cy="574.50" r="2.6" fill="#bf3f2e"/>
<circle cx="225.00" cy="579.20" r="2.6" fill="#bf3f2e"/>
<circle cx="224.00" cy="583.50" r="2.6" fill="#bf3f2e"/>
<circle cx="227.00" cy="575.50" r="2.6" fill="#bf3f2e"/>
<circle cx="233.00" cy="589.20" r="2.6" fill="#bf3f2e"/>
<circle cx="230.50" cy="561.50" r="2.6" fill="#bf3f2e"/>
<circle cx="292.60" cy="536.20" r="2.6" fill="#4655bd"/>
<circle cx="288.10" cy="539.00" r="2.6" fill="#4655bd"/>
<circle cx="294.30" cy="540.90" r="2.6" fill="#4655bd"/>
<circle cx="284.80" cy="549.00" r="2.6" fill="#4655bd"/>
<circle cx="291.50" cy="552.80" r="2.6" fill="#4655bd"/>
<circle cx="281.70" cy="556.70" r="2.6" fill="#4655bd"/>
<circle cx="284.40" cy="556.90" r="2.6" fill="#4655bd"/>
<circle cx="300.60" cy="559.80" r="2.6" fill="#4655bd"/>
<circle cx="287.20" cy="566.30" r="2.6" fill="#4655bd"/>
<circle cx="287.60" cy="569.40" r="2.6" fill="#4655bd"/>
<circle cx="295.00" cy="566.30" r="2.6" fill="#4655bd"/>
<circle cx="294.60" cy="569.80" r="2.6" fill="#4655bd"/>
<circle cx="298.10" cy="573.30" r="2.6" fill="#4655bd"/>
<circle cx="304.30" cy="574.10" r="2.6" fill="#4655bd"/>
<circle cx="281.70" cy="575.10" r="2.6" fill="#4655bd"/>
<circle cx="290.30" cy="576.00" r="2.6" fill="#4655bd"/>
<circle cx="295.00" cy="576.80" r="2.6" fill="#4655bd"/>
<circle cx="278.60" cy="579.50" r="2.6" fill="#4655bd"/>
<circle cx="282.50" cy="578.40" r="2.6" fill="#4655bd"/>
<circle cx="279.40" cy="582.30" r="2.6" fill="#4655bd"/>
<circle cx="284.00" cy="581.50" r="2.6" fill="#4655bd"/>
<circle cx="289.10" cy="581.90" r="2.6" fill="#4655bd"/>
<circle cx="293.40" cy="579.90" r="2.6" fill="#4655bd"/>
<circle cx="299.30" cy="581.50" r="2.6" fill="#4655bd"/>
<circle cx="284.80" cy="584.60" r="2.6" fill="#4655bd"/>
<circle cx="289.50" cy="585.80" r="2.6" fill="#4655bd"/>
<circle cx="293.40" cy="585.40" r="2.6" fill="#4655bd"/>
<circle cx="299.30" cy="586.00" r="2.6" fill="#4655bd"/>
<circle cx="287.20" cy="588.10" r="2.6" fill="#4655bd"/>
<circle cx="291.10" cy="587.70" r="2.6" fill="#4655bd"/>
<circle cx="295.00" cy="589.70" r="2.6" fill="#4655bd"/>
<circle cx="284.00" cy="590.80" r="2.6" fill="#4655bd"/>
<circle cx="299.60" cy="592.80" r="2.6" fill="#4655bd"/>
<circle cx="285.60" cy="593.60" r="2.6" fill="#4655bd"/>
<circle cx="280.50" cy="597.20" r="2.6" fill="#4655bd"/>
<circle cx="283.70" cy="595.90" r="2.6" fill="#4655bd"/>
<circle cx="289.50" cy="598.60" r="2.6" fill="#4655bd"/>
<circle cx="283.10" cy="604.30" r="2.6" fill="#4655bd"/>
<circle cx="297.00" cy="604.30" r="2.6" fill="#4655bd"/>
<circle cx="286.00" cy="583.00" r="2.6" fill="#4655bd"/>
<circle cx="291.00" cy="583.50" r="2.6" fill="#4655bd"/>
<circle cx="288.50" cy="590.20" r="2.6" fill="#4655bd"/>
<circle cx="286.50" cy="592.50" r="2.6" fill="#4655bd"/>
<circle cx="292.00" cy="578.20" r="2.6" fill="#4655bd"/>
<circle cx="285.50" cy="574.00" r="2.6" fill="#4655bd"/>
<line x1="198.65" y1="443.00" x2="198.65" y2="625.70" stroke="#141414" stroke-width="2.5"/>
<line x1="197.45" y1="624.50" x2="320.00" y2="624.50" stroke="#141414" stroke-width="2.5"/>
<line x1="198.65" y1="488.90" x2="201.45" y2="488.90" stroke="#141414" stroke-width="1.5"/>
<line x1="198.65" y1="533.80" x2="201.45" y2="533.80" stroke="#141414" stroke-width="1.5"/>
<line x1="198.65" y1="579.00" x2="201.45" y2="579.00" stroke="#141414" stroke-width="1.5"/>
<line x1="198.65" y1="443.80" x2="201.65" y2="443.80" stroke="#141414" stroke-width="1.7"/>
<line x1="228.80" y1="624.50" x2="228.80" y2="621.90" stroke="#141414" stroke-width="1.8"/>
<line x1="258.90" y1="624.50" x2="258.90" y2="621.90" stroke="#141414" stroke-width="1.8"/>
<line x1="289.00" y1="624.50" x2="289.00" y2="621.90" stroke="#141414" stroke-width="1.8"/>
<line x1="319.10" y1="625.70" x2="319.10" y2="621.90" stroke="#141414" stroke-width="1.8"/>
<text x="193.35" y="447.20" font-size="11.4" text-anchor="end" fill="#1e1e1e">2</text>
<text x="191.75" y="628.70" font-size="11.4" text-anchor="end" fill="#1e1e1e">0</text>
<text x="236.20" y="644.50" font-size="11.6" text-anchor="middle" fill="#1e1e1e">ScZ</text>
<text x="289.30" y="644.50" font-size="11.6" text-anchor="middle" fill="#1e1e1e">HC</text>
<text x="177.50" y="578.00" font-size="11.56" fill="#1e1e1e" transform="rotate(-90 177.50 578.00)" textLength="53.30" lengthAdjust="spacingAndGlyphs">Rel Power</text>
<text x="190.70" y="578.00" font-size="11.56" fill="#1e1e1e" transform="rotate(-90 190.70 578.00)" textLength="96.10" lengthAdjust="spacingAndGlyphs">(Open, 7.5-8.5 Hz)</text>
<line x1="232.20" y1="442.20" x2="285.80" y2="442.20" stroke="#1a1a1a" stroke-width="1.8"/>
<text x="257.30" y="444.60" font-size="14.7" text-anchor="middle" fill="#1e1e1e">***</text>
<circle cx="550.20" cy="461.10" r="2.6" fill="#bf3f2e"/>
<circle cx="557.70" cy="467.40" r="2.6" fill="#bf3f2e"/>
<circle cx="537.20" cy="496.10" r="2.6" fill="#bf3f2e"/>
<circle cx="542.20" cy="502.10" r="2.6" fill="#bf3f2e"/>
<circle cx="551.60" cy="515.80" r="2.6" fill="#bf3f2e"/>
<circle cx="534.80" cy="522.20" r="2.6" fill="#bf3f2e"/>
<circle cx="546.40" cy="525.30" r="2.6" fill="#bf3f2e"/>
<circle cx="552.60" cy="533.80" r="2.6" fill="#bf3f2e"/>
<circle cx="536.50" cy="543.10" r="2.6" fill="#bf3f2e"/>
<circle cx="551.60" cy="546.10" r="2.6" fill="#bf3f2e"/>
<circle cx="552.10" cy="549.30" r="2.6" fill="#bf3f2e"/>
<circle cx="546.60" cy="552.60" r="2.6" fill="#bf3f2e"/>
<circle cx="558.10" cy="555.10" r="2.6" fill="#bf3f2e"/>
<circle cx="534.80" cy="557.30" r="2.6" fill="#bf3f2e"/>
<circle cx="539.90" cy="557.60" r="2.6" fill="#bf3f2e"/>
<circle cx="543.60" cy="557.60" r="2.6" fill="#bf3f2e"/>
<circle cx="540.10" cy="564.20" r="2.6" fill="#bf3f2e"/>
<circle cx="552.10" cy="563.70" r="2.6" fill="#bf3f2e"/>
<circle cx="550.10" cy="565.20" r="2.6" fill="#bf3f2e"/>
<circle cx="543.10" cy="566.20" r="2.6" fill="#bf3f2e"/>
<circle cx="545.10" cy="568.20" r="2.6" fill="#bf3f2e"/>
<circle cx="541.10" cy="570.20" r="2.6" fill="#bf3f2e"/>
<circle cx="546.10" cy="571.20" r="2.6" fill="#bf3f2e"/>
<circle cx="552.60" cy="571.20" r="2.6" fill="#bf3f2e"/>
<circle cx="544.10" cy="573.20" r="2.6" fill="#bf3f2e"/>
<circle cx="549.10" cy="574.20" r="2.6" fill="#bf3f2e"/>
<circle cx="549.10" cy="578.20" r="2.6" fill="#bf3f2e"/>
<circle cx="554.60" cy="579.20" r="2.6" fill="#bf3f2e"/>
<circle cx="552.10" cy="580.20" r="2.6" fill="#bf3f2e"/>
<circle cx="541.60" cy="580.00" r="2.6" fill="#bf3f2e"/>
<circle cx="554.10" cy="582.20" r="2.6" fill="#bf3f2e"/>
<circle cx="543.60" cy="586.20" r="2.6" fill="#bf3f2e"/>
<circle cx="541.60" cy="588.80" r="2.6" fill="#bf3f2e"/>
<circle cx="549.60" cy="590.30" r="2.6" fill="#bf3f2e"/>
<circle cx="550.10" cy="592.30" r="2.6" fill="#bf3f2e"/>
<circle cx="546.10" cy="593.80" r="2.6" fill="#bf3f2e"/>
<circle cx="543.10" cy="595.30" r="2.6" fill="#bf3f2e"/>
<circle cx="537.60" cy="596.30" r="2.6" fill="#bf3f2e"/>
<circle cx="557.10" cy="594.10" r="2.6" fill="#bf3f2e"/>
<circle cx="555.10" cy="596.50" r="2.6" fill="#bf3f2e"/>
<circle cx="544.60" cy="601.30" r="2.6" fill="#bf3f2e"/>
<circle cx="546.10" cy="603.80" r="2.6" fill="#bf3f2e"/>
<circle cx="545.10" cy="606.30" r="2.6" fill="#bf3f2e"/>
<circle cx="602.60" cy="511.80" r="2.6" fill="#4655bd"/>
<circle cx="614.20" cy="531.40" r="2.6" fill="#4655bd"/>
<circle cx="610.40" cy="536.90" r="2.6" fill="#4655bd"/>
<circle cx="614.70" cy="538.50" r="2.6" fill="#4655bd"/>
<circle cx="592.40" cy="542.90" r="2.6" fill="#4655bd"/>
<circle cx="605.30" cy="542.10" r="2.6" fill="#4655bd"/>
<circle cx="610.40" cy="547.70" r="2.6" fill="#4655bd"/>
<circle cx="601.00" cy="551.00" r="2.6" fill="#4655bd"/>
<circle cx="615.80" cy="551.50" r="2.6" fill="#4655bd"/>
<circle cx="605.50" cy="555.80" r="2.6" fill="#4655bd"/>
<circle cx="613.50" cy="557.40" r="2.6" fill="#4655bd"/>
<circle cx="604.90" cy="561.30" r="2.6" fill="#4655bd"/>
<circle cx="610.40" cy="564.10" r="2.6" fill="#4655bd"/>
<circle cx="602.70" cy="567.30" r="2.6" fill="#4655bd"/>
<circle cx="606.20" cy="569.00" r="2.6" fill="#4655bd"/>
<circle cx="614.20" cy="571.50" r="2.6" fill="#4655bd"/>
<circle cx="606.80" cy="574.10" r="2.6" fill="#4655bd"/>
<circle cx="610.60" cy="574.10" r="2.6" fill="#4655bd"/>
<circle cx="598.50" cy="576.90" r="2.6" fill="#4655bd"/>
<circle cx="603.00" cy="580.10" r="2.6" fill="#4655bd"/>
<circle cx="599.10" cy="581.00" r="2.6" fill="#4655bd"/>
<circle cx="608.10" cy="578.80" r="2.6" fill="#4655bd"/>
<circle cx="611.90" cy="578.20" r="2.6" fill="#4655bd"/>
<circle cx="615.80" cy="579.50" r="2.6" fill="#4655bd"/>
<circle cx="617.70" cy="581.40" r="2.6" fill="#4655bd"/>
<circle cx="607.40" cy="582.70" r="2.6" fill="#4655bd"/>
<circle cx="611.30" cy="582.70" r="2.6" fill="#4655bd"/>
<circle cx="614.50" cy="583.30" r="2.6" fill="#4655bd"/>
<circle cx="606.80" cy="585.90" r="2.6" fill="#4655bd"/>
<circle cx="610.60" cy="585.30" r="2.6" fill="#4655bd"/>
<circle cx="608.10" cy="589.10" r="2.6" fill="#4655bd"/>
<circle cx="599.70" cy="590.40" r="2.6" fill="#4655bd"/>
<circle cx="604.90" cy="591.30" r="2.6" fill="#4655bd"/>
<circle cx="609.40" cy="592.10" r="2.6" fill="#4655bd"/>
<circle cx="612.60" cy="593.00" r="2.6" fill="#4655bd"/>
<circle cx="616.40" cy="594.20" r="2.6" fill="#4655bd"/>
<circle cx="604.20" cy="598.10" r="2.6" fill="#4655bd"/>
<circle cx="610.00" cy="599.40" r="2.6" fill="#4655bd"/>
<circle cx="612.60" cy="599.40" r="2.6" fill="#4655bd"/>
<circle cx="606.50" cy="602.60" r="2.6" fill="#4655bd"/>
<circle cx="616.40" cy="608.30" r="2.6" fill="#4655bd"/>
<circle cx="608.00" cy="580.50" r="2.6" fill="#4655bd"/>
<circle cx="610.00" cy="588.00" r="2.6" fill="#4655bd"/>
<circle cx="607.50" cy="592.50" r="2.6" fill="#4655bd"/>
<circle cx="609.00" cy="596.50" r="2.6" fill="#4655bd"/>
<circle cx="613.00" cy="586.50" r="2.6" fill="#4655bd"/>
<line x1="517.10" y1="443.00" x2="517.10" y2="625.70" stroke="#141414" stroke-width="2.5"/>
<line x1="515.90" y1="624.50" x2="638.50" y2="624.50" stroke="#141414" stroke-width="2.5"/>
<line x1="517.10" y1="479.70" x2="519.90" y2="479.70" stroke="#141414" stroke-width="1.5"/>
<line x1="517.10" y1="515.90" x2="519.90" y2="515.90" stroke="#141414" stroke-width="1.5"/>
<line x1="517.10" y1="551.80" x2="519.90" y2="551.80" stroke="#141414" stroke-width="1.5"/>
<line x1="517.10" y1="587.90" x2="519.90" y2="587.90" stroke="#141414" stroke-width="1.5"/>
<line x1="517.10" y1="443.80" x2="520.10" y2="443.80" stroke="#141414" stroke-width="1.7"/>
<line x1="546.90" y1="624.50" x2="546.90" y2="621.90" stroke="#141414" stroke-width="1.8"/>
<line x1="576.80" y1="624.50" x2="576.80" y2="621.90" stroke="#141414" stroke-width="1.8"/>
<line x1="606.70" y1="624.50" x2="606.70" y2="621.90" stroke="#141414" stroke-width="1.8"/>
<line x1="637.60" y1="625.70" x2="637.60" y2="621.90" stroke="#141414" stroke-width="1.8"/>
<text x="511.80" y="447.20" font-size="11.4" text-anchor="end" fill="#1e1e1e">2.5</text>
<text x="510.20" y="628.70" font-size="11.4" text-anchor="end" fill="#1e1e1e">0</text>
<text x="554.30" y="644.50" font-size="11.6" text-anchor="middle" fill="#1e1e1e">ScZ</text>
<text x="607.00" y="644.50" font-size="11.6" text-anchor="middle" fill="#1e1e1e">HC</text>
<text x="491.75" y="581.90" font-size="11.56" fill="#1e1e1e" transform="rotate(-90 491.75 581.90)" textLength="53.30" lengthAdjust="spacingAndGlyphs">Rel Power</text>
<text x="504.50" y="581.90" font-size="11.56" fill="#1e1e1e" transform="rotate(-90 504.50 581.90)" textLength="104.70" lengthAdjust="spacingAndGlyphs">(Closed, 7.5-8.5 Hz)</text>
<line x1="549.60" y1="443.90" x2="603.30" y2="443.90" stroke="#1a1a1a" stroke-width="1.8"/>
<text x="577.50" y="445.70" font-size="14.7" text-anchor="middle" fill="#1e1e1e">**</text>
<circle cx="74.30" cy="697.60" r="2.6" fill="#bf3f2e"/>
<circle cx="75.30" cy="705.80" r="2.6" fill="#bf3f2e"/>
<circle cx="54.80" cy="738.10" r="2.6" fill="#bf3f2e"/>
<circle cx="71.50" cy="744.00" r="2.6" fill="#bf3f2e"/>
<circle cx="75.30" cy="744.20" r="2.6" fill="#bf3f2e"/>
<circle cx="66.70" cy="747.60" r="2.6" fill="#bf3f2e"/>
<circle cx="74.20" cy="755.10" r="2.6" fill="#bf3f2e"/>
<circle cx="76.20" cy="756.30" r="2.6" fill="#bf3f2e"/>
<circle cx="75.10" cy="758.20" r="2.6" fill="#bf3f2e"/>
<circle cx="71.50" cy="758.80" r="2.6" fill="#bf3f2e"/>
<circle cx="61.70" cy="759.80" r="2.6" fill="#bf3f2e"/>
<circle cx="71.20" cy="762.40" r="2.6" fill="#bf3f2e"/>
<circle cx="65.90" cy="763.50" r="2.6" fill="#bf3f2e"/>
<circle cx="68.20" cy="773.30" r="2.6" fill="#bf3f2e"/>
<circle cx="68.40" cy="777.40" r="2.6" fill="#bf3f2e"/>
<circle cx="71.70" cy="776.30" r="2.6" fill="#bf3f2e"/>
<circle cx="75.60" cy="778.80" r="2.6" fill="#bf3f2e"/>
<circle cx="58.70" cy="783.00" r="2.6" fill="#bf3f2e"/>
<circle cx="60.00" cy="788.00" r="2.6" fill="#bf3f2e"/>
<circle cx="62.80" cy="788.60" r="2.6" fill="#bf3f2e"/>
<circle cx="70.80" cy="792.50" r="2.6" fill="#bf3f2e"/>
<circle cx="69.50" cy="794.70" r="2.6" fill="#bf3f2e"/>
<circle cx="64.80" cy="796.50" r="2.6" fill="#bf3f2e"/>
<circle cx="66.60" cy="801.40" r="2.6" fill="#bf3f2e"/>
<circle cx="61.50" cy="807.60" r="2.6" fill="#bf3f2e"/>
<circle cx="74.00" cy="808.10" r="2.6" fill="#bf3f2e"/>
<circle cx="72.60" cy="811.60" r="2.6" fill="#bf3f2e"/>
<circle cx="69.10" cy="813.70" r="2.6" fill="#bf3f2e"/>
<circle cx="71.70" cy="814.80" r="2.6" fill="#bf3f2e"/>
<circle cx="69.10" cy="816.50" r="2.6" fill="#bf3f2e"/>
<circle cx="73.50" cy="817.40" r="2.6" fill="#bf3f2e"/>
<circle cx="70.80" cy="819.20" r="2.6" fill="#bf3f2e"/>
<circle cx="74.40" cy="820.60" r="2.6" fill="#bf3f2e"/>
<circle cx="67.70" cy="821.40" r="2.6" fill="#bf3f2e"/>
<circle cx="79.80" cy="822.60" r="2.6" fill="#bf3f2e"/>
<circle cx="66.40" cy="824.60" r="2.6" fill="#bf3f2e"/>
<circle cx="74.90" cy="825.00" r="2.6" fill="#bf3f2e"/>
<circle cx="68.60" cy="828.60" r="2.6" fill="#bf3f2e"/>
<circle cx="65.70" cy="830.80" r="2.6" fill="#bf3f2e"/>
<circle cx="72.60" cy="833.90" r="2.6" fill="#bf3f2e"/>
<circle cx="76.20" cy="835.10" r="2.6" fill="#bf3f2e"/>
<circle cx="71.30" cy="837.00" r="2.6" fill="#bf3f2e"/>
<circle cx="81.10" cy="839.30" r="2.6" fill="#bf3f2e"/>
<circle cx="67.70" cy="841.30" r="2.6" fill="#bf3f2e"/>
<circle cx="62.40" cy="842.80" r="2.6" fill="#bf3f2e"/>
<circle cx="64.20" cy="844.20" r="2.6" fill="#bf3f2e"/>
<circle cx="67.10" cy="847.90" r="2.6" fill="#bf3f2e"/>
<circle cx="144.40" cy="713.10" r="2.6" fill="#4655bd"/>
<circle cx="128.30" cy="720.10" r="2.6" fill="#4655bd"/>
<circle cx="127.90" cy="725.90" r="2.6" fill="#4655bd"/>
<circle cx="118.10" cy="727.30" r="2.6" fill="#4655bd"/>
<circle cx="134.90" cy="728.10" r="2.6" fill="#4655bd"/>
<circle cx="146.00" cy="734.30" r="2.6" fill="#4655bd"/>
<circle cx="130.60" cy="745.70" r="2.6" fill="#4655bd"/>
<circle cx="127.90" cy="762.80" r="2.6" fill="#4655bd"/>
<circle cx="123.30" cy="765.80" r="2.6" fill="#4655bd"/>
<circle cx="130.10" cy="765.80" r="2.6" fill="#4655bd"/>
<circle cx="128.60" cy="767.50" r="2.6" fill="#4655bd"/>
<circle cx="133.90" cy="769.30" r="2.6" fill="#4655bd"/>
<circle cx="142.20" cy="771.30" r="2.6" fill="#4655bd"/>
<circle cx="125.90" cy="777.50" r="2.6" fill="#4655bd"/>
<circle cx="128.30" cy="780.10" r="2.6" fill="#4655bd"/>
<circle cx="132.30" cy="780.10" r="2.6" fill="#4655bd"/>
<circle cx="122.30" cy="788.60" r="2.6" fill="#4655bd"/>
<circle cx="140.20" cy="788.40" r="2.6" fill="#4655bd"/>
<circle cx="120.90" cy="793.30" r="2.6" fill="#4655bd"/>
<circle cx="130.90" cy="792.00" r="2.6" fill="#4655bd"/>
<circle cx="136.90" cy="796.60" r="2.6" fill="#4655bd"/>
<circle cx="131.30" cy="800.10" r="2.6" fill="#4655bd"/>
<circle cx="131.60" cy="804.10" r="2.6" fill="#4655bd"/>
<circle cx="142.70" cy="807.30" r="2.6" fill="#4655bd"/>
<circle cx="126.90" cy="807.90" r="2.6" fill="#4655bd"/>
<circle cx="133.60" cy="809.60" r="2.6" fill="#4655bd"/>
<circle cx="124.90" cy="810.60" r="2.6" fill="#4655bd"/>
<circle cx="127.10" cy="812.60" r="2.6" fill="#4655bd"/>
<circle cx="118.60" cy="814.10" r="2.6" fill="#4655bd"/>
<circle cx="133.60" cy="816.30" r="2.6" fill="#4655bd"/>
<circle cx="117.60" cy="819.20" r="2.6" fill="#4655bd"/>
<circle cx="121.60" cy="818.70" r="2.6" fill="#4655bd"/>
<circle cx="124.60" cy="820.20" r="2.6" fill="#4655bd"/>
<circle cx="126.90" cy="822.70" r="2.6" fill="#4655bd"/>
<circle cx="128.60" cy="823.70" r="2.6" fill="#4655bd"/>
<circle cx="131.90" cy="822.00" r="2.6" fill="#4655bd"/>
<circle cx="136.10" cy="826.40" r="2.6" fill="#4655bd"/>
<circle cx="121.60" cy="830.20" r="2.6" fill="#4655bd"/>
<circle cx="126.30" cy="829.70" r="2.6" fill="#4655bd"/>
<circle cx="130.60" cy="830.20" r="2.6" fill="#4655bd"/>
<circle cx="128.60" cy="832.70" r="2.6" fill="#4655bd"/>
<circle cx="138.70" cy="833.70" r="2.6" fill="#4655bd"/>
<circle cx="123.60" cy="835.70" r="2.6" fill="#4655bd"/>
<circle cx="134.10" cy="837.20" r="2.6" fill="#4655bd"/>
<circle cx="121.60" cy="838.20" r="2.6" fill="#4655bd"/>
<circle cx="126.10" cy="839.20" r="2.6" fill="#4655bd"/>
<circle cx="128.10" cy="840.70" r="2.6" fill="#4655bd"/>
<circle cx="138.00" cy="839.70" r="2.6" fill="#4655bd"/>
<circle cx="124.10" cy="846.30" r="2.6" fill="#4655bd"/>
<circle cx="128.60" cy="846.50" r="2.6" fill="#4655bd"/>
<circle cx="133.30" cy="845.10" r="2.6" fill="#4655bd"/>
<circle cx="123.10" cy="850.30" r="2.6" fill="#4655bd"/>
<circle cx="130.10" cy="848.80" r="2.6" fill="#4655bd"/>
<circle cx="136.10" cy="852.80" r="2.6" fill="#4655bd"/>
<circle cx="136.10" cy="859.30" r="2.6" fill="#4655bd"/>
<circle cx="141.00" cy="859.30" r="2.6" fill="#4655bd"/>
<line x1="39.40" y1="693.90" x2="39.40" y2="876.50" stroke="#141414" stroke-width="2.5"/>
<line x1="38.20" y1="875.30" x2="160.90" y2="875.30" stroke="#141414" stroke-width="2.5"/>
<line x1="39.40" y1="703.30" x2="42.20" y2="703.30" stroke="#141414" stroke-width="1.5"/>
<line x1="39.40" y1="746.30" x2="42.20" y2="746.30" stroke="#141414" stroke-width="1.5"/>
<line x1="39.40" y1="789.00" x2="42.20" y2="789.00" stroke="#141414" stroke-width="1.5"/>
<line x1="39.40" y1="831.60" x2="42.20" y2="831.60" stroke="#141414" stroke-width="1.5"/>
<line x1="69.30" y1="875.30" x2="69.30" y2="872.70" stroke="#141414" stroke-width="1.8"/>
<line x1="99.10" y1="875.30" x2="99.10" y2="872.70" stroke="#141414" stroke-width="1.8"/>
<line x1="129.30" y1="875.30" x2="129.30" y2="872.70" stroke="#141414" stroke-width="1.8"/>
<line x1="160.00" y1="876.50" x2="160.00" y2="872.70" stroke="#141414" stroke-width="1.8"/>
<text x="34.10" y="698.10" font-size="11.4" text-anchor="end" fill="#1e1e1e"></text>
<text x="32.50" y="879.50" font-size="11.4" text-anchor="end" fill="#1e1e1e">0</text>
<text x="76.70" y="895.30" font-size="11.6" text-anchor="middle" fill="#1e1e1e">ScZ</text>
<text x="129.60" y="895.30" font-size="11.6" text-anchor="middle" fill="#1e1e1e">HC</text>
<text x="10.20" y="823.90" font-size="11.56" fill="#1e1e1e" transform="rotate(-90 10.20 823.90)" textLength="53.30" lengthAdjust="spacingAndGlyphs">Rel Power</text>
<text x="23.40" y="823.90" font-size="11.56" fill="#1e1e1e" transform="rotate(-90 23.40 823.90)" textLength="83.60" lengthAdjust="spacingAndGlyphs">(Open, 9–11 Hz)</text>
<line x1="73.00" y1="686.80" x2="126.80" y2="686.80" stroke="#1a1a1a" stroke-width="1.8"/>
<text x="98.90" y="683.40" font-size="11.6" text-anchor="middle" fill="#1e1e1e">ns</text>
<text x="33.90" y="706.80" font-size="11.2" text-anchor="end" fill="#1e1e1e">2</text>
<circle cx="228.60" cy="697.50" r="2.6" fill="#bf3f2e"/>
<circle cx="232.10" cy="697.20" r="2.6" fill="#bf3f2e"/>
<circle cx="222.60" cy="703.30" r="2.6" fill="#bf3f2e"/>
<circle cx="243.20" cy="707.30" r="2.6" fill="#bf3f2e"/>
<circle cx="228.30" cy="725.30" r="2.6" fill="#bf3f2e"/>
<circle cx="230.10" cy="725.10" r="2.6" fill="#bf3f2e"/>
<circle cx="234.30" cy="738.70" r="2.6" fill="#bf3f2e"/>
<circle cx="229.30" cy="745.40" r="2.6" fill="#bf3f2e"/>
<circle cx="233.10" cy="750.00" r="2.6" fill="#bf3f2e"/>
<circle cx="226.30" cy="751.40" r="2.6" fill="#bf3f2e"/>
<circle cx="225.60" cy="753.80" r="2.6" fill="#bf3f2e"/>
<circle cx="231.30" cy="752.80" r="2.6" fill="#bf3f2e"/>
<circle cx="228.30" cy="756.50" r="2.6" fill="#bf3f2e"/>
<circle cx="228.90" cy="764.80" r="2.6" fill="#bf3f2e"/>
<circle cx="224.60" cy="769.30" r="2.6" fill="#bf3f2e"/>
<circle cx="228.30" cy="769.80" r="2.6" fill="#bf3f2e"/>
<circle cx="234.10" cy="769.30" r="2.6" fill="#bf3f2e"/>
<circle cx="234.90" cy="771.50" r="2.6" fill="#bf3f2e"/>
<circle cx="232.10" cy="776.10" r="2.6" fill="#bf3f2e"/>
<circle cx="241.30" cy="777.10" r="2.6" fill="#bf3f2e"/>
<circle cx="224.10" cy="779.90" r="2.6" fill="#bf3f2e"/>
<circle cx="231.90" cy="778.50" r="2.6" fill="#bf3f2e"/>
<circle cx="223.10" cy="781.50" r="2.6" fill="#bf3f2e"/>
<circle cx="226.60" cy="782.00" r="2.6" fill="#bf3f2e"/>
<circle cx="229.10" cy="784.60" r="2.6" fill="#bf3f2e"/>
<circle cx="227.60" cy="788.10" r="2.6" fill="#bf3f2e"/>
<circle cx="236.90" cy="783.10" r="2.6" fill="#bf3f2e"/>
<circle cx="237.60" cy="785.10" r="2.6" fill="#bf3f2e"/>
<circle cx="232.60" cy="795.60" r="2.6" fill="#bf3f2e"/>
<circle cx="236.10" cy="798.60" r="2.6" fill="#bf3f2e"/>
<circle cx="233.90" cy="802.10" r="2.6" fill="#bf3f2e"/>
<circle cx="233.60" cy="805.10" r="2.6" fill="#bf3f2e"/>
<circle cx="243.40" cy="801.30" r="2.6" fill="#bf3f2e"/>
<circle cx="223.10" cy="810.70" r="2.6" fill="#bf3f2e"/>
<circle cx="229.10" cy="811.20" r="2.6" fill="#bf3f2e"/>
<circle cx="234.10" cy="811.70" r="2.6" fill="#bf3f2e"/>
<circle cx="223.60" cy="814.70" r="2.6" fill="#bf3f2e"/>
<circle cx="226.10" cy="816.70" r="2.6" fill="#bf3f2e"/>
<circle cx="233.10" cy="815.20" r="2.6" fill="#bf3f2e"/>
<circle cx="231.60" cy="820.20" r="2.6" fill="#bf3f2e"/>
<circle cx="235.10" cy="820.20" r="2.6" fill="#bf3f2e"/>
<circle cx="217.60" cy="829.20" r="2.6" fill="#bf3f2e"/>
<circle cx="227.90" cy="828.00" r="2.6" fill="#bf3f2e"/>
<circle cx="231.10" cy="828.20" r="2.6" fill="#bf3f2e"/>
<circle cx="225.60" cy="833.30" r="2.6" fill="#bf3f2e"/>
<circle cx="221.10" cy="835.80" r="2.6" fill="#bf3f2e"/>
<circle cx="220.30" cy="840.30" r="2.6" fill="#bf3f2e"/>
<circle cx="225.90" cy="844.50" r="2.6" fill="#bf3f2e"/>
<circle cx="228.60" cy="849.80" r="2.6" fill="#bf3f2e"/>
<circle cx="241.30" cy="848.80" r="2.6" fill="#bf3f2e"/>
<circle cx="224.30" cy="853.80" r="2.6" fill="#bf3f2e"/>
<circle cx="289.60" cy="704.60" r="2.6" fill="#4655bd"/>
<circle cx="293.10" cy="707.60" r="2.6" fill="#4655bd"/>
<circle cx="287.30" cy="711.60" r="2.6" fill="#4655bd"/>
<circle cx="289.60" cy="722.30" r="2.6" fill="#4655bd"/>
<circle cx="290.60" cy="728.40" r="2.6" fill="#4655bd"/>
<circle cx="276.80" cy="733.90" r="2.6" fill="#4655bd"/>
<circle cx="285.30" cy="738.00" r="2.6" fill="#4655bd"/>
<circle cx="284.60" cy="740.00" r="2.6" fill="#4655bd"/>
<circle cx="289.60" cy="745.00" r="2.6" fill="#4655bd"/>
<circle cx="293.90" cy="748.70" r="2.6" fill="#4655bd"/>
<circle cx="287.90" cy="750.40" r="2.6" fill="#4655bd"/>
<circle cx="279.60" cy="754.30" r="2.6" fill="#4655bd"/>
<circle cx="290.90" cy="754.80" r="2.6" fill="#4655bd"/>
<circle cx="294.90" cy="755.30" r="2.6" fill="#4655bd"/>
<circle cx="298.60" cy="758.50" r="2.6" fill="#4655bd"/>
<circle cx="294.30" cy="761.30" r="2.6" fill="#4655bd"/>
<circle cx="287.90" cy="767.00" r="2.6" fill="#4655bd"/>
<circle cx="280.10" cy="777.30" r="2.6" fill="#4655bd"/>
<circle cx="283.10" cy="777.30" r="2.6" fill="#4655bd"/>
<circle cx="286.10" cy="776.80" r="2.6" fill="#4655bd"/>
<circle cx="289.60" cy="777.30" r="2.6" fill="#4655bd"/>
<circle cx="297.60" cy="776.50" r="2.6" fill="#4655bd"/>
<circle cx="283.10" cy="780.50" r="2.6" fill="#4655bd"/>
<circle cx="288.60" cy="780.50" r="2.6" fill="#4655bd"/>
<circle cx="276.20" cy="783.30" r="2.6" fill="#4655bd"/>
<circle cx="285.10" cy="785.10" r="2.6" fill="#4655bd"/>
<circle cx="280.10" cy="788.60" r="2.6" fill="#4655bd"/>
<circle cx="287.90" cy="788.10" r="2.6" fill="#4655bd"/>
<circle cx="290.10" cy="790.60" r="2.6" fill="#4655bd"/>
<circle cx="294.90" cy="789.90" r="2.6" fill="#4655bd"/>
<circle cx="284.10" cy="793.60" r="2.6" fill="#4655bd"/>
<circle cx="287.60" cy="794.10" r="2.6" fill="#4655bd"/>
<circle cx="291.10" cy="794.60" r="2.6" fill="#4655bd"/>
<circle cx="296.90" cy="795.60" r="2.6" fill="#4655bd"/>
<circle cx="301.90" cy="795.30" r="2.6" fill="#4655bd"/>
<circle cx="291.30" cy="797.90" r="2.6" fill="#4655bd"/>
<circle cx="283.60" cy="801.90" r="2.6" fill="#4655bd"/>
<circle cx="289.10" cy="803.10" r="2.6" fill="#4655bd"/>
<circle cx="296.30" cy="808.70" r="2.6" fill="#4655bd"/>
<circle cx="291.60" cy="811.00" r="2.6" fill="#4655bd"/>
<circle cx="293.60" cy="818.20" r="2.6" fill="#4655bd"/>
<circle cx="303.40" cy="818.70" r="2.6" fill="#4655bd"/>
<circle cx="284.90" cy="821.00" r="2.6" fill="#4655bd"/>
<circle cx="292.30" cy="823.70" r="2.6" fill="#4655bd"/>
<circle cx="295.10" cy="825.70" r="2.6" fill="#4655bd"/>
<circle cx="296.60" cy="829.20" r="2.6" fill="#4655bd"/>
<circle cx="295.60" cy="830.70" r="2.6" fill="#4655bd"/>
<circle cx="282.90" cy="832.50" r="2.6" fill="#4655bd"/>
<circle cx="278.10" cy="834.80" r="2.6" fill="#4655bd"/>
<circle cx="292.10" cy="835.30" r="2.6" fill="#4655bd"/>
<circle cx="298.90" cy="835.10" r="2.6" fill="#4655bd"/>
<circle cx="284.30" cy="838.10" r="2.6" fill="#4655bd"/>
<circle cx="291.90" cy="840.10" r="2.6" fill="#4655bd"/>
<circle cx="290.10" cy="844.80" r="2.6" fill="#4655bd"/>
<circle cx="292.10" cy="848.80" r="2.6" fill="#4655bd"/>
<line x1="198.70" y1="693.90" x2="198.70" y2="876.50" stroke="#141414" stroke-width="2.5"/>
<line x1="197.50" y1="875.30" x2="320.00" y2="875.30" stroke="#141414" stroke-width="2.5"/>
<line x1="198.70" y1="730.60" x2="201.50" y2="730.60" stroke="#141414" stroke-width="1.5"/>
<line x1="198.70" y1="767.00" x2="201.50" y2="767.00" stroke="#141414" stroke-width="1.5"/>
<line x1="198.70" y1="802.80" x2="201.50" y2="802.80" stroke="#141414" stroke-width="1.5"/>
<line x1="198.70" y1="839.10" x2="201.50" y2="839.10" stroke="#141414" stroke-width="1.5"/>
<line x1="198.70" y1="694.70" x2="201.70" y2="694.70" stroke="#141414" stroke-width="1.7"/>
<line x1="228.90" y1="875.30" x2="228.90" y2="872.70" stroke="#141414" stroke-width="1.8"/>
<line x1="259.10" y1="875.30" x2="259.10" y2="872.70" stroke="#141414" stroke-width="1.8"/>
<line x1="288.90" y1="875.30" x2="288.90" y2="872.70" stroke="#141414" stroke-width="1.8"/>
<line x1="319.10" y1="876.50" x2="319.10" y2="872.70" stroke="#141414" stroke-width="1.8"/>
<text x="193.40" y="698.10" font-size="11.4" text-anchor="end" fill="#1e1e1e">2.5</text>
<text x="191.80" y="879.50" font-size="11.4" text-anchor="end" fill="#1e1e1e">0</text>
<text x="236.30" y="895.30" font-size="11.6" text-anchor="middle" fill="#1e1e1e">ScZ</text>
<text x="289.20" y="895.30" font-size="11.6" text-anchor="middle" fill="#1e1e1e">HC</text>
<text x="175.60" y="825.00" font-size="11.56" fill="#1e1e1e" transform="rotate(-90 175.60 825.00)" textLength="53.30" lengthAdjust="spacingAndGlyphs">Rel Power</text>
<text x="188.90" y="825.00" font-size="11.56" fill="#1e1e1e" transform="rotate(-90 188.90 825.00)" textLength="91.25" lengthAdjust="spacingAndGlyphs">(Closed, 9-11 Hz)</text>
<line x1="231.90" y1="689.40" x2="286.10" y2="689.40" stroke="#1a1a1a" stroke-width="1.8"/>
<text x="257.90" y="686.20" font-size="11.6" text-anchor="middle" fill="#1e1e1e">ns</text>
<circle cx="393.70" cy="697.70" r="2.6" fill="#bf3f2e"/>
<circle cx="380.10" cy="721.40" r="2.6" fill="#bf3f2e"/>
<circle cx="390.10" cy="733.40" r="2.6" fill="#bf3f2e"/>
<circle cx="386.70" cy="745.90" r="2.6" fill="#bf3f2e"/>
<circle cx="389.70" cy="758.00" r="2.6" fill="#bf3f2e"/>
<circle cx="381.30" cy="771.80" r="2.6" fill="#bf3f2e"/>
<circle cx="385.30" cy="770.50" r="2.6" fill="#bf3f2e"/>
<circle cx="380.60" cy="782.20" r="2.6" fill="#bf3f2e"/>
<circle cx="400.40" cy="781.80" r="2.6" fill="#bf3f2e"/>
<circle cx="383.10" cy="786.50" r="2.6" fill="#bf3f2e"/>
<circle cx="387.10" cy="789.10" r="2.6" fill="#bf3f2e"/>
<circle cx="384.60" cy="792.90" r="2.6" fill="#bf3f2e"/>
<circle cx="368.50" cy="793.60" r="2.6" fill="#bf3f2e"/>
<circle cx="382.60" cy="800.60" r="2.6" fill="#bf3f2e"/>
<circle cx="386.10" cy="802.10" r="2.6" fill="#bf3f2e"/>
<circle cx="389.10" cy="805.60" r="2.6" fill="#bf3f2e"/>
<circle cx="393.90" cy="805.10" r="2.6" fill="#bf3f2e"/>
<circle cx="382.10" cy="808.10" r="2.6" fill="#bf3f2e"/>
<circle cx="390.10" cy="809.10" r="2.6" fill="#bf3f2e"/>
<circle cx="397.30" cy="810.60" r="2.6" fill="#bf3f2e"/>
<circle cx="385.10" cy="812.10" r="2.6" fill="#bf3f2e"/>
<circle cx="387.10" cy="814.20" r="2.6" fill="#bf3f2e"/>
<circle cx="390.10" cy="816.20" r="2.6" fill="#bf3f2e"/>
<circle cx="383.60" cy="819.20" r="2.6" fill="#bf3f2e"/>
<circle cx="387.10" cy="820.70" r="2.6" fill="#bf3f2e"/>
<circle cx="381.10" cy="825.00" r="2.6" fill="#bf3f2e"/>
<circle cx="385.60" cy="825.20" r="2.6" fill="#bf3f2e"/>
<circle cx="390.10" cy="826.20" r="2.6" fill="#bf3f2e"/>
<circle cx="399.70" cy="823.00" r="2.6" fill="#bf3f2e"/>
<circle cx="397.10" cy="826.70" r="2.6" fill="#bf3f2e"/>
<circle cx="391.10" cy="829.70" r="2.6" fill="#bf3f2e"/>
<circle cx="385.10" cy="833.00" r="2.6" fill="#bf3f2e"/>
<circle cx="388.60" cy="832.70" r="2.6" fill="#bf3f2e"/>
<circle cx="381.10" cy="836.20" r="2.6" fill="#bf3f2e"/>
<circle cx="391.90" cy="835.70" r="2.6" fill="#bf3f2e"/>
<circle cx="406.70" cy="833.20" r="2.6" fill="#bf3f2e"/>
<circle cx="382.10" cy="839.30" r="2.6" fill="#bf3f2e"/>
<circle cx="387.10" cy="840.30" r="2.6" fill="#bf3f2e"/>
<circle cx="392.60" cy="841.30" r="2.6" fill="#bf3f2e"/>
<circle cx="383.10" cy="841.80" r="2.6" fill="#bf3f2e"/>
<circle cx="388.90" cy="846.50" r="2.6" fill="#bf3f2e"/>
<circle cx="386.10" cy="850.80" r="2.6" fill="#bf3f2e"/>
<circle cx="381.90" cy="854.30" r="2.6" fill="#bf3f2e"/>
<circle cx="457.80" cy="726.10" r="2.6" fill="#4655bd"/>
<circle cx="451.50" cy="733.80" r="2.6" fill="#4655bd"/>
<circle cx="444.40" cy="740.90" r="2.6" fill="#4655bd"/>
<circle cx="453.50" cy="745.70" r="2.6" fill="#4655bd"/>
<circle cx="449.50" cy="753.00" r="2.6" fill="#4655bd"/>
<circle cx="435.10" cy="754.00" r="2.6" fill="#4655bd"/>
<circle cx="454.00" cy="769.20" r="2.6" fill="#4655bd"/>
<circle cx="452.20" cy="774.50" r="2.6" fill="#4655bd"/>
<circle cx="448.20" cy="778.80" r="2.6" fill="#4655bd"/>
<circle cx="446.60" cy="783.50" r="2.6" fill="#4655bd"/>
<circle cx="449.50" cy="784.20" r="2.6" fill="#4655bd"/>
<circle cx="453.50" cy="781.90" r="2.6" fill="#4655bd"/>
<circle cx="458.90" cy="784.20" r="2.6" fill="#4655bd"/>
<circle cx="431.70" cy="784.20" r="2.6" fill="#4655bd"/>
<circle cx="444.40" cy="793.10" r="2.6" fill="#4655bd"/>
<circle cx="443.50" cy="796.80" r="2.6" fill="#4655bd"/>
<circle cx="450.40" cy="799.80" r="2.6" fill="#4655bd"/>
<circle cx="454.90" cy="799.80" r="2.6" fill="#4655bd"/>
<circle cx="456.90" cy="803.50" r="2.6" fill="#4655bd"/>
<circle cx="443.30" cy="803.80" r="2.6" fill="#4655bd"/>
<circle cx="438.40" cy="807.40" r="2.6" fill="#4655bd"/>
<circle cx="441.90" cy="806.50" r="2.6" fill="#4655bd"/>
<circle cx="448.40" cy="806.90" r="2.6" fill="#4655bd"/>
<circle cx="443.30" cy="812.30" r="2.6" fill="#4655bd"/>
<circle cx="453.30" cy="814.50" r="2.6" fill="#4655bd"/>
<circle cx="451.70" cy="815.40" r="2.6" fill="#4655bd"/>
<circle cx="439.30" cy="816.30" r="2.6" fill="#4655bd"/>
<circle cx="442.60" cy="815.80" r="2.6" fill="#4655bd"/>
<circle cx="457.80" cy="817.60" r="2.6" fill="#4655bd"/>
<circle cx="444.60" cy="819.40" r="2.6" fill="#4655bd"/>
<circle cx="437.00" cy="821.90" r="2.6" fill="#4655bd"/>
<circle cx="445.10" cy="822.10" r="2.6" fill="#4655bd"/>
<circle cx="449.10" cy="823.00" r="2.6" fill="#4655bd"/>
<circle cx="452.80" cy="822.80" r="2.6" fill="#4655bd"/>
<circle cx="439.70" cy="827.00" r="2.6" fill="#4655bd"/>
<circle cx="442.80" cy="828.80" r="2.6" fill="#4655bd"/>
<circle cx="446.40" cy="828.30" r="2.6" fill="#4655bd"/>
<circle cx="450.80" cy="827.00" r="2.6" fill="#4655bd"/>
<circle cx="452.60" cy="827.90" r="2.6" fill="#4655bd"/>
<circle cx="446.80" cy="830.60" r="2.6" fill="#4655bd"/>
<circle cx="449.50" cy="829.70" r="2.6" fill="#4655bd"/>
<circle cx="447.70" cy="832.80" r="2.6" fill="#4655bd"/>
<circle cx="452.20" cy="833.70" r="2.6" fill="#4655bd"/>
<circle cx="459.60" cy="833.20" r="2.6" fill="#4655bd"/>
<circle cx="439.70" cy="835.60" r="2.6" fill="#4655bd"/>
<circle cx="446.80" cy="838.10" r="2.6" fill="#4655bd"/>
<circle cx="437.50" cy="838.80" r="2.6" fill="#4655bd"/>
<circle cx="442.80" cy="841.20" r="2.6" fill="#4655bd"/>
<circle cx="445.50" cy="840.80" r="2.6" fill="#4655bd"/>
<circle cx="435.00" cy="846.30" r="2.6" fill="#4655bd"/>
<circle cx="439.30" cy="844.40" r="2.6" fill="#4655bd"/>
<circle cx="441.50" cy="846.10" r="2.6" fill="#4655bd"/>
<circle cx="444.20" cy="847.90" r="2.6" fill="#4655bd"/>
<circle cx="448.40" cy="844.50" r="2.6" fill="#4655bd"/>
<circle cx="456.60" cy="844.80" r="2.6" fill="#4655bd"/>
<circle cx="443.70" cy="843.90" r="2.6" fill="#4655bd"/>
<line x1="358.00" y1="693.90" x2="358.00" y2="876.50" stroke="#141414" stroke-width="2.5"/>
<line x1="356.80" y1="875.30" x2="479.40" y2="875.30" stroke="#141414" stroke-width="2.5"/>
<line x1="358.00" y1="720.20" x2="360.80" y2="720.20" stroke="#141414" stroke-width="1.5"/>
<line x1="358.00" y1="746.30" x2="360.80" y2="746.30" stroke="#141414" stroke-width="1.5"/>
<line x1="358.00" y1="771.90" x2="360.80" y2="771.90" stroke="#141414" stroke-width="1.5"/>
<line x1="358.00" y1="798.10" x2="360.80" y2="798.10" stroke="#141414" stroke-width="1.5"/>
<line x1="358.00" y1="823.40" x2="360.80" y2="823.40" stroke="#141414" stroke-width="1.5"/>
<line x1="358.00" y1="848.70" x2="360.80" y2="848.70" stroke="#141414" stroke-width="1.5"/>
<line x1="358.00" y1="694.70" x2="361.00" y2="694.70" stroke="#141414" stroke-width="1.7"/>
<line x1="387.80" y1="875.30" x2="387.80" y2="872.70" stroke="#141414" stroke-width="1.8"/>
<line x1="418.10" y1="875.30" x2="418.10" y2="872.70" stroke="#141414" stroke-width="1.8"/>
<line x1="447.90" y1="875.30" x2="447.90" y2="872.70" stroke="#141414" stroke-width="1.8"/>
<line x1="478.50" y1="876.50" x2="478.50" y2="872.70" stroke="#141414" stroke-width="1.8"/>
<text x="352.70" y="698.10" font-size="11.4" text-anchor="end" fill="#1e1e1e">1.4</text>
<text x="351.10" y="879.50" font-size="11.4" text-anchor="end" fill="#1e1e1e">0</text>
<text x="395.20" y="895.30" font-size="11.6" text-anchor="middle" fill="#1e1e1e">ScZ</text>
<text x="448.20" y="895.30" font-size="11.6" text-anchor="middle" fill="#1e1e1e">HC</text>
<text x="336.40" y="831.70" font-size="11.56" fill="#1e1e1e" transform="rotate(-90 336.40 831.70)" textLength="53.30" lengthAdjust="spacingAndGlyphs">Rel Power</text>
<text x="350.40" y="831.70" font-size="11.56" fill="#1e1e1e" transform="rotate(-90 350.40 831.70)" textLength="98.40" lengthAdjust="spacingAndGlyphs">(Open, 11.5-13 Hz)</text>
<line x1="390.90" y1="686.20" x2="445.10" y2="686.20" stroke="#1a1a1a" stroke-width="1.8"/>
<text x="417.00" y="683.20" font-size="11.6" text-anchor="middle" fill="#1e1e1e">ns</text>
<circle cx="553.10" cy="694.70" r="2.6" fill="#bf3f2e"/>
<circle cx="554.90" cy="726.20" r="2.6" fill="#bf3f2e"/>
<circle cx="549.80" cy="755.10" r="2.6" fill="#bf3f2e"/>
<circle cx="542.30" cy="765.40" r="2.6" fill="#bf3f2e"/>
<circle cx="540.40" cy="786.90" r="2.6" fill="#bf3f2e"/>
<circle cx="541.60" cy="791.00" r="2.6" fill="#bf3f2e"/>
<circle cx="550.30" cy="793.10" r="2.6" fill="#bf3f2e"/>
<circle cx="546.60" cy="799.90" r="2.6" fill="#bf3f2e"/>
<circle cx="558.20" cy="804.60" r="2.6" fill="#bf3f2e"/>
<circle cx="535.60" cy="809.60" r="2.6" fill="#bf3f2e"/>
<circle cx="542.10" cy="809.40" r="2.6" fill="#bf3f2e"/>
<circle cx="552.30" cy="808.60" r="2.6" fill="#bf3f2e"/>
<circle cx="544.60" cy="821.70" r="2.6" fill="#bf3f2e"/>
<circle cx="547.10" cy="820.70" r="2.6" fill="#bf3f2e"/>
<circle cx="553.10" cy="821.70" r="2.6" fill="#bf3f2e"/>
<circle cx="550.10" cy="824.20" r="2.6" fill="#bf3f2e"/>
<circle cx="554.60" cy="826.20" r="2.6" fill="#bf3f2e"/>
<circle cx="537.60" cy="826.20" r="2.6" fill="#bf3f2e"/>
<circle cx="549.10" cy="828.20" r="2.6" fill="#bf3f2e"/>
<circle cx="553.10" cy="830.20" r="2.6" fill="#bf3f2e"/>
<circle cx="543.60" cy="832.20" r="2.6" fill="#bf3f2e"/>
<circle cx="547.10" cy="832.70" r="2.6" fill="#bf3f2e"/>
<circle cx="550.10" cy="834.20" r="2.6" fill="#bf3f2e"/>
<circle cx="546.60" cy="838.20" r="2.6" fill="#bf3f2e"/>
<circle cx="551.10" cy="837.70" r="2.6" fill="#bf3f2e"/>
<circle cx="553.60" cy="840.20" r="2.6" fill="#bf3f2e"/>
<circle cx="544.60" cy="841.20" r="2.6" fill="#bf3f2e"/>
<circle cx="549.10" cy="841.20" r="2.6" fill="#bf3f2e"/>
<circle cx="535.60" cy="844.10" r="2.6" fill="#bf3f2e"/>
<circle cx="538.90" cy="842.80" r="2.6" fill="#bf3f2e"/>
<circle cx="541.60" cy="845.30" r="2.6" fill="#bf3f2e"/>
<circle cx="545.10" cy="845.30" r="2.6" fill="#bf3f2e"/>
<circle cx="551.10" cy="844.30" r="2.6" fill="#bf3f2e"/>
<circle cx="555.60" cy="845.80" r="2.6" fill="#bf3f2e"/>
<circle cx="541.10" cy="850.80" r="2.6" fill="#bf3f2e"/>
<circle cx="547.90" cy="850.80" r="2.6" fill="#bf3f2e"/>
<circle cx="549.10" cy="856.80" r="2.6" fill="#bf3f2e"/>
<circle cx="552.60" cy="859.80" r="2.6" fill="#bf3f2e"/>
<circle cx="551.10" cy="860.30" r="2.6" fill="#bf3f2e"/>
<circle cx="528.50" cy="862.30" r="2.6" fill="#bf3f2e"/>
<circle cx="615.40" cy="700.20" r="2.6" fill="#4655bd"/>
<circle cx="604.20" cy="711.90" r="2.6" fill="#4655bd"/>
<circle cx="604.50" cy="754.40" r="2.6" fill="#4655bd"/>
<circle cx="606.40" cy="757.90" r="2.6" fill="#4655bd"/>
<circle cx="607.80" cy="759.90" r="2.6" fill="#4655bd"/>
<circle cx="607.00" cy="767.10" r="2.6" fill="#4655bd"/>
<circle cx="602.60" cy="769.30" r="2.6" fill="#4655bd"/>
<circle cx="613.40" cy="778.50" r="2.6" fill="#4655bd"/>
<circle cx="603.00" cy="781.10" r="2.6" fill="#4655bd"/>
<circle cx="606.40" cy="784.90" r="2.6" fill="#4655bd"/>
<circle cx="610.40" cy="790.20" r="2.6" fill="#4655bd"/>
<circle cx="604.90" cy="798.10" r="2.6" fill="#4655bd"/>
<circle cx="608.30" cy="800.10" r="2.6" fill="#4655bd"/>
<circle cx="613.10" cy="803.10" r="2.6" fill="#4655bd"/>
<circle cx="608.90" cy="806.10" r="2.6" fill="#4655bd"/>
<circle cx="613.30" cy="806.60" r="2.6" fill="#4655bd"/>
<circle cx="598.10" cy="811.10" r="2.6" fill="#4655bd"/>
<circle cx="603.10" cy="809.90" r="2.6" fill="#4655bd"/>
<circle cx="608.90" cy="812.60" r="2.6" fill="#4655bd"/>
<circle cx="603.10" cy="814.60" r="2.6" fill="#4655bd"/>
<circle cx="605.60" cy="816.60" r="2.6" fill="#4655bd"/>
<circle cx="612.10" cy="815.10" r="2.6" fill="#4655bd"/>
<circle cx="614.60" cy="817.30" r="2.6" fill="#4655bd"/>
<circle cx="617.10" cy="819.70" r="2.6" fill="#4655bd"/>
<circle cx="605.10" cy="819.20" r="2.6" fill="#4655bd"/>
<circle cx="608.90" cy="821.20" r="2.6" fill="#4655bd"/>
<circle cx="614.10" cy="819.20" r="2.6" fill="#4655bd"/>
<circle cx="594.80" cy="822.70" r="2.6" fill="#4655bd"/>
<circle cx="599.10" cy="826.70" r="2.6" fill="#4655bd"/>
<circle cx="605.10" cy="824.70" r="2.6" fill="#4655bd"/>
<circle cx="611.60" cy="829.70" r="2.6" fill="#4655bd"/>
<circle cx="607.60" cy="830.20" r="2.6" fill="#4655bd"/>
<circle cx="602.10" cy="832.00" r="2.6" fill="#4655bd"/>
<circle cx="601.10" cy="834.70" r="2.6" fill="#4655bd"/>
<circle cx="606.10" cy="834.20" r="2.6" fill="#4655bd"/>
<circle cx="609.60" cy="834.70" r="2.6" fill="#4655bd"/>
<circle cx="614.10" cy="837.20" r="2.6" fill="#4655bd"/>
<circle cx="604.60" cy="837.70" r="2.6" fill="#4655bd"/>
<circle cx="607.60" cy="839.20" r="2.6" fill="#4655bd"/>
<circle cx="612.10" cy="841.20" r="2.6" fill="#4655bd"/>
<circle cx="603.10" cy="842.80" r="2.6" fill="#4655bd"/>
<circle cx="608.10" cy="843.30" r="2.6" fill="#4655bd"/>
<circle cx="595.00" cy="845.50" r="2.6" fill="#4655bd"/>
<circle cx="603.60" cy="846.80" r="2.6" fill="#4655bd"/>
<circle cx="610.60" cy="846.80" r="2.6" fill="#4655bd"/>
<circle cx="607.10" cy="848.80" r="2.6" fill="#4655bd"/>
<circle cx="609.60" cy="850.80" r="2.6" fill="#4655bd"/>
<circle cx="604.10" cy="854.30" r="2.6" fill="#4655bd"/>
<circle cx="607.60" cy="854.50" r="2.6" fill="#4655bd"/>
<circle cx="611.90" cy="852.80" r="2.6" fill="#4655bd"/>
<line x1="517.10" y1="693.90" x2="517.10" y2="876.50" stroke="#141414" stroke-width="2.5"/>
<line x1="515.90" y1="875.30" x2="638.50" y2="875.30" stroke="#141414" stroke-width="2.5"/>
<line x1="517.10" y1="717.70" x2="519.90" y2="717.70" stroke="#141414" stroke-width="1.5"/>
<line x1="517.10" y1="740.50" x2="519.90" y2="740.50" stroke="#141414" stroke-width="1.5"/>
<line x1="517.10" y1="763.00" x2="519.90" y2="763.00" stroke="#141414" stroke-width="1.5"/>
<line x1="517.10" y1="785.80" x2="519.90" y2="785.80" stroke="#141414" stroke-width="1.5"/>
<line x1="517.10" y1="808.00" x2="519.90" y2="808.00" stroke="#141414" stroke-width="1.5"/>
<line x1="517.10" y1="830.20" x2="519.90" y2="830.20" stroke="#141414" stroke-width="1.5"/>
<line x1="517.10" y1="853.00" x2="519.90" y2="853.00" stroke="#141414" stroke-width="1.5"/>
<line x1="517.10" y1="694.70" x2="520.10" y2="694.70" stroke="#141414" stroke-width="1.7"/>
<line x1="546.90" y1="875.30" x2="546.90" y2="872.70" stroke="#141414" stroke-width="1.8"/>
<line x1="576.80" y1="875.30" x2="576.80" y2="872.70" stroke="#141414" stroke-width="1.8"/>
<line x1="606.70" y1="875.30" x2="606.70" y2="872.70" stroke="#141414" stroke-width="1.8"/>
<line x1="637.60" y1="876.50" x2="637.60" y2="872.70" stroke="#141414" stroke-width="1.8"/>
<text x="511.80" y="698.10" font-size="11.4" text-anchor="end" fill="#1e1e1e">1.6</text>
<text x="510.20" y="879.50" font-size="11.4" text-anchor="end" fill="#1e1e1e">0</text>
<text x="554.30" y="895.30" font-size="11.6" text-anchor="middle" fill="#1e1e1e">ScZ</text>
<text x="607.00" y="895.30" font-size="11.6" text-anchor="middle" fill="#1e1e1e">HC</text>
<text x="492.10" y="841.10" font-size="11.56" fill="#1e1e1e" transform="rotate(-90 492.10 841.10)" textLength="53.30" lengthAdjust="spacingAndGlyphs">Rel Power</text>
<text x="504.50" y="841.10" font-size="11.56" fill="#1e1e1e" transform="rotate(-90 504.50 841.10)" textLength="107.00" lengthAdjust="spacingAndGlyphs">(Closed, 11.5–13 Hz)</text>
<line x1="551.90" y1="682.90" x2="606.10" y2="682.90" stroke="#1a1a1a" stroke-width="1.8"/>
<text x="577.90" y="679.70" font-size="11.6" text-anchor="middle" fill="#1e1e1e">ns</text>
</svg></body></html>
